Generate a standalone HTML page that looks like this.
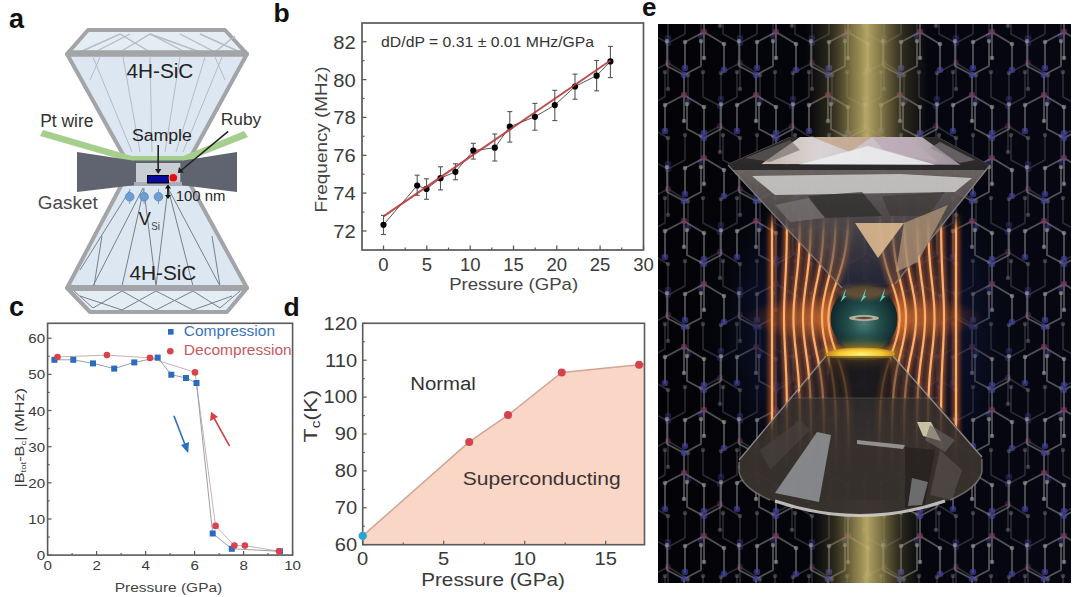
<!DOCTYPE html>
<html><head><meta charset="utf-8"><style>
html,body{margin:0;padding:0;background:#fff;overflow:hidden;}
svg{display:block;font-family:"Liberation Sans", sans-serif;}
</style></head><body>
<svg width="1080" height="597" viewBox="0 0 1080 597">
<rect width="1080" height="597" fill="#fff"/>
<g id="pa">
<polygon points="88,30 225,30 247,54 67,54" fill="#e4ecf4" stroke="#a2a4a8" stroke-width="4" stroke-linejoin="round"/>
<polygon points="67,54 247,54 190,158 125,158" fill="#dde7f1" stroke="#a2a4a8" stroke-width="4" stroke-linejoin="round"/>
<polygon points="122,184 190,184 247,288 67,288" fill="#dde7f1" stroke="#a2a4a8" stroke-width="4" stroke-linejoin="round"/>
<polygon points="67,288 247,288 227,312 90,312" fill="#e4ecf4" stroke="#a2a4a8" stroke-width="4" stroke-linejoin="round"/>
<polyline points="80,52 120,34 150,52" fill="none" stroke="#b4bcc6" stroke-width="1.4"/>
<polyline points="120,52 150,34 185,52" fill="none" stroke="#b4bcc6" stroke-width="1.4"/>
<polyline points="150,34 200,52" fill="none" stroke="#b4bcc6" stroke-width="1.4"/>
<polyline points="95,52 130,34" fill="none" stroke="#b4bcc6" stroke-width="1.4"/>
<polyline points="180,34 215,52 235,36" fill="none" stroke="#b4bcc6" stroke-width="1.4"/>
<polyline points="200,34 240,52" fill="none" stroke="#b4bcc6" stroke-width="1.4"/>
<line x1="93" y1="57" x2="132" y2="152" stroke="#b4bcc6" stroke-width="1"/>
<line x1="123" y1="57" x2="140" y2="152" stroke="#b4bcc6" stroke-width="1"/>
<line x1="150" y1="57" x2="152" y2="152" stroke="#b4bcc6" stroke-width="1"/>
<line x1="180" y1="57" x2="165" y2="152" stroke="#b4bcc6" stroke-width="1"/>
<line x1="205" y1="57" x2="176" y2="152" stroke="#b4bcc6" stroke-width="1"/>
<line x1="222" y1="57" x2="183" y2="152" stroke="#b4bcc6" stroke-width="1"/>
<line x1="100" y1="57" x2="90" y2="80" stroke="#b4bcc6" stroke-width="1"/>
<line x1="215" y1="57" x2="225" y2="80" stroke="#b4bcc6" stroke-width="1"/>
<line x1="143" y1="188" x2="93" y2="286" stroke="#76808a" stroke-width="1"/>
<line x1="144" y1="188" x2="122" y2="286" stroke="#76808a" stroke-width="1"/>
<line x1="145" y1="199" x2="156" y2="286" stroke="#76808a" stroke-width="1"/>
<line x1="168" y1="188" x2="156" y2="286" stroke="#76808a" stroke-width="1"/>
<line x1="168" y1="188" x2="193" y2="286" stroke="#76808a" stroke-width="1"/>
<line x1="168" y1="188" x2="220" y2="286" stroke="#76808a" stroke-width="1"/>
<line x1="102" y1="236" x2="94" y2="286" stroke="#76808a" stroke-width="1"/>
<line x1="212" y1="236" x2="220" y2="286" stroke="#76808a" stroke-width="1"/>
<line x1="130" y1="190" x2="80" y2="270" stroke="#76808a" stroke-width="1"/>
<polyline points="74,291 93,308 122,291 156,310 193,291 220,308 240,291" fill="none" stroke="#76808a" stroke-width="1"/>
<polyline points="80,296 122,310 156,291 193,310 232,296" fill="none" stroke="#76808a" stroke-width="1"/>
<line x1="67" y1="53.5" x2="247" y2="53.5" stroke="#a2a4a8" stroke-width="6.5"/>
<line x1="67" y1="288" x2="247" y2="288" stroke="#a2a4a8" stroke-width="6"/>
<polygon points="40,136 43,130 132,156 183,156 244,131 248,137 185,162 130,162" fill="#a6cf8e"/>
<polygon points="77,152 136,161 136,185 77,192" fill="#5f6470"/>
<polygon points="237,152 180,161 180,185 237,192" fill="#5f6470"/>
<rect x="134" y="160.5" width="48" height="3" fill="#5f6470"/>
<rect x="136" y="163" width="44.3" height="19" fill="#c9cdd4"/>
<rect x="134" y="182" width="48" height="4" fill="#a9aeb6"/>
<rect x="147.5" y="175.5" width="21" height="7.5" fill="#0a0a9a" stroke="#000" stroke-width="1"/>
<circle cx="173.3" cy="177.7" r="5" fill="#f0b0b0" opacity="0.6"/>
<circle cx="173.3" cy="177.7" r="3.8" fill="#e01010"/>
<line x1="158.2" y1="145" x2="158.2" y2="170" stroke="#222" stroke-width="1.6"/>
<polygon points="155,169 161.4,169 158.2,174" fill="#222"/>
<line x1="228.2" y1="131.3" x2="181" y2="170.5" stroke="#222" stroke-width="1.6"/>
<polygon points="177.8,173.1 179,167 184,172.5" fill="#222"/>
<line x1="129.7" y1="189" x2="129.7" y2="204" stroke="#7aa8d8" stroke-width="1"/>
<circle cx="129.7" cy="196.8" r="4.3" fill="#6d9dd2" stroke="#5585bd" stroke-width="0.8"/>
<line x1="144.1" y1="189" x2="144.1" y2="204" stroke="#7aa8d8" stroke-width="1"/>
<circle cx="144.1" cy="196.8" r="4.3" fill="#6d9dd2" stroke="#5585bd" stroke-width="0.8"/>
<line x1="158.5" y1="189" x2="158.5" y2="204" stroke="#7aa8d8" stroke-width="1"/>
<circle cx="158.5" cy="196.8" r="4.3" fill="#6d9dd2" stroke="#5585bd" stroke-width="0.8"/>
<line x1="168" y1="187" x2="168" y2="196" stroke="#111" stroke-width="1.6"/>
<polygon points="165,188.5 171,188.5 168,184.5" fill="#111"/>
<polygon points="165,195 171,195 168,199" fill="#111"/>
<text x="9" y="28.3" font-size="27" fill="#111" text-anchor="start" font-weight="bold" >a</text>
<text x="126.4" y="77.7" font-size="19.7" fill="#222" text-anchor="start" font-weight="normal" textLength="67" lengthAdjust="spacingAndGlyphs" >4H-SiC</text>
<text x="40.2" y="126.9" font-size="17.6" fill="#333" text-anchor="start" font-weight="normal" textLength="53.3" lengthAdjust="spacingAndGlyphs" >Pt wire</text>
<text x="220.8" y="124.9" font-size="17.3" fill="#333" text-anchor="start" font-weight="normal" textLength="40.5" lengthAdjust="spacingAndGlyphs" >Ruby</text>
<text x="131.9" y="140.9" font-size="17.3" fill="#222" text-anchor="start" font-weight="normal" textLength="60" lengthAdjust="spacingAndGlyphs" >Sample</text>
<text x="37.8" y="209.3" font-size="17.6" fill="#4a4a4a" text-anchor="start" font-weight="normal" textLength="60" lengthAdjust="spacingAndGlyphs" >Gasket</text>
<text x="138.5" y="225.2" font-size="19" fill="#222" text-anchor="start" font-weight="normal" textLength="12.4" lengthAdjust="spacingAndGlyphs" >V</text>
<text x="151.3" y="229.5" font-size="11" fill="#444" text-anchor="start" font-weight="normal" textLength="8.7" lengthAdjust="spacingAndGlyphs" >Si</text>
<text x="175.7" y="201" font-size="14.3" fill="#222" text-anchor="start" font-weight="normal" textLength="49.7" lengthAdjust="spacingAndGlyphs" >100 nm</text>
<text x="129.4" y="279.7" font-size="19.7" fill="#222" text-anchor="start" font-weight="normal" textLength="67" lengthAdjust="spacingAndGlyphs" >4H-SiC</text>
</g>
<g id="pb">
<line x1="383.5" y1="250" x2="383.5" y2="245.5" stroke="#5a5a5a" stroke-width="1.3"/>
<text transform="translate(383.5 271.3) scale(1.03 1)" x="0" y="0" font-size="18" fill="#3a3a3a" text-anchor="middle" font-weight="normal" >0</text>
<line x1="426.8" y1="250" x2="426.8" y2="245.5" stroke="#5a5a5a" stroke-width="1.3"/>
<text transform="translate(426.8 271.3) scale(1.03 1)" x="0" y="0" font-size="18" fill="#3a3a3a" text-anchor="middle" font-weight="normal" >5</text>
<line x1="470.2" y1="250" x2="470.2" y2="245.5" stroke="#5a5a5a" stroke-width="1.3"/>
<text transform="translate(470.2 271.3) scale(1.03 1)" x="0" y="0" font-size="18" fill="#3a3a3a" text-anchor="middle" font-weight="normal" >10</text>
<line x1="513.5" y1="250" x2="513.5" y2="245.5" stroke="#5a5a5a" stroke-width="1.3"/>
<text transform="translate(513.5 271.3) scale(1.03 1)" x="0" y="0" font-size="18" fill="#3a3a3a" text-anchor="middle" font-weight="normal" >15</text>
<line x1="556.8" y1="250" x2="556.8" y2="245.5" stroke="#5a5a5a" stroke-width="1.3"/>
<text transform="translate(556.8 271.3) scale(1.03 1)" x="0" y="0" font-size="18" fill="#3a3a3a" text-anchor="middle" font-weight="normal" >20</text>
<line x1="600.1" y1="250" x2="600.1" y2="245.5" stroke="#5a5a5a" stroke-width="1.3"/>
<text transform="translate(600.1 271.3) scale(1.03 1)" x="0" y="0" font-size="18" fill="#3a3a3a" text-anchor="middle" font-weight="normal" >25</text>
<line x1="643.5" y1="250" x2="643.5" y2="245.5" stroke="#5a5a5a" stroke-width="1.3"/>
<text transform="translate(643.5 271.3) scale(1.03 1)" x="0" y="0" font-size="18" fill="#3a3a3a" text-anchor="middle" font-weight="normal" >30</text>
<line x1="405.2" y1="250" x2="405.2" y2="247.5" stroke="#5a5a5a" stroke-width="1.2"/>
<line x1="448.5" y1="250" x2="448.5" y2="247.5" stroke="#5a5a5a" stroke-width="1.2"/>
<line x1="491.8" y1="250" x2="491.8" y2="247.5" stroke="#5a5a5a" stroke-width="1.2"/>
<line x1="535.2" y1="250" x2="535.2" y2="247.5" stroke="#5a5a5a" stroke-width="1.2"/>
<line x1="578.5" y1="250" x2="578.5" y2="247.5" stroke="#5a5a5a" stroke-width="1.2"/>
<line x1="621.8" y1="250" x2="621.8" y2="247.5" stroke="#5a5a5a" stroke-width="1.2"/>
<line x1="362" y1="231.0" x2="366.5" y2="231.0" stroke="#5a5a5a" stroke-width="1.3"/>
<text transform="translate(355.6 238.0) scale(1.12 1)" x="0" y="0" font-size="18" fill="#3a3a3a" text-anchor="end" font-weight="normal" >72</text>
<line x1="362" y1="193.1" x2="366.5" y2="193.1" stroke="#5a5a5a" stroke-width="1.3"/>
<text transform="translate(355.6 200.1) scale(1.12 1)" x="0" y="0" font-size="18" fill="#3a3a3a" text-anchor="end" font-weight="normal" >74</text>
<line x1="362" y1="155.3" x2="366.5" y2="155.3" stroke="#5a5a5a" stroke-width="1.3"/>
<text transform="translate(355.6 162.3) scale(1.12 1)" x="0" y="0" font-size="18" fill="#3a3a3a" text-anchor="end" font-weight="normal" >76</text>
<line x1="362" y1="117.4" x2="366.5" y2="117.4" stroke="#5a5a5a" stroke-width="1.3"/>
<text transform="translate(355.6 124.4) scale(1.12 1)" x="0" y="0" font-size="18" fill="#3a3a3a" text-anchor="end" font-weight="normal" >78</text>
<line x1="362" y1="79.6" x2="366.5" y2="79.6" stroke="#5a5a5a" stroke-width="1.3"/>
<text transform="translate(355.6 86.6) scale(1.12 1)" x="0" y="0" font-size="18" fill="#3a3a3a" text-anchor="end" font-weight="normal" >80</text>
<line x1="362" y1="41.7" x2="366.5" y2="41.7" stroke="#5a5a5a" stroke-width="1.3"/>
<text transform="translate(355.6 48.7) scale(1.12 1)" x="0" y="0" font-size="18" fill="#3a3a3a" text-anchor="end" font-weight="normal" >82</text>
<line x1="362" y1="212.1" x2="364.5" y2="212.1" stroke="#5a5a5a" stroke-width="1.2"/>
<line x1="362" y1="174.2" x2="364.5" y2="174.2" stroke="#5a5a5a" stroke-width="1.2"/>
<line x1="362" y1="136.3" x2="364.5" y2="136.3" stroke="#5a5a5a" stroke-width="1.2"/>
<line x1="362" y1="98.5" x2="364.5" y2="98.5" stroke="#5a5a5a" stroke-width="1.2"/>
<line x1="362" y1="60.6" x2="364.5" y2="60.6" stroke="#5a5a5a" stroke-width="1.2"/>
<rect x="362" y="23" width="281.5" height="227" fill="none" stroke="#5a5a5a" stroke-width="1.7"/>
<line x1="383.5" y1="215.4" x2="383.5" y2="234.5" stroke="#555" stroke-width="1.1"/>
<line x1="381.0" y1="215.4" x2="386.0" y2="215.4" stroke="#555" stroke-width="1.1"/>
<line x1="381.0" y1="234.5" x2="386.0" y2="234.5" stroke="#555" stroke-width="1.1"/>
<line x1="417.2" y1="175.2" x2="417.2" y2="195.3" stroke="#555" stroke-width="1.1"/>
<line x1="414.7" y1="175.2" x2="419.7" y2="175.2" stroke="#555" stroke-width="1.1"/>
<line x1="414.7" y1="195.3" x2="419.7" y2="195.3" stroke="#555" stroke-width="1.1"/>
<line x1="426.5" y1="178.8" x2="426.5" y2="199.3" stroke="#555" stroke-width="1.1"/>
<line x1="424.0" y1="178.8" x2="429.0" y2="178.8" stroke="#555" stroke-width="1.1"/>
<line x1="424.0" y1="199.3" x2="429.0" y2="199.3" stroke="#555" stroke-width="1.1"/>
<line x1="440.5" y1="166.8" x2="440.5" y2="189.9" stroke="#555" stroke-width="1.1"/>
<line x1="438.0" y1="166.8" x2="443.0" y2="166.8" stroke="#555" stroke-width="1.1"/>
<line x1="438.0" y1="189.9" x2="443.0" y2="189.9" stroke="#555" stroke-width="1.1"/>
<line x1="455.4" y1="163.8" x2="455.4" y2="179.8" stroke="#555" stroke-width="1.1"/>
<line x1="452.9" y1="163.8" x2="457.9" y2="163.8" stroke="#555" stroke-width="1.1"/>
<line x1="452.9" y1="179.8" x2="457.9" y2="179.8" stroke="#555" stroke-width="1.1"/>
<line x1="473.3" y1="143.3" x2="473.3" y2="159.1" stroke="#555" stroke-width="1.1"/>
<line x1="470.8" y1="143.3" x2="475.8" y2="143.3" stroke="#555" stroke-width="1.1"/>
<line x1="470.8" y1="159.1" x2="475.8" y2="159.1" stroke="#555" stroke-width="1.1"/>
<line x1="494.8" y1="134" x2="494.8" y2="161" stroke="#555" stroke-width="1.1"/>
<line x1="492.3" y1="134" x2="497.3" y2="134" stroke="#555" stroke-width="1.1"/>
<line x1="492.3" y1="161" x2="497.3" y2="161" stroke="#555" stroke-width="1.1"/>
<line x1="509.8" y1="111.6" x2="509.8" y2="142.1" stroke="#555" stroke-width="1.1"/>
<line x1="507.3" y1="111.6" x2="512.3" y2="111.6" stroke="#555" stroke-width="1.1"/>
<line x1="507.3" y1="142.1" x2="512.3" y2="142.1" stroke="#555" stroke-width="1.1"/>
<line x1="534.9" y1="103.4" x2="534.9" y2="130.2" stroke="#555" stroke-width="1.1"/>
<line x1="532.4" y1="103.4" x2="537.4" y2="103.4" stroke="#555" stroke-width="1.1"/>
<line x1="532.4" y1="130.2" x2="537.4" y2="130.2" stroke="#555" stroke-width="1.1"/>
<line x1="554.8" y1="90.3" x2="554.8" y2="120.6" stroke="#555" stroke-width="1.1"/>
<line x1="552.3" y1="90.3" x2="557.3" y2="90.3" stroke="#555" stroke-width="1.1"/>
<line x1="552.3" y1="120.6" x2="557.3" y2="120.6" stroke="#555" stroke-width="1.1"/>
<line x1="575" y1="74.1" x2="575" y2="99.2" stroke="#555" stroke-width="1.1"/>
<line x1="572.5" y1="74.1" x2="577.5" y2="74.1" stroke="#555" stroke-width="1.1"/>
<line x1="572.5" y1="99.2" x2="577.5" y2="99.2" stroke="#555" stroke-width="1.1"/>
<line x1="596.6" y1="60.5" x2="596.6" y2="90.8" stroke="#555" stroke-width="1.1"/>
<line x1="594.1" y1="60.5" x2="599.1" y2="60.5" stroke="#555" stroke-width="1.1"/>
<line x1="594.1" y1="90.8" x2="599.1" y2="90.8" stroke="#555" stroke-width="1.1"/>
<line x1="610.4" y1="46.4" x2="610.4" y2="77.6" stroke="#555" stroke-width="1.1"/>
<line x1="607.9" y1="46.4" x2="612.9" y2="46.4" stroke="#555" stroke-width="1.1"/>
<line x1="607.9" y1="77.6" x2="612.9" y2="77.6" stroke="#555" stroke-width="1.1"/>
<polyline points="383.5,224.8 417.2,185.5 426.5,188.9 440.5,178.2 455.4,171.8 473.3,150.7 494.8,147.7 509.8,126.7 534.9,116.8 554.8,105.1 575,86.5 596.6,75.7 610.4,61.4" fill="none" stroke="#444" stroke-width="0.9"/>
<circle cx="383.5" cy="224.8" r="3.1" fill="#000"/>
<circle cx="417.2" cy="185.5" r="3.1" fill="#000"/>
<circle cx="426.5" cy="188.9" r="3.1" fill="#000"/>
<circle cx="440.5" cy="178.2" r="3.1" fill="#000"/>
<circle cx="455.4" cy="171.8" r="3.1" fill="#000"/>
<circle cx="473.3" cy="150.7" r="3.1" fill="#000"/>
<circle cx="494.8" cy="147.7" r="3.1" fill="#000"/>
<circle cx="509.8" cy="126.7" r="3.1" fill="#000"/>
<circle cx="534.9" cy="116.8" r="3.1" fill="#000"/>
<circle cx="554.8" cy="105.1" r="3.1" fill="#000"/>
<circle cx="575" cy="86.5" r="3.1" fill="#000"/>
<circle cx="596.6" cy="75.7" r="3.1" fill="#000"/>
<circle cx="610.4" cy="61.4" r="3.1" fill="#000"/>
<line x1="383.5" y1="216.4" x2="610.4" y2="60.5" stroke="#b83a3a" stroke-width="2" opacity="0.9"/>
<text x="273.4" y="22.2" font-size="26.5" fill="#111" text-anchor="start" font-weight="bold" >b</text>
<text x="381.1" y="47.2" font-size="14" fill="#333" text-anchor="start" font-weight="normal" textLength="213" lengthAdjust="spacingAndGlyphs" >dD/dP = 0.31 ± 0.01 MHz/GPa</text>
<text x="449.2" y="290.3" font-size="16.2" fill="#444" text-anchor="start" font-weight="normal" textLength="128.9" lengthAdjust="spacingAndGlyphs" >Pressure (GPa)</text>
<text transform="translate(326.7,212.5) rotate(-90)" x="0" y="0" font-size="17.2" fill="#444" textLength="146" lengthAdjust="spacingAndGlyphs">Frequency (MHz)</text>
</g>
<g id="pc">
<line x1="47.6" y1="555.1" x2="47.6" y2="551.1" stroke="#5a5a5a" stroke-width="1.2"/>
<text transform="translate(47.6 569.5) scale(1.12 1)" x="0" y="0" font-size="13.5" fill="#3a3a3a" text-anchor="middle" font-weight="normal" >0</text>
<line x1="96.6" y1="555.1" x2="96.6" y2="551.1" stroke="#5a5a5a" stroke-width="1.2"/>
<text transform="translate(96.6 569.5) scale(1.12 1)" x="0" y="0" font-size="13.5" fill="#3a3a3a" text-anchor="middle" font-weight="normal" >2</text>
<line x1="145.6" y1="555.1" x2="145.6" y2="551.1" stroke="#5a5a5a" stroke-width="1.2"/>
<text transform="translate(145.6 569.5) scale(1.12 1)" x="0" y="0" font-size="13.5" fill="#3a3a3a" text-anchor="middle" font-weight="normal" >4</text>
<line x1="194.6" y1="555.1" x2="194.6" y2="551.1" stroke="#5a5a5a" stroke-width="1.2"/>
<text transform="translate(194.6 569.5) scale(1.12 1)" x="0" y="0" font-size="13.5" fill="#3a3a3a" text-anchor="middle" font-weight="normal" >6</text>
<line x1="243.6" y1="555.1" x2="243.6" y2="551.1" stroke="#5a5a5a" stroke-width="1.2"/>
<text transform="translate(243.6 569.5) scale(1.12 1)" x="0" y="0" font-size="13.5" fill="#3a3a3a" text-anchor="middle" font-weight="normal" >8</text>
<line x1="292.6" y1="555.1" x2="292.6" y2="551.1" stroke="#5a5a5a" stroke-width="1.2"/>
<text transform="translate(292.6 569.5) scale(1.12 1)" x="0" y="0" font-size="13.5" fill="#3a3a3a" text-anchor="middle" font-weight="normal" >10</text>
<line x1="72.1" y1="555.1" x2="72.1" y2="552.9" stroke="#5a5a5a" stroke-width="1.1"/>
<line x1="121.1" y1="555.1" x2="121.1" y2="552.9" stroke="#5a5a5a" stroke-width="1.1"/>
<line x1="170.1" y1="555.1" x2="170.1" y2="552.9" stroke="#5a5a5a" stroke-width="1.1"/>
<line x1="219.1" y1="555.1" x2="219.1" y2="552.9" stroke="#5a5a5a" stroke-width="1.1"/>
<line x1="268.1" y1="555.1" x2="268.1" y2="552.9" stroke="#5a5a5a" stroke-width="1.1"/>
<line x1="47.6" y1="555.1" x2="51.6" y2="555.1" stroke="#5a5a5a" stroke-width="1.2"/>
<text transform="translate(45.1 560.1) scale(1.12 1)" x="0" y="0" font-size="13.5" fill="#3a3a3a" text-anchor="end" font-weight="normal" >0</text>
<line x1="47.6" y1="519.0" x2="51.6" y2="519.0" stroke="#5a5a5a" stroke-width="1.2"/>
<text transform="translate(45.1 524.0) scale(1.12 1)" x="0" y="0" font-size="13.5" fill="#3a3a3a" text-anchor="end" font-weight="normal" >10</text>
<line x1="47.6" y1="482.8" x2="51.6" y2="482.8" stroke="#5a5a5a" stroke-width="1.2"/>
<text transform="translate(45.1 487.8) scale(1.12 1)" x="0" y="0" font-size="13.5" fill="#3a3a3a" text-anchor="end" font-weight="normal" >20</text>
<line x1="47.6" y1="446.7" x2="51.6" y2="446.7" stroke="#5a5a5a" stroke-width="1.2"/>
<text transform="translate(45.1 451.7) scale(1.12 1)" x="0" y="0" font-size="13.5" fill="#3a3a3a" text-anchor="end" font-weight="normal" >30</text>
<line x1="47.6" y1="410.5" x2="51.6" y2="410.5" stroke="#5a5a5a" stroke-width="1.2"/>
<text transform="translate(45.1 415.5) scale(1.12 1)" x="0" y="0" font-size="13.5" fill="#3a3a3a" text-anchor="end" font-weight="normal" >40</text>
<line x1="47.6" y1="374.4" x2="51.6" y2="374.4" stroke="#5a5a5a" stroke-width="1.2"/>
<text transform="translate(45.1 379.4) scale(1.12 1)" x="0" y="0" font-size="13.5" fill="#3a3a3a" text-anchor="end" font-weight="normal" >50</text>
<line x1="47.6" y1="338.2" x2="51.6" y2="338.2" stroke="#5a5a5a" stroke-width="1.2"/>
<text transform="translate(45.1 343.2) scale(1.12 1)" x="0" y="0" font-size="13.5" fill="#3a3a3a" text-anchor="end" font-weight="normal" >60</text>
<line x1="47.6" y1="537.0" x2="49.800000000000004" y2="537.0" stroke="#5a5a5a" stroke-width="1.1"/>
<line x1="47.6" y1="500.9" x2="49.800000000000004" y2="500.9" stroke="#5a5a5a" stroke-width="1.1"/>
<line x1="47.6" y1="464.7" x2="49.800000000000004" y2="464.7" stroke="#5a5a5a" stroke-width="1.1"/>
<line x1="47.6" y1="428.6" x2="49.800000000000004" y2="428.6" stroke="#5a5a5a" stroke-width="1.1"/>
<line x1="47.6" y1="392.4" x2="49.800000000000004" y2="392.4" stroke="#5a5a5a" stroke-width="1.1"/>
<line x1="47.6" y1="356.3" x2="49.800000000000004" y2="356.3" stroke="#5a5a5a" stroke-width="1.1"/>
<rect x="47.6" y="323.3" width="245.00000000000003" height="231.8" fill="none" stroke="#5a5a5a" stroke-width="1.6"/>
<polyline points="57.5,357 106.9,355.1 150,357.9 195,372.4 215.6,525.9 234.4,545.6 244.9,545.6 279,551.3" fill="none" stroke="#c8b0b0" stroke-width="1"/>
<polyline points="54.4,359.8 73.3,359.8 93,363.4 114.2,368.6 134.3,362.4 157.7,357.6 171.3,374.7 186,378 196.5,383 212.7,533.5 231.8,548.8 280,551.3" fill="none" stroke="#9aa0a8" stroke-width="1"/>
<rect x="51.4" y="356.8" width="6" height="6" fill="#2c6cbf"/>
<rect x="70.3" y="356.8" width="6" height="6" fill="#2c6cbf"/>
<rect x="90" y="360.4" width="6" height="6" fill="#2c6cbf"/>
<rect x="111.2" y="365.6" width="6" height="6" fill="#2c6cbf"/>
<rect x="131.3" y="359.4" width="6" height="6" fill="#2c6cbf"/>
<rect x="154.7" y="354.6" width="6" height="6" fill="#2c6cbf"/>
<rect x="168.3" y="371.7" width="6" height="6" fill="#2c6cbf"/>
<rect x="183" y="375" width="6" height="6" fill="#2c6cbf"/>
<rect x="193.5" y="380" width="6" height="6" fill="#2c6cbf"/>
<rect x="209.7" y="530.5" width="6" height="6" fill="#2c6cbf"/>
<rect x="228.8" y="545.8" width="6" height="6" fill="#2c6cbf"/>
<rect x="277" y="548.3" width="6" height="6" fill="#2c6cbf"/>
<circle cx="57.5" cy="357" r="3.3" fill="#d9424b"/>
<circle cx="106.9" cy="355.1" r="3.3" fill="#d9424b"/>
<circle cx="150" cy="357.9" r="3.3" fill="#d9424b"/>
<circle cx="195" cy="372.4" r="3.3" fill="#d9424b"/>
<circle cx="215.6" cy="525.9" r="3.3" fill="#d9424b"/>
<circle cx="234.4" cy="545.6" r="3.3" fill="#d9424b"/>
<circle cx="244.9" cy="545.6" r="3.3" fill="#d9424b"/>
<circle cx="279" cy="551.3" r="3.3" fill="#d9424b"/>
<rect x="168" y="329" width="5.6" height="5.7" fill="#2c6cbf"/>
<circle cx="170.3" cy="351.3" r="3.3" fill="#d9424b"/>
<text x="183.8" y="336.4" font-size="14.3" fill="#3a74b8" text-anchor="start" font-weight="normal" textLength="91.2" lengthAdjust="spacingAndGlyphs" >Compression</text>
<text x="183.8" y="355.2" font-size="14.3" fill="#c65a5e" text-anchor="start" font-weight="normal" textLength="107.9" lengthAdjust="spacingAndGlyphs" >Decompression</text>
<line x1="173.9" y1="415.7" x2="185.5" y2="446" stroke="#2a70c0" stroke-width="1.6"/>
<polygon points="188.2,453.2 181,445 189,442" fill="#2a70c0"/>
<line x1="229.6" y1="446.2" x2="214" y2="418" stroke="#d84040" stroke-width="1.6"/>
<polygon points="211.1,411.8 210,421 218,417" fill="#d84040"/>
<text x="9" y="316.2" font-size="27" fill="#111" text-anchor="start" font-weight="bold" >c</text>
<text x="114.8" y="591.7" font-size="13.5" fill="#444" text-anchor="start" font-weight="normal" textLength="107.4" lengthAdjust="spacingAndGlyphs" >Pressure (GPa)</text>
<text transform="translate(23.5,487.5) rotate(-90) scale(1.2 1)" font-size="13.5" fill="#3a3a3a">|B<tspan font-size="8" dy="2.5">tot</tspan><tspan dy="-2.5">-B</tspan><tspan font-size="8" dy="2.5">c</tspan><tspan dy="-2.5">| (MHz)</tspan></text>
</g>
<g id="pd">
<polygon points="362.7,544.7 362.7,535.9 469.2,441.9 508,415.1 561.7,372.4 639.1,364.7 644.5,364.2 644.5,544.7" fill="#f9d6c6"/>
<polyline points="362.7,535.9 469.2,441.9 508,415.1 561.7,372.4 639.1,364.7 644.5,364.2" fill="none" stroke="#d0a595" stroke-width="1.5"/>
<line x1="362.7" y1="544.7" x2="362.7" y2="540.7" stroke="#5a5a5a" stroke-width="1.2"/>
<text transform="translate(362.7 565) scale(1.12 1)" x="0" y="0" font-size="18" fill="#3a3a3a" text-anchor="middle" font-weight="normal" >0</text>
<line x1="443.7" y1="544.7" x2="443.7" y2="540.7" stroke="#5a5a5a" stroke-width="1.2"/>
<text transform="translate(443.7 565) scale(1.12 1)" x="0" y="0" font-size="18" fill="#3a3a3a" text-anchor="middle" font-weight="normal" >5</text>
<line x1="524.7" y1="544.7" x2="524.7" y2="540.7" stroke="#5a5a5a" stroke-width="1.2"/>
<text transform="translate(524.7 565) scale(1.12 1)" x="0" y="0" font-size="18" fill="#3a3a3a" text-anchor="middle" font-weight="normal" >10</text>
<line x1="605.7" y1="544.7" x2="605.7" y2="540.7" stroke="#5a5a5a" stroke-width="1.2"/>
<text transform="translate(605.7 565) scale(1.12 1)" x="0" y="0" font-size="18" fill="#3a3a3a" text-anchor="middle" font-weight="normal" >15</text>
<line x1="403.2" y1="544.7" x2="403.2" y2="542.5" stroke="#5a5a5a" stroke-width="1.1"/>
<line x1="484.2" y1="544.7" x2="484.2" y2="542.5" stroke="#5a5a5a" stroke-width="1.1"/>
<line x1="565.2" y1="544.7" x2="565.2" y2="542.5" stroke="#5a5a5a" stroke-width="1.1"/>
<line x1="362.7" y1="544.7" x2="366.7" y2="544.7" stroke="#5a5a5a" stroke-width="1.2"/>
<text transform="translate(357.1 551.0) scale(1.15 1)" x="0" y="0" font-size="17.5" fill="#3a3a3a" text-anchor="end" font-weight="normal" >60</text>
<line x1="362.7" y1="507.8" x2="366.7" y2="507.8" stroke="#5a5a5a" stroke-width="1.2"/>
<text transform="translate(357.1 514.1) scale(1.15 1)" x="0" y="0" font-size="17.5" fill="#3a3a3a" text-anchor="end" font-weight="normal" >70</text>
<line x1="362.7" y1="470.9" x2="366.7" y2="470.9" stroke="#5a5a5a" stroke-width="1.2"/>
<text transform="translate(357.1 477.2) scale(1.15 1)" x="0" y="0" font-size="17.5" fill="#3a3a3a" text-anchor="end" font-weight="normal" >80</text>
<line x1="362.7" y1="434.0" x2="366.7" y2="434.0" stroke="#5a5a5a" stroke-width="1.2"/>
<text transform="translate(357.1 440.3) scale(1.15 1)" x="0" y="0" font-size="17.5" fill="#3a3a3a" text-anchor="end" font-weight="normal" >90</text>
<line x1="362.7" y1="397.1" x2="366.7" y2="397.1" stroke="#5a5a5a" stroke-width="1.2"/>
<text transform="translate(357.1 403.4) scale(1.15 1)" x="0" y="0" font-size="17.5" fill="#3a3a3a" text-anchor="end" font-weight="normal" >100</text>
<line x1="362.7" y1="360.2" x2="366.7" y2="360.2" stroke="#5a5a5a" stroke-width="1.2"/>
<text transform="translate(357.1 366.5) scale(1.15 1)" x="0" y="0" font-size="17.5" fill="#3a3a3a" text-anchor="end" font-weight="normal" >110</text>
<line x1="362.7" y1="323.3" x2="366.7" y2="323.3" stroke="#5a5a5a" stroke-width="1.2"/>
<text transform="translate(357.1 329.6) scale(1.15 1)" x="0" y="0" font-size="17.5" fill="#3a3a3a" text-anchor="end" font-weight="normal" >120</text>
<line x1="362.7" y1="526.2" x2="364.9" y2="526.2" stroke="#5a5a5a" stroke-width="1.1"/>
<line x1="362.7" y1="489.4" x2="364.9" y2="489.4" stroke="#5a5a5a" stroke-width="1.1"/>
<line x1="362.7" y1="452.5" x2="364.9" y2="452.5" stroke="#5a5a5a" stroke-width="1.1"/>
<line x1="362.7" y1="415.6" x2="364.9" y2="415.6" stroke="#5a5a5a" stroke-width="1.1"/>
<line x1="362.7" y1="378.7" x2="364.9" y2="378.7" stroke="#5a5a5a" stroke-width="1.1"/>
<line x1="362.7" y1="341.8" x2="364.9" y2="341.8" stroke="#5a5a5a" stroke-width="1.1"/>
<rect x="362.7" y="323.3" width="281.8" height="221.40000000000003" fill="none" stroke="#5a5a5a" stroke-width="1.6"/>
<circle cx="469.2" cy="441.9" r="4" fill="#d4424c"/>
<circle cx="508" cy="415.1" r="4" fill="#d4424c"/>
<circle cx="561.7" cy="372.4" r="4" fill="#d4424c"/>
<circle cx="639.1" cy="364.7" r="4" fill="#d4424c"/>
<circle cx="362.7" cy="535.9" r="4.2" fill="#2aa2d6"/>
<text x="283.5" y="316.2" font-size="26.5" fill="#111" text-anchor="start" font-weight="bold" >d</text>
<text x="410.2" y="390.1" font-size="19.2" fill="#333" text-anchor="start" font-weight="normal" textLength="65.7" lengthAdjust="spacingAndGlyphs" >Normal</text>
<text x="462.8" y="484.5" font-size="19" fill="#3d3232" text-anchor="start" font-weight="normal" textLength="157.9" lengthAdjust="spacingAndGlyphs" >Superconducting</text>
<text x="421.2" y="585.5" font-size="18.5" fill="#3a3a3a" text-anchor="start" font-weight="normal" textLength="143.7" lengthAdjust="spacingAndGlyphs" >Pressure (GPa)</text>
<text transform="translate(316.5,442.5) rotate(-90) scale(1.22 1)" font-size="19" fill="#3a3a3a">T<tspan font-size="12.5" dy="3.5">c</tspan><tspan dy="-3.5" font-size="19">(K)</tspan></text>
</g>
<g id="pe">
<defs><clipPath id="clipE"><rect x="658" y="24" width="413" height="559"/></clipPath><filter id="blur1" x="-10%" y="-10%" width="120%" height="120%"><feGaussianBlur stdDeviation="0.7"/></filter><filter id="blur2" x="-50%" y="-50%" width="200%" height="200%"><feGaussianBlur stdDeviation="2"/></filter><filter id="blur4" x="-50%" y="-50%" width="200%" height="200%"><feGaussianBlur stdDeviation="4"/></filter><filter id="blur8" x="-50%" y="-50%" width="200%" height="200%"><feGaussianBlur stdDeviation="8"/></filter><linearGradient id="beam" x1="0" x2="1" y1="0" y2="0"><stop offset="0" stop-color="#8a7c44" stop-opacity="0"/><stop offset="0.2" stop-color="#8a7c44" stop-opacity="0.3"/><stop offset="0.38" stop-color="#a89a58" stop-opacity="0.75"/><stop offset="0.5" stop-color="#c2b26c" stop-opacity="0.92"/><stop offset="0.62" stop-color="#a89a58" stop-opacity="0.75"/><stop offset="0.8" stop-color="#8a7c44" stop-opacity="0.3"/><stop offset="1" stop-color="#8a7c44" stop-opacity="0"/></linearGradient><radialGradient id="haze" cx="0.5" cy="0.5" r="0.5"><stop offset="0" stop-color="#18244a" stop-opacity="0.75"/><stop offset="1" stop-color="#0a1020" stop-opacity="0"/></radialGradient><radialGradient id="sph" cx="0.5" cy="0.55" r="0.5"><stop offset="0" stop-color="#4e7e78"/><stop offset="0.45" stop-color="#24504e"/><stop offset="1" stop-color="#10282c"/></radialGradient><radialGradient id="disk" cx="0.5" cy="0.5" r="0.5"><stop offset="0" stop-color="#fff27a"/><stop offset="0.65" stop-color="#f2c830"/><stop offset="1" stop-color="#c88a20"/></radialGradient><radialGradient id="oglow" cx="0.5" cy="0.5" r="0.5"><stop offset="0" stop-color="#ffa048" stop-opacity="0.8"/><stop offset="1" stop-color="#ff7020" stop-opacity="0"/></radialGradient><linearGradient id="crownG" x1="0" x2="1" y1="0" y2="0"><stop offset="0" stop-color="#c0a898"/><stop offset="0.35" stop-color="#d8d4d4"/><stop offset="0.6" stop-color="#c8bcc0"/><stop offset="1" stop-color="#8a8088"/></linearGradient><linearGradient id="lineFade" x1="0" x2="0" y1="0" y2="1" gradientUnits="userSpaceOnUse" ></linearGradient><linearGradient id="fadeV" x1="0" y1="210" x2="0" y2="475" gradientUnits="userSpaceOnUse"><stop offset="0" stop-color="#fff" stop-opacity="0"/><stop offset="0.08" stop-color="#fff" stop-opacity="1"/><stop offset="0.88" stop-color="#fff" stop-opacity="1"/><stop offset="1" stop-color="#fff" stop-opacity="0"/></linearGradient><mask id="lmask"><rect x="650" y="200" width="430" height="290" fill="url(#fadeV)"/></mask></defs>
<g clip-path="url(#clipE)">
<defs><linearGradient id="bgE" x1="658" y1="0" x2="1071" y2="0" gradientUnits="userSpaceOnUse"><stop offset="0" stop-color="#030307"/><stop offset="0.5" stop-color="#04050c"/><stop offset="1" stop-color="#060712"/></linearGradient></defs>
<rect x="658" y="24" width="413" height="559" fill="url(#bgE)"/>
<ellipse cx="864" cy="330" rx="170" ry="210" fill="url(#haze)"/>
<g filter="url(#blur1)">
<path d="M648.0 -20.0L648.0 26.0M648.0 0.0L629.0 10.0M629.0 10.0L629.0 36.0M648.0 0.0L668.0 12.0M668.0 12.0L668.0 38.0M648.0 -20.0L631.0 -29.0M648.0 -20.0L665.0 -29.0M631.0 -29.0L631.0 -54.0M665.0 -29.0L665.0 -54.0M720.0 -20.0L720.0 26.0M720.0 0.0L701.0 10.0M701.0 10.0L701.0 36.0M720.0 0.0L740.0 12.0M740.0 12.0L740.0 38.0M720.0 -20.0L703.0 -29.0M720.0 -20.0L737.0 -29.0M703.0 -29.0L703.0 -54.0M737.0 -29.0L737.0 -54.0M792.0 -20.0L792.0 26.0M792.0 0.0L773.0 10.0M773.0 10.0L773.0 36.0M792.0 0.0L812.0 12.0M812.0 12.0L812.0 38.0M792.0 -20.0L775.0 -29.0M792.0 -20.0L809.0 -29.0M775.0 -29.0L775.0 -54.0M809.0 -29.0L809.0 -54.0M864.0 -20.0L864.0 26.0M864.0 0.0L845.0 10.0M845.0 10.0L845.0 36.0M864.0 0.0L884.0 12.0M884.0 12.0L884.0 38.0M864.0 -20.0L847.0 -29.0M864.0 -20.0L881.0 -29.0M847.0 -29.0L847.0 -54.0M881.0 -29.0L881.0 -54.0M936.0 -20.0L936.0 26.0M936.0 0.0L917.0 10.0M917.0 10.0L917.0 36.0M936.0 0.0L956.0 12.0M956.0 12.0L956.0 38.0M936.0 -20.0L919.0 -29.0M936.0 -20.0L953.0 -29.0M919.0 -29.0L919.0 -54.0M953.0 -29.0L953.0 -54.0M1008.0 -20.0L1008.0 26.0M1008.0 0.0L989.0 10.0M989.0 10.0L989.0 36.0M1008.0 0.0L1028.0 12.0M1028.0 12.0L1028.0 38.0M1008.0 -20.0L991.0 -29.0M1008.0 -20.0L1025.0 -29.0M991.0 -29.0L991.0 -54.0M1025.0 -29.0L1025.0 -54.0M1080.0 -20.0L1080.0 26.0M1080.0 0.0L1061.0 10.0M1061.0 10.0L1061.0 36.0M1080.0 0.0L1100.0 12.0M1100.0 12.0L1100.0 38.0M1080.0 -20.0L1063.0 -29.0M1080.0 -20.0L1097.0 -29.0M1063.0 -29.0L1063.0 -54.0M1097.0 -29.0L1097.0 -54.0M668.0 43.0L668.0 89.0M668.0 63.0L649.0 73.0M649.0 73.0L649.0 99.0M668.0 63.0L688.0 75.0M688.0 75.0L688.0 101.0M668.0 43.0L651.0 34.0M668.0 43.0L685.0 34.0M651.0 34.0L651.0 9.0M685.0 34.0L685.0 9.0M740.0 43.0L740.0 89.0M740.0 63.0L721.0 73.0M721.0 73.0L721.0 99.0M740.0 63.0L760.0 75.0M760.0 75.0L760.0 101.0M740.0 43.0L723.0 34.0M740.0 43.0L757.0 34.0M723.0 34.0L723.0 9.0M757.0 34.0L757.0 9.0M812.0 43.0L812.0 89.0M812.0 63.0L793.0 73.0M793.0 73.0L793.0 99.0M812.0 63.0L832.0 75.0M832.0 75.0L832.0 101.0M812.0 43.0L795.0 34.0M812.0 43.0L829.0 34.0M795.0 34.0L795.0 9.0M829.0 34.0L829.0 9.0M884.0 43.0L884.0 89.0M884.0 63.0L865.0 73.0M865.0 73.0L865.0 99.0M884.0 63.0L904.0 75.0M904.0 75.0L904.0 101.0M884.0 43.0L867.0 34.0M884.0 43.0L901.0 34.0M867.0 34.0L867.0 9.0M901.0 34.0L901.0 9.0M956.0 43.0L956.0 89.0M956.0 63.0L937.0 73.0M937.0 73.0L937.0 99.0M956.0 63.0L976.0 75.0M976.0 75.0L976.0 101.0M956.0 43.0L939.0 34.0M956.0 43.0L973.0 34.0M939.0 34.0L939.0 9.0M973.0 34.0L973.0 9.0M1028.0 43.0L1028.0 89.0M1028.0 63.0L1009.0 73.0M1009.0 73.0L1009.0 99.0M1028.0 63.0L1048.0 75.0M1048.0 75.0L1048.0 101.0M1028.0 43.0L1011.0 34.0M1028.0 43.0L1045.0 34.0M1011.0 34.0L1011.0 9.0M1045.0 34.0L1045.0 9.0M1100.0 43.0L1100.0 89.0M1100.0 63.0L1081.0 73.0M1081.0 73.0L1081.0 99.0M1100.0 63.0L1120.0 75.0M1120.0 75.0L1120.0 101.0M1100.0 43.0L1083.0 34.0M1100.0 43.0L1117.0 34.0M1083.0 34.0L1083.0 9.0M1117.0 34.0L1117.0 9.0M648.0 106.0L648.0 152.0M648.0 126.0L629.0 136.0M629.0 136.0L629.0 162.0M648.0 126.0L668.0 138.0M668.0 138.0L668.0 164.0M648.0 106.0L631.0 97.0M648.0 106.0L665.0 97.0M631.0 97.0L631.0 72.0M665.0 97.0L665.0 72.0M720.0 106.0L720.0 152.0M720.0 126.0L701.0 136.0M701.0 136.0L701.0 162.0M720.0 126.0L740.0 138.0M740.0 138.0L740.0 164.0M720.0 106.0L703.0 97.0M720.0 106.0L737.0 97.0M703.0 97.0L703.0 72.0M737.0 97.0L737.0 72.0M792.0 106.0L792.0 152.0M792.0 126.0L773.0 136.0M773.0 136.0L773.0 162.0M792.0 126.0L812.0 138.0M812.0 138.0L812.0 164.0M792.0 106.0L775.0 97.0M792.0 106.0L809.0 97.0M775.0 97.0L775.0 72.0M809.0 97.0L809.0 72.0M864.0 106.0L864.0 152.0M864.0 126.0L845.0 136.0M845.0 136.0L845.0 162.0M864.0 126.0L884.0 138.0M884.0 138.0L884.0 164.0M864.0 106.0L847.0 97.0M864.0 106.0L881.0 97.0M847.0 97.0L847.0 72.0M881.0 97.0L881.0 72.0M936.0 106.0L936.0 152.0M936.0 126.0L917.0 136.0M917.0 136.0L917.0 162.0M936.0 126.0L956.0 138.0M956.0 138.0L956.0 164.0M936.0 106.0L919.0 97.0M936.0 106.0L953.0 97.0M919.0 97.0L919.0 72.0M953.0 97.0L953.0 72.0M1008.0 106.0L1008.0 152.0M1008.0 126.0L989.0 136.0M989.0 136.0L989.0 162.0M1008.0 126.0L1028.0 138.0M1028.0 138.0L1028.0 164.0M1008.0 106.0L991.0 97.0M1008.0 106.0L1025.0 97.0M991.0 97.0L991.0 72.0M1025.0 97.0L1025.0 72.0M1080.0 106.0L1080.0 152.0M1080.0 126.0L1061.0 136.0M1061.0 136.0L1061.0 162.0M1080.0 126.0L1100.0 138.0M1100.0 138.0L1100.0 164.0M1080.0 106.0L1063.0 97.0M1080.0 106.0L1097.0 97.0M1063.0 97.0L1063.0 72.0M1097.0 97.0L1097.0 72.0M668.0 169.0L668.0 215.0M668.0 189.0L649.0 199.0M649.0 199.0L649.0 225.0M668.0 189.0L688.0 201.0M688.0 201.0L688.0 227.0M668.0 169.0L651.0 160.0M668.0 169.0L685.0 160.0M651.0 160.0L651.0 135.0M685.0 160.0L685.0 135.0M740.0 169.0L740.0 215.0M740.0 189.0L721.0 199.0M721.0 199.0L721.0 225.0M740.0 189.0L760.0 201.0M760.0 201.0L760.0 227.0M740.0 169.0L723.0 160.0M740.0 169.0L757.0 160.0M723.0 160.0L723.0 135.0M757.0 160.0L757.0 135.0M812.0 169.0L812.0 215.0M812.0 189.0L793.0 199.0M793.0 199.0L793.0 225.0M812.0 189.0L832.0 201.0M832.0 201.0L832.0 227.0M812.0 169.0L795.0 160.0M812.0 169.0L829.0 160.0M795.0 160.0L795.0 135.0M829.0 160.0L829.0 135.0M884.0 169.0L884.0 215.0M884.0 189.0L865.0 199.0M865.0 199.0L865.0 225.0M884.0 189.0L904.0 201.0M904.0 201.0L904.0 227.0M884.0 169.0L867.0 160.0M884.0 169.0L901.0 160.0M867.0 160.0L867.0 135.0M901.0 160.0L901.0 135.0M956.0 169.0L956.0 215.0M956.0 189.0L937.0 199.0M937.0 199.0L937.0 225.0M956.0 189.0L976.0 201.0M976.0 201.0L976.0 227.0M956.0 169.0L939.0 160.0M956.0 169.0L973.0 160.0M939.0 160.0L939.0 135.0M973.0 160.0L973.0 135.0M1028.0 169.0L1028.0 215.0M1028.0 189.0L1009.0 199.0M1009.0 199.0L1009.0 225.0M1028.0 189.0L1048.0 201.0M1048.0 201.0L1048.0 227.0M1028.0 169.0L1011.0 160.0M1028.0 169.0L1045.0 160.0M1011.0 160.0L1011.0 135.0M1045.0 160.0L1045.0 135.0M1100.0 169.0L1100.0 215.0M1100.0 189.0L1081.0 199.0M1081.0 199.0L1081.0 225.0M1100.0 189.0L1120.0 201.0M1120.0 201.0L1120.0 227.0M1100.0 169.0L1083.0 160.0M1100.0 169.0L1117.0 160.0M1083.0 160.0L1083.0 135.0M1117.0 160.0L1117.0 135.0M648.0 232.0L648.0 278.0M648.0 252.0L629.0 262.0M629.0 262.0L629.0 288.0M648.0 252.0L668.0 264.0M668.0 264.0L668.0 290.0M648.0 232.0L631.0 223.0M648.0 232.0L665.0 223.0M631.0 223.0L631.0 198.0M665.0 223.0L665.0 198.0M720.0 232.0L720.0 278.0M720.0 252.0L701.0 262.0M701.0 262.0L701.0 288.0M720.0 252.0L740.0 264.0M740.0 264.0L740.0 290.0M720.0 232.0L703.0 223.0M720.0 232.0L737.0 223.0M703.0 223.0L703.0 198.0M737.0 223.0L737.0 198.0M792.0 232.0L792.0 278.0M792.0 252.0L773.0 262.0M773.0 262.0L773.0 288.0M792.0 252.0L812.0 264.0M812.0 264.0L812.0 290.0M792.0 232.0L775.0 223.0M792.0 232.0L809.0 223.0M775.0 223.0L775.0 198.0M809.0 223.0L809.0 198.0M864.0 232.0L864.0 278.0M864.0 252.0L845.0 262.0M845.0 262.0L845.0 288.0M864.0 252.0L884.0 264.0M884.0 264.0L884.0 290.0M864.0 232.0L847.0 223.0M864.0 232.0L881.0 223.0M847.0 223.0L847.0 198.0M881.0 223.0L881.0 198.0M936.0 232.0L936.0 278.0M936.0 252.0L917.0 262.0M917.0 262.0L917.0 288.0M936.0 252.0L956.0 264.0M956.0 264.0L956.0 290.0M936.0 232.0L919.0 223.0M936.0 232.0L953.0 223.0M919.0 223.0L919.0 198.0M953.0 223.0L953.0 198.0M1008.0 232.0L1008.0 278.0M1008.0 252.0L989.0 262.0M989.0 262.0L989.0 288.0M1008.0 252.0L1028.0 264.0M1028.0 264.0L1028.0 290.0M1008.0 232.0L991.0 223.0M1008.0 232.0L1025.0 223.0M991.0 223.0L991.0 198.0M1025.0 223.0L1025.0 198.0M1080.0 232.0L1080.0 278.0M1080.0 252.0L1061.0 262.0M1061.0 262.0L1061.0 288.0M1080.0 252.0L1100.0 264.0M1100.0 264.0L1100.0 290.0M1080.0 232.0L1063.0 223.0M1080.0 232.0L1097.0 223.0M1063.0 223.0L1063.0 198.0M1097.0 223.0L1097.0 198.0M668.0 295.0L668.0 341.0M668.0 315.0L649.0 325.0M649.0 325.0L649.0 351.0M668.0 315.0L688.0 327.0M688.0 327.0L688.0 353.0M668.0 295.0L651.0 286.0M668.0 295.0L685.0 286.0M651.0 286.0L651.0 261.0M685.0 286.0L685.0 261.0M740.0 295.0L740.0 341.0M740.0 315.0L721.0 325.0M721.0 325.0L721.0 351.0M740.0 315.0L760.0 327.0M760.0 327.0L760.0 353.0M740.0 295.0L723.0 286.0M740.0 295.0L757.0 286.0M723.0 286.0L723.0 261.0M757.0 286.0L757.0 261.0M812.0 295.0L812.0 341.0M812.0 315.0L793.0 325.0M793.0 325.0L793.0 351.0M812.0 315.0L832.0 327.0M832.0 327.0L832.0 353.0M812.0 295.0L795.0 286.0M812.0 295.0L829.0 286.0M795.0 286.0L795.0 261.0M829.0 286.0L829.0 261.0M884.0 295.0L884.0 341.0M884.0 315.0L865.0 325.0M865.0 325.0L865.0 351.0M884.0 315.0L904.0 327.0M904.0 327.0L904.0 353.0M884.0 295.0L867.0 286.0M884.0 295.0L901.0 286.0M867.0 286.0L867.0 261.0M901.0 286.0L901.0 261.0M956.0 295.0L956.0 341.0M956.0 315.0L937.0 325.0M937.0 325.0L937.0 351.0M956.0 315.0L976.0 327.0M976.0 327.0L976.0 353.0M956.0 295.0L939.0 286.0M956.0 295.0L973.0 286.0M939.0 286.0L939.0 261.0M973.0 286.0L973.0 261.0M1028.0 295.0L1028.0 341.0M1028.0 315.0L1009.0 325.0M1009.0 325.0L1009.0 351.0M1028.0 315.0L1048.0 327.0M1048.0 327.0L1048.0 353.0M1028.0 295.0L1011.0 286.0M1028.0 295.0L1045.0 286.0M1011.0 286.0L1011.0 261.0M1045.0 286.0L1045.0 261.0M1100.0 295.0L1100.0 341.0M1100.0 315.0L1081.0 325.0M1081.0 325.0L1081.0 351.0M1100.0 315.0L1120.0 327.0M1120.0 327.0L1120.0 353.0M1100.0 295.0L1083.0 286.0M1100.0 295.0L1117.0 286.0M1083.0 286.0L1083.0 261.0M1117.0 286.0L1117.0 261.0M648.0 358.0L648.0 404.0M648.0 378.0L629.0 388.0M629.0 388.0L629.0 414.0M648.0 378.0L668.0 390.0M668.0 390.0L668.0 416.0M648.0 358.0L631.0 349.0M648.0 358.0L665.0 349.0M631.0 349.0L631.0 324.0M665.0 349.0L665.0 324.0M720.0 358.0L720.0 404.0M720.0 378.0L701.0 388.0M701.0 388.0L701.0 414.0M720.0 378.0L740.0 390.0M740.0 390.0L740.0 416.0M720.0 358.0L703.0 349.0M720.0 358.0L737.0 349.0M703.0 349.0L703.0 324.0M737.0 349.0L737.0 324.0M792.0 358.0L792.0 404.0M792.0 378.0L773.0 388.0M773.0 388.0L773.0 414.0M792.0 378.0L812.0 390.0M812.0 390.0L812.0 416.0M792.0 358.0L775.0 349.0M792.0 358.0L809.0 349.0M775.0 349.0L775.0 324.0M809.0 349.0L809.0 324.0M864.0 358.0L864.0 404.0M864.0 378.0L845.0 388.0M845.0 388.0L845.0 414.0M864.0 378.0L884.0 390.0M884.0 390.0L884.0 416.0M864.0 358.0L847.0 349.0M864.0 358.0L881.0 349.0M847.0 349.0L847.0 324.0M881.0 349.0L881.0 324.0M936.0 358.0L936.0 404.0M936.0 378.0L917.0 388.0M917.0 388.0L917.0 414.0M936.0 378.0L956.0 390.0M956.0 390.0L956.0 416.0M936.0 358.0L919.0 349.0M936.0 358.0L953.0 349.0M919.0 349.0L919.0 324.0M953.0 349.0L953.0 324.0M1008.0 358.0L1008.0 404.0M1008.0 378.0L989.0 388.0M989.0 388.0L989.0 414.0M1008.0 378.0L1028.0 390.0M1028.0 390.0L1028.0 416.0M1008.0 358.0L991.0 349.0M1008.0 358.0L1025.0 349.0M991.0 349.0L991.0 324.0M1025.0 349.0L1025.0 324.0M1080.0 358.0L1080.0 404.0M1080.0 378.0L1061.0 388.0M1061.0 388.0L1061.0 414.0M1080.0 378.0L1100.0 390.0M1100.0 390.0L1100.0 416.0M1080.0 358.0L1063.0 349.0M1080.0 358.0L1097.0 349.0M1063.0 349.0L1063.0 324.0M1097.0 349.0L1097.0 324.0M668.0 421.0L668.0 467.0M668.0 441.0L649.0 451.0M649.0 451.0L649.0 477.0M668.0 441.0L688.0 453.0M688.0 453.0L688.0 479.0M668.0 421.0L651.0 412.0M668.0 421.0L685.0 412.0M651.0 412.0L651.0 387.0M685.0 412.0L685.0 387.0M740.0 421.0L740.0 467.0M740.0 441.0L721.0 451.0M721.0 451.0L721.0 477.0M740.0 441.0L760.0 453.0M760.0 453.0L760.0 479.0M740.0 421.0L723.0 412.0M740.0 421.0L757.0 412.0M723.0 412.0L723.0 387.0M757.0 412.0L757.0 387.0M812.0 421.0L812.0 467.0M812.0 441.0L793.0 451.0M793.0 451.0L793.0 477.0M812.0 441.0L832.0 453.0M832.0 453.0L832.0 479.0M812.0 421.0L795.0 412.0M812.0 421.0L829.0 412.0M795.0 412.0L795.0 387.0M829.0 412.0L829.0 387.0M884.0 421.0L884.0 467.0M884.0 441.0L865.0 451.0M865.0 451.0L865.0 477.0M884.0 441.0L904.0 453.0M904.0 453.0L904.0 479.0M884.0 421.0L867.0 412.0M884.0 421.0L901.0 412.0M867.0 412.0L867.0 387.0M901.0 412.0L901.0 387.0M956.0 421.0L956.0 467.0M956.0 441.0L937.0 451.0M937.0 451.0L937.0 477.0M956.0 441.0L976.0 453.0M976.0 453.0L976.0 479.0M956.0 421.0L939.0 412.0M956.0 421.0L973.0 412.0M939.0 412.0L939.0 387.0M973.0 412.0L973.0 387.0M1028.0 421.0L1028.0 467.0M1028.0 441.0L1009.0 451.0M1009.0 451.0L1009.0 477.0M1028.0 441.0L1048.0 453.0M1048.0 453.0L1048.0 479.0M1028.0 421.0L1011.0 412.0M1028.0 421.0L1045.0 412.0M1011.0 412.0L1011.0 387.0M1045.0 412.0L1045.0 387.0M1100.0 421.0L1100.0 467.0M1100.0 441.0L1081.0 451.0M1081.0 451.0L1081.0 477.0M1100.0 441.0L1120.0 453.0M1120.0 453.0L1120.0 479.0M1100.0 421.0L1083.0 412.0M1100.0 421.0L1117.0 412.0M1083.0 412.0L1083.0 387.0M1117.0 412.0L1117.0 387.0M648.0 484.0L648.0 530.0M648.0 504.0L629.0 514.0M629.0 514.0L629.0 540.0M648.0 504.0L668.0 516.0M668.0 516.0L668.0 542.0M648.0 484.0L631.0 475.0M648.0 484.0L665.0 475.0M631.0 475.0L631.0 450.0M665.0 475.0L665.0 450.0M720.0 484.0L720.0 530.0M720.0 504.0L701.0 514.0M701.0 514.0L701.0 540.0M720.0 504.0L740.0 516.0M740.0 516.0L740.0 542.0M720.0 484.0L703.0 475.0M720.0 484.0L737.0 475.0M703.0 475.0L703.0 450.0M737.0 475.0L737.0 450.0M792.0 484.0L792.0 530.0M792.0 504.0L773.0 514.0M773.0 514.0L773.0 540.0M792.0 504.0L812.0 516.0M812.0 516.0L812.0 542.0M792.0 484.0L775.0 475.0M792.0 484.0L809.0 475.0M775.0 475.0L775.0 450.0M809.0 475.0L809.0 450.0M864.0 484.0L864.0 530.0M864.0 504.0L845.0 514.0M845.0 514.0L845.0 540.0M864.0 504.0L884.0 516.0M884.0 516.0L884.0 542.0M864.0 484.0L847.0 475.0M864.0 484.0L881.0 475.0M847.0 475.0L847.0 450.0M881.0 475.0L881.0 450.0M936.0 484.0L936.0 530.0M936.0 504.0L917.0 514.0M917.0 514.0L917.0 540.0M936.0 504.0L956.0 516.0M956.0 516.0L956.0 542.0M936.0 484.0L919.0 475.0M936.0 484.0L953.0 475.0M919.0 475.0L919.0 450.0M953.0 475.0L953.0 450.0M1008.0 484.0L1008.0 530.0M1008.0 504.0L989.0 514.0M989.0 514.0L989.0 540.0M1008.0 504.0L1028.0 516.0M1028.0 516.0L1028.0 542.0M1008.0 484.0L991.0 475.0M1008.0 484.0L1025.0 475.0M991.0 475.0L991.0 450.0M1025.0 475.0L1025.0 450.0M1080.0 484.0L1080.0 530.0M1080.0 504.0L1061.0 514.0M1061.0 514.0L1061.0 540.0M1080.0 504.0L1100.0 516.0M1100.0 516.0L1100.0 542.0M1080.0 484.0L1063.0 475.0M1080.0 484.0L1097.0 475.0M1063.0 475.0L1063.0 450.0M1097.0 475.0L1097.0 450.0M668.0 547.0L668.0 593.0M668.0 567.0L649.0 577.0M649.0 577.0L649.0 603.0M668.0 567.0L688.0 579.0M688.0 579.0L688.0 605.0M668.0 547.0L651.0 538.0M668.0 547.0L685.0 538.0M651.0 538.0L651.0 513.0M685.0 538.0L685.0 513.0M740.0 547.0L740.0 593.0M740.0 567.0L721.0 577.0M721.0 577.0L721.0 603.0M740.0 567.0L760.0 579.0M760.0 579.0L760.0 605.0M740.0 547.0L723.0 538.0M740.0 547.0L757.0 538.0M723.0 538.0L723.0 513.0M757.0 538.0L757.0 513.0M812.0 547.0L812.0 593.0M812.0 567.0L793.0 577.0M793.0 577.0L793.0 603.0M812.0 567.0L832.0 579.0M832.0 579.0L832.0 605.0M812.0 547.0L795.0 538.0M812.0 547.0L829.0 538.0M795.0 538.0L795.0 513.0M829.0 538.0L829.0 513.0M884.0 547.0L884.0 593.0M884.0 567.0L865.0 577.0M865.0 577.0L865.0 603.0M884.0 567.0L904.0 579.0M904.0 579.0L904.0 605.0M884.0 547.0L867.0 538.0M884.0 547.0L901.0 538.0M867.0 538.0L867.0 513.0M901.0 538.0L901.0 513.0M956.0 547.0L956.0 593.0M956.0 567.0L937.0 577.0M937.0 577.0L937.0 603.0M956.0 567.0L976.0 579.0M976.0 579.0L976.0 605.0M956.0 547.0L939.0 538.0M956.0 547.0L973.0 538.0M939.0 538.0L939.0 513.0M973.0 538.0L973.0 513.0M1028.0 547.0L1028.0 593.0M1028.0 567.0L1009.0 577.0M1009.0 577.0L1009.0 603.0M1028.0 567.0L1048.0 579.0M1048.0 579.0L1048.0 605.0M1028.0 547.0L1011.0 538.0M1028.0 547.0L1045.0 538.0M1011.0 538.0L1011.0 513.0M1045.0 538.0L1045.0 513.0M1100.0 547.0L1100.0 593.0M1100.0 567.0L1081.0 577.0M1081.0 577.0L1081.0 603.0M1100.0 567.0L1120.0 579.0M1120.0 579.0L1120.0 605.0M1100.0 547.0L1083.0 538.0M1100.0 547.0L1117.0 538.0M1083.0 538.0L1083.0 513.0M1117.0 538.0L1117.0 513.0M648.0 610.0L648.0 656.0M648.0 630.0L629.0 640.0M629.0 640.0L629.0 666.0M648.0 630.0L668.0 642.0M668.0 642.0L668.0 668.0M648.0 610.0L631.0 601.0M648.0 610.0L665.0 601.0M631.0 601.0L631.0 576.0M665.0 601.0L665.0 576.0M720.0 610.0L720.0 656.0M720.0 630.0L701.0 640.0M701.0 640.0L701.0 666.0M720.0 630.0L740.0 642.0M740.0 642.0L740.0 668.0M720.0 610.0L703.0 601.0M720.0 610.0L737.0 601.0M703.0 601.0L703.0 576.0M737.0 601.0L737.0 576.0M792.0 610.0L792.0 656.0M792.0 630.0L773.0 640.0M773.0 640.0L773.0 666.0M792.0 630.0L812.0 642.0M812.0 642.0L812.0 668.0M792.0 610.0L775.0 601.0M792.0 610.0L809.0 601.0M775.0 601.0L775.0 576.0M809.0 601.0L809.0 576.0M864.0 610.0L864.0 656.0M864.0 630.0L845.0 640.0M845.0 640.0L845.0 666.0M864.0 630.0L884.0 642.0M884.0 642.0L884.0 668.0M864.0 610.0L847.0 601.0M864.0 610.0L881.0 601.0M847.0 601.0L847.0 576.0M881.0 601.0L881.0 576.0M936.0 610.0L936.0 656.0M936.0 630.0L917.0 640.0M917.0 640.0L917.0 666.0M936.0 630.0L956.0 642.0M956.0 642.0L956.0 668.0M936.0 610.0L919.0 601.0M936.0 610.0L953.0 601.0M919.0 601.0L919.0 576.0M953.0 601.0L953.0 576.0M1008.0 610.0L1008.0 656.0M1008.0 630.0L989.0 640.0M989.0 640.0L989.0 666.0M1008.0 630.0L1028.0 642.0M1028.0 642.0L1028.0 668.0M1008.0 610.0L991.0 601.0M1008.0 610.0L1025.0 601.0M991.0 601.0L991.0 576.0M1025.0 601.0L1025.0 576.0M1080.0 610.0L1080.0 656.0M1080.0 630.0L1061.0 640.0M1061.0 640.0L1061.0 666.0M1080.0 630.0L1100.0 642.0M1100.0 642.0L1100.0 668.0M1080.0 610.0L1063.0 601.0M1080.0 610.0L1097.0 601.0M1063.0 601.0L1063.0 576.0M1097.0 601.0L1097.0 576.0" stroke="#6a6a70" stroke-width="1.6" fill="none" opacity="0.38" stroke-linecap="round"/>
<g fill="#4444a4" opacity="0.34"><circle cx="629.0" cy="36.0" r="3.3"/><circle cx="668.0" cy="38.0" r="3.3"/><circle cx="648.0" cy="-20.0" r="3.3"/><circle cx="701.0" cy="36.0" r="3.3"/><circle cx="740.0" cy="38.0" r="3.3"/><circle cx="720.0" cy="-20.0" r="3.3"/><circle cx="773.0" cy="36.0" r="3.3"/><circle cx="812.0" cy="38.0" r="3.3"/><circle cx="792.0" cy="-20.0" r="3.3"/><circle cx="845.0" cy="36.0" r="3.3"/><circle cx="884.0" cy="38.0" r="3.3"/><circle cx="864.0" cy="-20.0" r="3.3"/><circle cx="917.0" cy="36.0" r="3.3"/><circle cx="956.0" cy="38.0" r="3.3"/><circle cx="936.0" cy="-20.0" r="3.3"/><circle cx="989.0" cy="36.0" r="3.3"/><circle cx="1028.0" cy="38.0" r="3.3"/><circle cx="1008.0" cy="-20.0" r="3.3"/><circle cx="1061.0" cy="36.0" r="3.3"/><circle cx="1100.0" cy="38.0" r="3.3"/><circle cx="1080.0" cy="-20.0" r="3.3"/><circle cx="649.0" cy="99.0" r="3.3"/><circle cx="688.0" cy="101.0" r="3.3"/><circle cx="668.0" cy="43.0" r="3.3"/><circle cx="721.0" cy="99.0" r="3.3"/><circle cx="760.0" cy="101.0" r="3.3"/><circle cx="740.0" cy="43.0" r="3.3"/><circle cx="793.0" cy="99.0" r="3.3"/><circle cx="832.0" cy="101.0" r="3.3"/><circle cx="812.0" cy="43.0" r="3.3"/><circle cx="865.0" cy="99.0" r="3.3"/><circle cx="904.0" cy="101.0" r="3.3"/><circle cx="884.0" cy="43.0" r="3.3"/><circle cx="937.0" cy="99.0" r="3.3"/><circle cx="976.0" cy="101.0" r="3.3"/><circle cx="956.0" cy="43.0" r="3.3"/><circle cx="1009.0" cy="99.0" r="3.3"/><circle cx="1048.0" cy="101.0" r="3.3"/><circle cx="1028.0" cy="43.0" r="3.3"/><circle cx="1081.0" cy="99.0" r="3.3"/><circle cx="1120.0" cy="101.0" r="3.3"/><circle cx="1100.0" cy="43.0" r="3.3"/><circle cx="629.0" cy="162.0" r="3.3"/><circle cx="668.0" cy="164.0" r="3.3"/><circle cx="648.0" cy="106.0" r="3.3"/><circle cx="701.0" cy="162.0" r="3.3"/><circle cx="740.0" cy="164.0" r="3.3"/><circle cx="720.0" cy="106.0" r="3.3"/><circle cx="773.0" cy="162.0" r="3.3"/><circle cx="812.0" cy="164.0" r="3.3"/><circle cx="792.0" cy="106.0" r="3.3"/><circle cx="845.0" cy="162.0" r="3.3"/><circle cx="884.0" cy="164.0" r="3.3"/><circle cx="864.0" cy="106.0" r="3.3"/><circle cx="917.0" cy="162.0" r="3.3"/><circle cx="956.0" cy="164.0" r="3.3"/><circle cx="936.0" cy="106.0" r="3.3"/><circle cx="989.0" cy="162.0" r="3.3"/><circle cx="1028.0" cy="164.0" r="3.3"/><circle cx="1008.0" cy="106.0" r="3.3"/><circle cx="1061.0" cy="162.0" r="3.3"/><circle cx="1100.0" cy="164.0" r="3.3"/><circle cx="1080.0" cy="106.0" r="3.3"/><circle cx="649.0" cy="225.0" r="3.3"/><circle cx="688.0" cy="227.0" r="3.3"/><circle cx="668.0" cy="169.0" r="3.3"/><circle cx="721.0" cy="225.0" r="3.3"/><circle cx="760.0" cy="227.0" r="3.3"/><circle cx="740.0" cy="169.0" r="3.3"/><circle cx="793.0" cy="225.0" r="3.3"/><circle cx="832.0" cy="227.0" r="3.3"/><circle cx="812.0" cy="169.0" r="3.3"/><circle cx="865.0" cy="225.0" r="3.3"/><circle cx="904.0" cy="227.0" r="3.3"/><circle cx="884.0" cy="169.0" r="3.3"/><circle cx="937.0" cy="225.0" r="3.3"/><circle cx="976.0" cy="227.0" r="3.3"/><circle cx="956.0" cy="169.0" r="3.3"/><circle cx="1009.0" cy="225.0" r="3.3"/><circle cx="1048.0" cy="227.0" r="3.3"/><circle cx="1028.0" cy="169.0" r="3.3"/><circle cx="1081.0" cy="225.0" r="3.3"/><circle cx="1120.0" cy="227.0" r="3.3"/><circle cx="1100.0" cy="169.0" r="3.3"/><circle cx="629.0" cy="288.0" r="3.3"/><circle cx="668.0" cy="290.0" r="3.3"/><circle cx="648.0" cy="232.0" r="3.3"/><circle cx="701.0" cy="288.0" r="3.3"/><circle cx="740.0" cy="290.0" r="3.3"/><circle cx="720.0" cy="232.0" r="3.3"/><circle cx="773.0" cy="288.0" r="3.3"/><circle cx="812.0" cy="290.0" r="3.3"/><circle cx="792.0" cy="232.0" r="3.3"/><circle cx="845.0" cy="288.0" r="3.3"/><circle cx="884.0" cy="290.0" r="3.3"/><circle cx="864.0" cy="232.0" r="3.3"/><circle cx="917.0" cy="288.0" r="3.3"/><circle cx="956.0" cy="290.0" r="3.3"/><circle cx="936.0" cy="232.0" r="3.3"/><circle cx="989.0" cy="288.0" r="3.3"/><circle cx="1028.0" cy="290.0" r="3.3"/><circle cx="1008.0" cy="232.0" r="3.3"/><circle cx="1061.0" cy="288.0" r="3.3"/><circle cx="1100.0" cy="290.0" r="3.3"/><circle cx="1080.0" cy="232.0" r="3.3"/><circle cx="649.0" cy="351.0" r="3.3"/><circle cx="688.0" cy="353.0" r="3.3"/><circle cx="668.0" cy="295.0" r="3.3"/><circle cx="721.0" cy="351.0" r="3.3"/><circle cx="760.0" cy="353.0" r="3.3"/><circle cx="740.0" cy="295.0" r="3.3"/><circle cx="793.0" cy="351.0" r="3.3"/><circle cx="832.0" cy="353.0" r="3.3"/><circle cx="812.0" cy="295.0" r="3.3"/><circle cx="865.0" cy="351.0" r="3.3"/><circle cx="904.0" cy="353.0" r="3.3"/><circle cx="884.0" cy="295.0" r="3.3"/><circle cx="937.0" cy="351.0" r="3.3"/><circle cx="976.0" cy="353.0" r="3.3"/><circle cx="956.0" cy="295.0" r="3.3"/><circle cx="1009.0" cy="351.0" r="3.3"/><circle cx="1048.0" cy="353.0" r="3.3"/><circle cx="1028.0" cy="295.0" r="3.3"/><circle cx="1081.0" cy="351.0" r="3.3"/><circle cx="1120.0" cy="353.0" r="3.3"/><circle cx="1100.0" cy="295.0" r="3.3"/><circle cx="629.0" cy="414.0" r="3.3"/><circle cx="668.0" cy="416.0" r="3.3"/><circle cx="648.0" cy="358.0" r="3.3"/><circle cx="701.0" cy="414.0" r="3.3"/><circle cx="740.0" cy="416.0" r="3.3"/><circle cx="720.0" cy="358.0" r="3.3"/><circle cx="773.0" cy="414.0" r="3.3"/><circle cx="812.0" cy="416.0" r="3.3"/><circle cx="792.0" cy="358.0" r="3.3"/><circle cx="845.0" cy="414.0" r="3.3"/><circle cx="884.0" cy="416.0" r="3.3"/><circle cx="864.0" cy="358.0" r="3.3"/><circle cx="917.0" cy="414.0" r="3.3"/><circle cx="956.0" cy="416.0" r="3.3"/><circle cx="936.0" cy="358.0" r="3.3"/><circle cx="989.0" cy="414.0" r="3.3"/><circle cx="1028.0" cy="416.0" r="3.3"/><circle cx="1008.0" cy="358.0" r="3.3"/><circle cx="1061.0" cy="414.0" r="3.3"/><circle cx="1100.0" cy="416.0" r="3.3"/><circle cx="1080.0" cy="358.0" r="3.3"/><circle cx="649.0" cy="477.0" r="3.3"/><circle cx="688.0" cy="479.0" r="3.3"/><circle cx="668.0" cy="421.0" r="3.3"/><circle cx="721.0" cy="477.0" r="3.3"/><circle cx="760.0" cy="479.0" r="3.3"/><circle cx="740.0" cy="421.0" r="3.3"/><circle cx="793.0" cy="477.0" r="3.3"/><circle cx="832.0" cy="479.0" r="3.3"/><circle cx="812.0" cy="421.0" r="3.3"/><circle cx="865.0" cy="477.0" r="3.3"/><circle cx="904.0" cy="479.0" r="3.3"/><circle cx="884.0" cy="421.0" r="3.3"/><circle cx="937.0" cy="477.0" r="3.3"/><circle cx="976.0" cy="479.0" r="3.3"/><circle cx="956.0" cy="421.0" r="3.3"/><circle cx="1009.0" cy="477.0" r="3.3"/><circle cx="1048.0" cy="479.0" r="3.3"/><circle cx="1028.0" cy="421.0" r="3.3"/><circle cx="1081.0" cy="477.0" r="3.3"/><circle cx="1120.0" cy="479.0" r="3.3"/><circle cx="1100.0" cy="421.0" r="3.3"/><circle cx="629.0" cy="540.0" r="3.3"/><circle cx="668.0" cy="542.0" r="3.3"/><circle cx="648.0" cy="484.0" r="3.3"/><circle cx="701.0" cy="540.0" r="3.3"/><circle cx="740.0" cy="542.0" r="3.3"/><circle cx="720.0" cy="484.0" r="3.3"/><circle cx="773.0" cy="540.0" r="3.3"/><circle cx="812.0" cy="542.0" r="3.3"/><circle cx="792.0" cy="484.0" r="3.3"/><circle cx="845.0" cy="540.0" r="3.3"/><circle cx="884.0" cy="542.0" r="3.3"/><circle cx="864.0" cy="484.0" r="3.3"/><circle cx="917.0" cy="540.0" r="3.3"/><circle cx="956.0" cy="542.0" r="3.3"/><circle cx="936.0" cy="484.0" r="3.3"/><circle cx="989.0" cy="540.0" r="3.3"/><circle cx="1028.0" cy="542.0" r="3.3"/><circle cx="1008.0" cy="484.0" r="3.3"/><circle cx="1061.0" cy="540.0" r="3.3"/><circle cx="1100.0" cy="542.0" r="3.3"/><circle cx="1080.0" cy="484.0" r="3.3"/><circle cx="649.0" cy="603.0" r="3.3"/><circle cx="688.0" cy="605.0" r="3.3"/><circle cx="668.0" cy="547.0" r="3.3"/><circle cx="721.0" cy="603.0" r="3.3"/><circle cx="760.0" cy="605.0" r="3.3"/><circle cx="740.0" cy="547.0" r="3.3"/><circle cx="793.0" cy="603.0" r="3.3"/><circle cx="832.0" cy="605.0" r="3.3"/><circle cx="812.0" cy="547.0" r="3.3"/><circle cx="865.0" cy="603.0" r="3.3"/><circle cx="904.0" cy="605.0" r="3.3"/><circle cx="884.0" cy="547.0" r="3.3"/><circle cx="937.0" cy="603.0" r="3.3"/><circle cx="976.0" cy="605.0" r="3.3"/><circle cx="956.0" cy="547.0" r="3.3"/><circle cx="1009.0" cy="603.0" r="3.3"/><circle cx="1048.0" cy="605.0" r="3.3"/><circle cx="1028.0" cy="547.0" r="3.3"/><circle cx="1081.0" cy="603.0" r="3.3"/><circle cx="1120.0" cy="605.0" r="3.3"/><circle cx="1100.0" cy="547.0" r="3.3"/><circle cx="629.0" cy="666.0" r="3.3"/><circle cx="668.0" cy="668.0" r="3.3"/><circle cx="648.0" cy="610.0" r="3.3"/><circle cx="701.0" cy="666.0" r="3.3"/><circle cx="740.0" cy="668.0" r="3.3"/><circle cx="720.0" cy="610.0" r="3.3"/><circle cx="773.0" cy="666.0" r="3.3"/><circle cx="812.0" cy="668.0" r="3.3"/><circle cx="792.0" cy="610.0" r="3.3"/><circle cx="845.0" cy="666.0" r="3.3"/><circle cx="884.0" cy="668.0" r="3.3"/><circle cx="864.0" cy="610.0" r="3.3"/><circle cx="917.0" cy="666.0" r="3.3"/><circle cx="956.0" cy="668.0" r="3.3"/><circle cx="936.0" cy="610.0" r="3.3"/><circle cx="989.0" cy="666.0" r="3.3"/><circle cx="1028.0" cy="668.0" r="3.3"/><circle cx="1008.0" cy="610.0" r="3.3"/><circle cx="1061.0" cy="666.0" r="3.3"/><circle cx="1100.0" cy="668.0" r="3.3"/><circle cx="1080.0" cy="610.0" r="3.3"/></g>
<g fill="#7c3a64" opacity="0.34"><circle cx="648.0" cy="0.0" r="3.2"/><circle cx="720.0" cy="0.0" r="3.2"/><circle cx="792.0" cy="0.0" r="3.2"/><circle cx="864.0" cy="0.0" r="3.2"/><circle cx="936.0" cy="0.0" r="3.2"/><circle cx="1008.0" cy="0.0" r="3.2"/><circle cx="1080.0" cy="0.0" r="3.2"/><circle cx="668.0" cy="63.0" r="3.2"/><circle cx="740.0" cy="63.0" r="3.2"/><circle cx="812.0" cy="63.0" r="3.2"/><circle cx="884.0" cy="63.0" r="3.2"/><circle cx="956.0" cy="63.0" r="3.2"/><circle cx="1028.0" cy="63.0" r="3.2"/><circle cx="1100.0" cy="63.0" r="3.2"/><circle cx="648.0" cy="126.0" r="3.2"/><circle cx="720.0" cy="126.0" r="3.2"/><circle cx="792.0" cy="126.0" r="3.2"/><circle cx="864.0" cy="126.0" r="3.2"/><circle cx="936.0" cy="126.0" r="3.2"/><circle cx="1008.0" cy="126.0" r="3.2"/><circle cx="1080.0" cy="126.0" r="3.2"/><circle cx="668.0" cy="189.0" r="3.2"/><circle cx="740.0" cy="189.0" r="3.2"/><circle cx="812.0" cy="189.0" r="3.2"/><circle cx="884.0" cy="189.0" r="3.2"/><circle cx="956.0" cy="189.0" r="3.2"/><circle cx="1028.0" cy="189.0" r="3.2"/><circle cx="1100.0" cy="189.0" r="3.2"/><circle cx="648.0" cy="252.0" r="3.2"/><circle cx="720.0" cy="252.0" r="3.2"/><circle cx="792.0" cy="252.0" r="3.2"/><circle cx="864.0" cy="252.0" r="3.2"/><circle cx="936.0" cy="252.0" r="3.2"/><circle cx="1008.0" cy="252.0" r="3.2"/><circle cx="1080.0" cy="252.0" r="3.2"/><circle cx="668.0" cy="315.0" r="3.2"/><circle cx="740.0" cy="315.0" r="3.2"/><circle cx="812.0" cy="315.0" r="3.2"/><circle cx="884.0" cy="315.0" r="3.2"/><circle cx="956.0" cy="315.0" r="3.2"/><circle cx="1028.0" cy="315.0" r="3.2"/><circle cx="1100.0" cy="315.0" r="3.2"/><circle cx="648.0" cy="378.0" r="3.2"/><circle cx="720.0" cy="378.0" r="3.2"/><circle cx="792.0" cy="378.0" r="3.2"/><circle cx="864.0" cy="378.0" r="3.2"/><circle cx="936.0" cy="378.0" r="3.2"/><circle cx="1008.0" cy="378.0" r="3.2"/><circle cx="1080.0" cy="378.0" r="3.2"/><circle cx="668.0" cy="441.0" r="3.2"/><circle cx="740.0" cy="441.0" r="3.2"/><circle cx="812.0" cy="441.0" r="3.2"/><circle cx="884.0" cy="441.0" r="3.2"/><circle cx="956.0" cy="441.0" r="3.2"/><circle cx="1028.0" cy="441.0" r="3.2"/><circle cx="1100.0" cy="441.0" r="3.2"/><circle cx="648.0" cy="504.0" r="3.2"/><circle cx="720.0" cy="504.0" r="3.2"/><circle cx="792.0" cy="504.0" r="3.2"/><circle cx="864.0" cy="504.0" r="3.2"/><circle cx="936.0" cy="504.0" r="3.2"/><circle cx="1008.0" cy="504.0" r="3.2"/><circle cx="1080.0" cy="504.0" r="3.2"/><circle cx="668.0" cy="567.0" r="3.2"/><circle cx="740.0" cy="567.0" r="3.2"/><circle cx="812.0" cy="567.0" r="3.2"/><circle cx="884.0" cy="567.0" r="3.2"/><circle cx="956.0" cy="567.0" r="3.2"/><circle cx="1028.0" cy="567.0" r="3.2"/><circle cx="1100.0" cy="567.0" r="3.2"/><circle cx="648.0" cy="630.0" r="3.2"/><circle cx="720.0" cy="630.0" r="3.2"/><circle cx="792.0" cy="630.0" r="3.2"/><circle cx="864.0" cy="630.0" r="3.2"/><circle cx="936.0" cy="630.0" r="3.2"/><circle cx="1008.0" cy="630.0" r="3.2"/><circle cx="1080.0" cy="630.0" r="3.2"/></g>
<g fill="#b0b0b0" opacity="0.28"><circle cx="629.0" cy="10.0" r="2.3"/><circle cx="668.0" cy="12.0" r="2.3"/><circle cx="631.0" cy="-54.0" r="2.3"/><circle cx="665.0" cy="-54.0" r="2.3"/><circle cx="648.0" cy="26.0" r="2.3"/><circle cx="701.0" cy="10.0" r="2.3"/><circle cx="740.0" cy="12.0" r="2.3"/><circle cx="703.0" cy="-54.0" r="2.3"/><circle cx="737.0" cy="-54.0" r="2.3"/><circle cx="720.0" cy="26.0" r="2.3"/><circle cx="773.0" cy="10.0" r="2.3"/><circle cx="812.0" cy="12.0" r="2.3"/><circle cx="775.0" cy="-54.0" r="2.3"/><circle cx="809.0" cy="-54.0" r="2.3"/><circle cx="792.0" cy="26.0" r="2.3"/><circle cx="845.0" cy="10.0" r="2.3"/><circle cx="884.0" cy="12.0" r="2.3"/><circle cx="847.0" cy="-54.0" r="2.3"/><circle cx="881.0" cy="-54.0" r="2.3"/><circle cx="864.0" cy="26.0" r="2.3"/><circle cx="917.0" cy="10.0" r="2.3"/><circle cx="956.0" cy="12.0" r="2.3"/><circle cx="919.0" cy="-54.0" r="2.3"/><circle cx="953.0" cy="-54.0" r="2.3"/><circle cx="936.0" cy="26.0" r="2.3"/><circle cx="989.0" cy="10.0" r="2.3"/><circle cx="1028.0" cy="12.0" r="2.3"/><circle cx="991.0" cy="-54.0" r="2.3"/><circle cx="1025.0" cy="-54.0" r="2.3"/><circle cx="1008.0" cy="26.0" r="2.3"/><circle cx="1061.0" cy="10.0" r="2.3"/><circle cx="1100.0" cy="12.0" r="2.3"/><circle cx="1063.0" cy="-54.0" r="2.3"/><circle cx="1097.0" cy="-54.0" r="2.3"/><circle cx="1080.0" cy="26.0" r="2.3"/><circle cx="649.0" cy="73.0" r="2.3"/><circle cx="688.0" cy="75.0" r="2.3"/><circle cx="651.0" cy="9.0" r="2.3"/><circle cx="685.0" cy="9.0" r="2.3"/><circle cx="668.0" cy="89.0" r="2.3"/><circle cx="721.0" cy="73.0" r="2.3"/><circle cx="760.0" cy="75.0" r="2.3"/><circle cx="723.0" cy="9.0" r="2.3"/><circle cx="757.0" cy="9.0" r="2.3"/><circle cx="740.0" cy="89.0" r="2.3"/><circle cx="793.0" cy="73.0" r="2.3"/><circle cx="832.0" cy="75.0" r="2.3"/><circle cx="795.0" cy="9.0" r="2.3"/><circle cx="829.0" cy="9.0" r="2.3"/><circle cx="812.0" cy="89.0" r="2.3"/><circle cx="865.0" cy="73.0" r="2.3"/><circle cx="904.0" cy="75.0" r="2.3"/><circle cx="867.0" cy="9.0" r="2.3"/><circle cx="901.0" cy="9.0" r="2.3"/><circle cx="884.0" cy="89.0" r="2.3"/><circle cx="937.0" cy="73.0" r="2.3"/><circle cx="976.0" cy="75.0" r="2.3"/><circle cx="939.0" cy="9.0" r="2.3"/><circle cx="973.0" cy="9.0" r="2.3"/><circle cx="956.0" cy="89.0" r="2.3"/><circle cx="1009.0" cy="73.0" r="2.3"/><circle cx="1048.0" cy="75.0" r="2.3"/><circle cx="1011.0" cy="9.0" r="2.3"/><circle cx="1045.0" cy="9.0" r="2.3"/><circle cx="1028.0" cy="89.0" r="2.3"/><circle cx="1081.0" cy="73.0" r="2.3"/><circle cx="1120.0" cy="75.0" r="2.3"/><circle cx="1083.0" cy="9.0" r="2.3"/><circle cx="1117.0" cy="9.0" r="2.3"/><circle cx="1100.0" cy="89.0" r="2.3"/><circle cx="629.0" cy="136.0" r="2.3"/><circle cx="668.0" cy="138.0" r="2.3"/><circle cx="631.0" cy="72.0" r="2.3"/><circle cx="665.0" cy="72.0" r="2.3"/><circle cx="648.0" cy="152.0" r="2.3"/><circle cx="701.0" cy="136.0" r="2.3"/><circle cx="740.0" cy="138.0" r="2.3"/><circle cx="703.0" cy="72.0" r="2.3"/><circle cx="737.0" cy="72.0" r="2.3"/><circle cx="720.0" cy="152.0" r="2.3"/><circle cx="773.0" cy="136.0" r="2.3"/><circle cx="812.0" cy="138.0" r="2.3"/><circle cx="775.0" cy="72.0" r="2.3"/><circle cx="809.0" cy="72.0" r="2.3"/><circle cx="792.0" cy="152.0" r="2.3"/><circle cx="845.0" cy="136.0" r="2.3"/><circle cx="884.0" cy="138.0" r="2.3"/><circle cx="847.0" cy="72.0" r="2.3"/><circle cx="881.0" cy="72.0" r="2.3"/><circle cx="864.0" cy="152.0" r="2.3"/><circle cx="917.0" cy="136.0" r="2.3"/><circle cx="956.0" cy="138.0" r="2.3"/><circle cx="919.0" cy="72.0" r="2.3"/><circle cx="953.0" cy="72.0" r="2.3"/><circle cx="936.0" cy="152.0" r="2.3"/><circle cx="989.0" cy="136.0" r="2.3"/><circle cx="1028.0" cy="138.0" r="2.3"/><circle cx="991.0" cy="72.0" r="2.3"/><circle cx="1025.0" cy="72.0" r="2.3"/><circle cx="1008.0" cy="152.0" r="2.3"/><circle cx="1061.0" cy="136.0" r="2.3"/><circle cx="1100.0" cy="138.0" r="2.3"/><circle cx="1063.0" cy="72.0" r="2.3"/><circle cx="1097.0" cy="72.0" r="2.3"/><circle cx="1080.0" cy="152.0" r="2.3"/><circle cx="649.0" cy="199.0" r="2.3"/><circle cx="688.0" cy="201.0" r="2.3"/><circle cx="651.0" cy="135.0" r="2.3"/><circle cx="685.0" cy="135.0" r="2.3"/><circle cx="668.0" cy="215.0" r="2.3"/><circle cx="721.0" cy="199.0" r="2.3"/><circle cx="760.0" cy="201.0" r="2.3"/><circle cx="723.0" cy="135.0" r="2.3"/><circle cx="757.0" cy="135.0" r="2.3"/><circle cx="740.0" cy="215.0" r="2.3"/><circle cx="793.0" cy="199.0" r="2.3"/><circle cx="832.0" cy="201.0" r="2.3"/><circle cx="795.0" cy="135.0" r="2.3"/><circle cx="829.0" cy="135.0" r="2.3"/><circle cx="812.0" cy="215.0" r="2.3"/><circle cx="865.0" cy="199.0" r="2.3"/><circle cx="904.0" cy="201.0" r="2.3"/><circle cx="867.0" cy="135.0" r="2.3"/><circle cx="901.0" cy="135.0" r="2.3"/><circle cx="884.0" cy="215.0" r="2.3"/><circle cx="937.0" cy="199.0" r="2.3"/><circle cx="976.0" cy="201.0" r="2.3"/><circle cx="939.0" cy="135.0" r="2.3"/><circle cx="973.0" cy="135.0" r="2.3"/><circle cx="956.0" cy="215.0" r="2.3"/><circle cx="1009.0" cy="199.0" r="2.3"/><circle cx="1048.0" cy="201.0" r="2.3"/><circle cx="1011.0" cy="135.0" r="2.3"/><circle cx="1045.0" cy="135.0" r="2.3"/><circle cx="1028.0" cy="215.0" r="2.3"/><circle cx="1081.0" cy="199.0" r="2.3"/><circle cx="1120.0" cy="201.0" r="2.3"/><circle cx="1083.0" cy="135.0" r="2.3"/><circle cx="1117.0" cy="135.0" r="2.3"/><circle cx="1100.0" cy="215.0" r="2.3"/><circle cx="629.0" cy="262.0" r="2.3"/><circle cx="668.0" cy="264.0" r="2.3"/><circle cx="631.0" cy="198.0" r="2.3"/><circle cx="665.0" cy="198.0" r="2.3"/><circle cx="648.0" cy="278.0" r="2.3"/><circle cx="701.0" cy="262.0" r="2.3"/><circle cx="740.0" cy="264.0" r="2.3"/><circle cx="703.0" cy="198.0" r="2.3"/><circle cx="737.0" cy="198.0" r="2.3"/><circle cx="720.0" cy="278.0" r="2.3"/><circle cx="773.0" cy="262.0" r="2.3"/><circle cx="812.0" cy="264.0" r="2.3"/><circle cx="775.0" cy="198.0" r="2.3"/><circle cx="809.0" cy="198.0" r="2.3"/><circle cx="792.0" cy="278.0" r="2.3"/><circle cx="845.0" cy="262.0" r="2.3"/><circle cx="884.0" cy="264.0" r="2.3"/><circle cx="847.0" cy="198.0" r="2.3"/><circle cx="881.0" cy="198.0" r="2.3"/><circle cx="864.0" cy="278.0" r="2.3"/><circle cx="917.0" cy="262.0" r="2.3"/><circle cx="956.0" cy="264.0" r="2.3"/><circle cx="919.0" cy="198.0" r="2.3"/><circle cx="953.0" cy="198.0" r="2.3"/><circle cx="936.0" cy="278.0" r="2.3"/><circle cx="989.0" cy="262.0" r="2.3"/><circle cx="1028.0" cy="264.0" r="2.3"/><circle cx="991.0" cy="198.0" r="2.3"/><circle cx="1025.0" cy="198.0" r="2.3"/><circle cx="1008.0" cy="278.0" r="2.3"/><circle cx="1061.0" cy="262.0" r="2.3"/><circle cx="1100.0" cy="264.0" r="2.3"/><circle cx="1063.0" cy="198.0" r="2.3"/><circle cx="1097.0" cy="198.0" r="2.3"/><circle cx="1080.0" cy="278.0" r="2.3"/><circle cx="649.0" cy="325.0" r="2.3"/><circle cx="688.0" cy="327.0" r="2.3"/><circle cx="651.0" cy="261.0" r="2.3"/><circle cx="685.0" cy="261.0" r="2.3"/><circle cx="668.0" cy="341.0" r="2.3"/><circle cx="721.0" cy="325.0" r="2.3"/><circle cx="760.0" cy="327.0" r="2.3"/><circle cx="723.0" cy="261.0" r="2.3"/><circle cx="757.0" cy="261.0" r="2.3"/><circle cx="740.0" cy="341.0" r="2.3"/><circle cx="793.0" cy="325.0" r="2.3"/><circle cx="832.0" cy="327.0" r="2.3"/><circle cx="795.0" cy="261.0" r="2.3"/><circle cx="829.0" cy="261.0" r="2.3"/><circle cx="812.0" cy="341.0" r="2.3"/><circle cx="865.0" cy="325.0" r="2.3"/><circle cx="904.0" cy="327.0" r="2.3"/><circle cx="867.0" cy="261.0" r="2.3"/><circle cx="901.0" cy="261.0" r="2.3"/><circle cx="884.0" cy="341.0" r="2.3"/><circle cx="937.0" cy="325.0" r="2.3"/><circle cx="976.0" cy="327.0" r="2.3"/><circle cx="939.0" cy="261.0" r="2.3"/><circle cx="973.0" cy="261.0" r="2.3"/><circle cx="956.0" cy="341.0" r="2.3"/><circle cx="1009.0" cy="325.0" r="2.3"/><circle cx="1048.0" cy="327.0" r="2.3"/><circle cx="1011.0" cy="261.0" r="2.3"/><circle cx="1045.0" cy="261.0" r="2.3"/><circle cx="1028.0" cy="341.0" r="2.3"/><circle cx="1081.0" cy="325.0" r="2.3"/><circle cx="1120.0" cy="327.0" r="2.3"/><circle cx="1083.0" cy="261.0" r="2.3"/><circle cx="1117.0" cy="261.0" r="2.3"/><circle cx="1100.0" cy="341.0" r="2.3"/><circle cx="629.0" cy="388.0" r="2.3"/><circle cx="668.0" cy="390.0" r="2.3"/><circle cx="631.0" cy="324.0" r="2.3"/><circle cx="665.0" cy="324.0" r="2.3"/><circle cx="648.0" cy="404.0" r="2.3"/><circle cx="701.0" cy="388.0" r="2.3"/><circle cx="740.0" cy="390.0" r="2.3"/><circle cx="703.0" cy="324.0" r="2.3"/><circle cx="737.0" cy="324.0" r="2.3"/><circle cx="720.0" cy="404.0" r="2.3"/><circle cx="773.0" cy="388.0" r="2.3"/><circle cx="812.0" cy="390.0" r="2.3"/><circle cx="775.0" cy="324.0" r="2.3"/><circle cx="809.0" cy="324.0" r="2.3"/><circle cx="792.0" cy="404.0" r="2.3"/><circle cx="845.0" cy="388.0" r="2.3"/><circle cx="884.0" cy="390.0" r="2.3"/><circle cx="847.0" cy="324.0" r="2.3"/><circle cx="881.0" cy="324.0" r="2.3"/><circle cx="864.0" cy="404.0" r="2.3"/><circle cx="917.0" cy="388.0" r="2.3"/><circle cx="956.0" cy="390.0" r="2.3"/><circle cx="919.0" cy="324.0" r="2.3"/><circle cx="953.0" cy="324.0" r="2.3"/><circle cx="936.0" cy="404.0" r="2.3"/><circle cx="989.0" cy="388.0" r="2.3"/><circle cx="1028.0" cy="390.0" r="2.3"/><circle cx="991.0" cy="324.0" r="2.3"/><circle cx="1025.0" cy="324.0" r="2.3"/><circle cx="1008.0" cy="404.0" r="2.3"/><circle cx="1061.0" cy="388.0" r="2.3"/><circle cx="1100.0" cy="390.0" r="2.3"/><circle cx="1063.0" cy="324.0" r="2.3"/><circle cx="1097.0" cy="324.0" r="2.3"/><circle cx="1080.0" cy="404.0" r="2.3"/><circle cx="649.0" cy="451.0" r="2.3"/><circle cx="688.0" cy="453.0" r="2.3"/><circle cx="651.0" cy="387.0" r="2.3"/><circle cx="685.0" cy="387.0" r="2.3"/><circle cx="668.0" cy="467.0" r="2.3"/><circle cx="721.0" cy="451.0" r="2.3"/><circle cx="760.0" cy="453.0" r="2.3"/><circle cx="723.0" cy="387.0" r="2.3"/><circle cx="757.0" cy="387.0" r="2.3"/><circle cx="740.0" cy="467.0" r="2.3"/><circle cx="793.0" cy="451.0" r="2.3"/><circle cx="832.0" cy="453.0" r="2.3"/><circle cx="795.0" cy="387.0" r="2.3"/><circle cx="829.0" cy="387.0" r="2.3"/><circle cx="812.0" cy="467.0" r="2.3"/><circle cx="865.0" cy="451.0" r="2.3"/><circle cx="904.0" cy="453.0" r="2.3"/><circle cx="867.0" cy="387.0" r="2.3"/><circle cx="901.0" cy="387.0" r="2.3"/><circle cx="884.0" cy="467.0" r="2.3"/><circle cx="937.0" cy="451.0" r="2.3"/><circle cx="976.0" cy="453.0" r="2.3"/><circle cx="939.0" cy="387.0" r="2.3"/><circle cx="973.0" cy="387.0" r="2.3"/><circle cx="956.0" cy="467.0" r="2.3"/><circle cx="1009.0" cy="451.0" r="2.3"/><circle cx="1048.0" cy="453.0" r="2.3"/><circle cx="1011.0" cy="387.0" r="2.3"/><circle cx="1045.0" cy="387.0" r="2.3"/><circle cx="1028.0" cy="467.0" r="2.3"/><circle cx="1081.0" cy="451.0" r="2.3"/><circle cx="1120.0" cy="453.0" r="2.3"/><circle cx="1083.0" cy="387.0" r="2.3"/><circle cx="1117.0" cy="387.0" r="2.3"/><circle cx="1100.0" cy="467.0" r="2.3"/><circle cx="629.0" cy="514.0" r="2.3"/><circle cx="668.0" cy="516.0" r="2.3"/><circle cx="631.0" cy="450.0" r="2.3"/><circle cx="665.0" cy="450.0" r="2.3"/><circle cx="648.0" cy="530.0" r="2.3"/><circle cx="701.0" cy="514.0" r="2.3"/><circle cx="740.0" cy="516.0" r="2.3"/><circle cx="703.0" cy="450.0" r="2.3"/><circle cx="737.0" cy="450.0" r="2.3"/><circle cx="720.0" cy="530.0" r="2.3"/><circle cx="773.0" cy="514.0" r="2.3"/><circle cx="812.0" cy="516.0" r="2.3"/><circle cx="775.0" cy="450.0" r="2.3"/><circle cx="809.0" cy="450.0" r="2.3"/><circle cx="792.0" cy="530.0" r="2.3"/><circle cx="845.0" cy="514.0" r="2.3"/><circle cx="884.0" cy="516.0" r="2.3"/><circle cx="847.0" cy="450.0" r="2.3"/><circle cx="881.0" cy="450.0" r="2.3"/><circle cx="864.0" cy="530.0" r="2.3"/><circle cx="917.0" cy="514.0" r="2.3"/><circle cx="956.0" cy="516.0" r="2.3"/><circle cx="919.0" cy="450.0" r="2.3"/><circle cx="953.0" cy="450.0" r="2.3"/><circle cx="936.0" cy="530.0" r="2.3"/><circle cx="989.0" cy="514.0" r="2.3"/><circle cx="1028.0" cy="516.0" r="2.3"/><circle cx="991.0" cy="450.0" r="2.3"/><circle cx="1025.0" cy="450.0" r="2.3"/><circle cx="1008.0" cy="530.0" r="2.3"/><circle cx="1061.0" cy="514.0" r="2.3"/><circle cx="1100.0" cy="516.0" r="2.3"/><circle cx="1063.0" cy="450.0" r="2.3"/><circle cx="1097.0" cy="450.0" r="2.3"/><circle cx="1080.0" cy="530.0" r="2.3"/><circle cx="649.0" cy="577.0" r="2.3"/><circle cx="688.0" cy="579.0" r="2.3"/><circle cx="651.0" cy="513.0" r="2.3"/><circle cx="685.0" cy="513.0" r="2.3"/><circle cx="668.0" cy="593.0" r="2.3"/><circle cx="721.0" cy="577.0" r="2.3"/><circle cx="760.0" cy="579.0" r="2.3"/><circle cx="723.0" cy="513.0" r="2.3"/><circle cx="757.0" cy="513.0" r="2.3"/><circle cx="740.0" cy="593.0" r="2.3"/><circle cx="793.0" cy="577.0" r="2.3"/><circle cx="832.0" cy="579.0" r="2.3"/><circle cx="795.0" cy="513.0" r="2.3"/><circle cx="829.0" cy="513.0" r="2.3"/><circle cx="812.0" cy="593.0" r="2.3"/><circle cx="865.0" cy="577.0" r="2.3"/><circle cx="904.0" cy="579.0" r="2.3"/><circle cx="867.0" cy="513.0" r="2.3"/><circle cx="901.0" cy="513.0" r="2.3"/><circle cx="884.0" cy="593.0" r="2.3"/><circle cx="937.0" cy="577.0" r="2.3"/><circle cx="976.0" cy="579.0" r="2.3"/><circle cx="939.0" cy="513.0" r="2.3"/><circle cx="973.0" cy="513.0" r="2.3"/><circle cx="956.0" cy="593.0" r="2.3"/><circle cx="1009.0" cy="577.0" r="2.3"/><circle cx="1048.0" cy="579.0" r="2.3"/><circle cx="1011.0" cy="513.0" r="2.3"/><circle cx="1045.0" cy="513.0" r="2.3"/><circle cx="1028.0" cy="593.0" r="2.3"/><circle cx="1081.0" cy="577.0" r="2.3"/><circle cx="1120.0" cy="579.0" r="2.3"/><circle cx="1083.0" cy="513.0" r="2.3"/><circle cx="1117.0" cy="513.0" r="2.3"/><circle cx="1100.0" cy="593.0" r="2.3"/><circle cx="629.0" cy="640.0" r="2.3"/><circle cx="668.0" cy="642.0" r="2.3"/><circle cx="631.0" cy="576.0" r="2.3"/><circle cx="665.0" cy="576.0" r="2.3"/><circle cx="648.0" cy="656.0" r="2.3"/><circle cx="701.0" cy="640.0" r="2.3"/><circle cx="740.0" cy="642.0" r="2.3"/><circle cx="703.0" cy="576.0" r="2.3"/><circle cx="737.0" cy="576.0" r="2.3"/><circle cx="720.0" cy="656.0" r="2.3"/><circle cx="773.0" cy="640.0" r="2.3"/><circle cx="812.0" cy="642.0" r="2.3"/><circle cx="775.0" cy="576.0" r="2.3"/><circle cx="809.0" cy="576.0" r="2.3"/><circle cx="792.0" cy="656.0" r="2.3"/><circle cx="845.0" cy="640.0" r="2.3"/><circle cx="884.0" cy="642.0" r="2.3"/><circle cx="847.0" cy="576.0" r="2.3"/><circle cx="881.0" cy="576.0" r="2.3"/><circle cx="864.0" cy="656.0" r="2.3"/><circle cx="917.0" cy="640.0" r="2.3"/><circle cx="956.0" cy="642.0" r="2.3"/><circle cx="919.0" cy="576.0" r="2.3"/><circle cx="953.0" cy="576.0" r="2.3"/><circle cx="936.0" cy="656.0" r="2.3"/><circle cx="989.0" cy="640.0" r="2.3"/><circle cx="1028.0" cy="642.0" r="2.3"/><circle cx="991.0" cy="576.0" r="2.3"/><circle cx="1025.0" cy="576.0" r="2.3"/><circle cx="1008.0" cy="656.0" r="2.3"/><circle cx="1061.0" cy="640.0" r="2.3"/><circle cx="1100.0" cy="642.0" r="2.3"/><circle cx="1063.0" cy="576.0" r="2.3"/><circle cx="1097.0" cy="576.0" r="2.3"/><circle cx="1080.0" cy="656.0" r="2.3"/></g>
<path d="M612.0 -51.0L612.0 -5.0M612.0 -31.0L593.0 -21.0M593.0 -21.0L593.0 5.0M612.0 -31.0L632.0 -19.0M632.0 -19.0L632.0 7.0M612.0 -51.0L595.0 -60.0M612.0 -51.0L629.0 -60.0M595.0 -60.0L595.0 -85.0M629.0 -60.0L629.0 -85.0M684.0 -51.0L684.0 -5.0M684.0 -31.0L665.0 -21.0M665.0 -21.0L665.0 5.0M684.0 -31.0L704.0 -19.0M704.0 -19.0L704.0 7.0M684.0 -51.0L667.0 -60.0M684.0 -51.0L701.0 -60.0M667.0 -60.0L667.0 -85.0M701.0 -60.0L701.0 -85.0M756.0 -51.0L756.0 -5.0M756.0 -31.0L737.0 -21.0M737.0 -21.0L737.0 5.0M756.0 -31.0L776.0 -19.0M776.0 -19.0L776.0 7.0M756.0 -51.0L739.0 -60.0M756.0 -51.0L773.0 -60.0M739.0 -60.0L739.0 -85.0M773.0 -60.0L773.0 -85.0M828.0 -51.0L828.0 -5.0M828.0 -31.0L809.0 -21.0M809.0 -21.0L809.0 5.0M828.0 -31.0L848.0 -19.0M848.0 -19.0L848.0 7.0M828.0 -51.0L811.0 -60.0M828.0 -51.0L845.0 -60.0M811.0 -60.0L811.0 -85.0M845.0 -60.0L845.0 -85.0M900.0 -51.0L900.0 -5.0M900.0 -31.0L881.0 -21.0M881.0 -21.0L881.0 5.0M900.0 -31.0L920.0 -19.0M920.0 -19.0L920.0 7.0M900.0 -51.0L883.0 -60.0M900.0 -51.0L917.0 -60.0M883.0 -60.0L883.0 -85.0M917.0 -60.0L917.0 -85.0M972.0 -51.0L972.0 -5.0M972.0 -31.0L953.0 -21.0M953.0 -21.0L953.0 5.0M972.0 -31.0L992.0 -19.0M992.0 -19.0L992.0 7.0M972.0 -51.0L955.0 -60.0M972.0 -51.0L989.0 -60.0M955.0 -60.0L955.0 -85.0M989.0 -60.0L989.0 -85.0M1044.0 -51.0L1044.0 -5.0M1044.0 -31.0L1025.0 -21.0M1025.0 -21.0L1025.0 5.0M1044.0 -31.0L1064.0 -19.0M1064.0 -19.0L1064.0 7.0M1044.0 -51.0L1027.0 -60.0M1044.0 -51.0L1061.0 -60.0M1027.0 -60.0L1027.0 -85.0M1061.0 -60.0L1061.0 -85.0M1116.0 -51.0L1116.0 -5.0M1116.0 -31.0L1097.0 -21.0M1097.0 -21.0L1097.0 5.0M1116.0 -31.0L1136.0 -19.0M1136.0 -19.0L1136.0 7.0M1116.0 -51.0L1099.0 -60.0M1116.0 -51.0L1133.0 -60.0M1099.0 -60.0L1099.0 -85.0M1133.0 -60.0L1133.0 -85.0M632.0 12.0L632.0 58.0M632.0 32.0L613.0 42.0M613.0 42.0L613.0 68.0M632.0 32.0L652.0 44.0M652.0 44.0L652.0 70.0M632.0 12.0L615.0 3.0M632.0 12.0L649.0 3.0M615.0 3.0L615.0 -22.0M649.0 3.0L649.0 -22.0M704.0 12.0L704.0 58.0M704.0 32.0L685.0 42.0M685.0 42.0L685.0 68.0M704.0 32.0L724.0 44.0M724.0 44.0L724.0 70.0M704.0 12.0L687.0 3.0M704.0 12.0L721.0 3.0M687.0 3.0L687.0 -22.0M721.0 3.0L721.0 -22.0M776.0 12.0L776.0 58.0M776.0 32.0L757.0 42.0M757.0 42.0L757.0 68.0M776.0 32.0L796.0 44.0M796.0 44.0L796.0 70.0M776.0 12.0L759.0 3.0M776.0 12.0L793.0 3.0M759.0 3.0L759.0 -22.0M793.0 3.0L793.0 -22.0M848.0 12.0L848.0 58.0M848.0 32.0L829.0 42.0M829.0 42.0L829.0 68.0M848.0 32.0L868.0 44.0M868.0 44.0L868.0 70.0M848.0 12.0L831.0 3.0M848.0 12.0L865.0 3.0M831.0 3.0L831.0 -22.0M865.0 3.0L865.0 -22.0M920.0 12.0L920.0 58.0M920.0 32.0L901.0 42.0M901.0 42.0L901.0 68.0M920.0 32.0L940.0 44.0M940.0 44.0L940.0 70.0M920.0 12.0L903.0 3.0M920.0 12.0L937.0 3.0M903.0 3.0L903.0 -22.0M937.0 3.0L937.0 -22.0M992.0 12.0L992.0 58.0M992.0 32.0L973.0 42.0M973.0 42.0L973.0 68.0M992.0 32.0L1012.0 44.0M1012.0 44.0L1012.0 70.0M992.0 12.0L975.0 3.0M992.0 12.0L1009.0 3.0M975.0 3.0L975.0 -22.0M1009.0 3.0L1009.0 -22.0M1064.0 12.0L1064.0 58.0M1064.0 32.0L1045.0 42.0M1045.0 42.0L1045.0 68.0M1064.0 32.0L1084.0 44.0M1084.0 44.0L1084.0 70.0M1064.0 12.0L1047.0 3.0M1064.0 12.0L1081.0 3.0M1047.0 3.0L1047.0 -22.0M1081.0 3.0L1081.0 -22.0M612.0 75.0L612.0 121.0M612.0 95.0L593.0 105.0M593.0 105.0L593.0 131.0M612.0 95.0L632.0 107.0M632.0 107.0L632.0 133.0M612.0 75.0L595.0 66.0M612.0 75.0L629.0 66.0M595.0 66.0L595.0 41.0M629.0 66.0L629.0 41.0M684.0 75.0L684.0 121.0M684.0 95.0L665.0 105.0M665.0 105.0L665.0 131.0M684.0 95.0L704.0 107.0M704.0 107.0L704.0 133.0M684.0 75.0L667.0 66.0M684.0 75.0L701.0 66.0M667.0 66.0L667.0 41.0M701.0 66.0L701.0 41.0M756.0 75.0L756.0 121.0M756.0 95.0L737.0 105.0M737.0 105.0L737.0 131.0M756.0 95.0L776.0 107.0M776.0 107.0L776.0 133.0M756.0 75.0L739.0 66.0M756.0 75.0L773.0 66.0M739.0 66.0L739.0 41.0M773.0 66.0L773.0 41.0M828.0 75.0L828.0 121.0M828.0 95.0L809.0 105.0M809.0 105.0L809.0 131.0M828.0 95.0L848.0 107.0M848.0 107.0L848.0 133.0M828.0 75.0L811.0 66.0M828.0 75.0L845.0 66.0M811.0 66.0L811.0 41.0M845.0 66.0L845.0 41.0M900.0 75.0L900.0 121.0M900.0 95.0L881.0 105.0M881.0 105.0L881.0 131.0M900.0 95.0L920.0 107.0M920.0 107.0L920.0 133.0M900.0 75.0L883.0 66.0M900.0 75.0L917.0 66.0M883.0 66.0L883.0 41.0M917.0 66.0L917.0 41.0M972.0 75.0L972.0 121.0M972.0 95.0L953.0 105.0M953.0 105.0L953.0 131.0M972.0 95.0L992.0 107.0M992.0 107.0L992.0 133.0M972.0 75.0L955.0 66.0M972.0 75.0L989.0 66.0M955.0 66.0L955.0 41.0M989.0 66.0L989.0 41.0M1044.0 75.0L1044.0 121.0M1044.0 95.0L1025.0 105.0M1025.0 105.0L1025.0 131.0M1044.0 95.0L1064.0 107.0M1064.0 107.0L1064.0 133.0M1044.0 75.0L1027.0 66.0M1044.0 75.0L1061.0 66.0M1027.0 66.0L1027.0 41.0M1061.0 66.0L1061.0 41.0M1116.0 75.0L1116.0 121.0M1116.0 95.0L1097.0 105.0M1097.0 105.0L1097.0 131.0M1116.0 95.0L1136.0 107.0M1136.0 107.0L1136.0 133.0M1116.0 75.0L1099.0 66.0M1116.0 75.0L1133.0 66.0M1099.0 66.0L1099.0 41.0M1133.0 66.0L1133.0 41.0M632.0 138.0L632.0 184.0M632.0 158.0L613.0 168.0M613.0 168.0L613.0 194.0M632.0 158.0L652.0 170.0M652.0 170.0L652.0 196.0M632.0 138.0L615.0 129.0M632.0 138.0L649.0 129.0M615.0 129.0L615.0 104.0M649.0 129.0L649.0 104.0M704.0 138.0L704.0 184.0M704.0 158.0L685.0 168.0M685.0 168.0L685.0 194.0M704.0 158.0L724.0 170.0M724.0 170.0L724.0 196.0M704.0 138.0L687.0 129.0M704.0 138.0L721.0 129.0M687.0 129.0L687.0 104.0M721.0 129.0L721.0 104.0M776.0 138.0L776.0 184.0M776.0 158.0L757.0 168.0M757.0 168.0L757.0 194.0M776.0 158.0L796.0 170.0M796.0 170.0L796.0 196.0M776.0 138.0L759.0 129.0M776.0 138.0L793.0 129.0M759.0 129.0L759.0 104.0M793.0 129.0L793.0 104.0M848.0 138.0L848.0 184.0M848.0 158.0L829.0 168.0M829.0 168.0L829.0 194.0M848.0 158.0L868.0 170.0M868.0 170.0L868.0 196.0M848.0 138.0L831.0 129.0M848.0 138.0L865.0 129.0M831.0 129.0L831.0 104.0M865.0 129.0L865.0 104.0M920.0 138.0L920.0 184.0M920.0 158.0L901.0 168.0M901.0 168.0L901.0 194.0M920.0 158.0L940.0 170.0M940.0 170.0L940.0 196.0M920.0 138.0L903.0 129.0M920.0 138.0L937.0 129.0M903.0 129.0L903.0 104.0M937.0 129.0L937.0 104.0M992.0 138.0L992.0 184.0M992.0 158.0L973.0 168.0M973.0 168.0L973.0 194.0M992.0 158.0L1012.0 170.0M1012.0 170.0L1012.0 196.0M992.0 138.0L975.0 129.0M992.0 138.0L1009.0 129.0M975.0 129.0L975.0 104.0M1009.0 129.0L1009.0 104.0M1064.0 138.0L1064.0 184.0M1064.0 158.0L1045.0 168.0M1045.0 168.0L1045.0 194.0M1064.0 158.0L1084.0 170.0M1084.0 170.0L1084.0 196.0M1064.0 138.0L1047.0 129.0M1064.0 138.0L1081.0 129.0M1047.0 129.0L1047.0 104.0M1081.0 129.0L1081.0 104.0M612.0 201.0L612.0 247.0M612.0 221.0L593.0 231.0M593.0 231.0L593.0 257.0M612.0 221.0L632.0 233.0M632.0 233.0L632.0 259.0M612.0 201.0L595.0 192.0M612.0 201.0L629.0 192.0M595.0 192.0L595.0 167.0M629.0 192.0L629.0 167.0M684.0 201.0L684.0 247.0M684.0 221.0L665.0 231.0M665.0 231.0L665.0 257.0M684.0 221.0L704.0 233.0M704.0 233.0L704.0 259.0M684.0 201.0L667.0 192.0M684.0 201.0L701.0 192.0M667.0 192.0L667.0 167.0M701.0 192.0L701.0 167.0M756.0 201.0L756.0 247.0M756.0 221.0L737.0 231.0M737.0 231.0L737.0 257.0M756.0 221.0L776.0 233.0M776.0 233.0L776.0 259.0M756.0 201.0L739.0 192.0M756.0 201.0L773.0 192.0M739.0 192.0L739.0 167.0M773.0 192.0L773.0 167.0M828.0 201.0L828.0 247.0M828.0 221.0L809.0 231.0M809.0 231.0L809.0 257.0M828.0 221.0L848.0 233.0M848.0 233.0L848.0 259.0M828.0 201.0L811.0 192.0M828.0 201.0L845.0 192.0M811.0 192.0L811.0 167.0M845.0 192.0L845.0 167.0M900.0 201.0L900.0 247.0M900.0 221.0L881.0 231.0M881.0 231.0L881.0 257.0M900.0 221.0L920.0 233.0M920.0 233.0L920.0 259.0M900.0 201.0L883.0 192.0M900.0 201.0L917.0 192.0M883.0 192.0L883.0 167.0M917.0 192.0L917.0 167.0M972.0 201.0L972.0 247.0M972.0 221.0L953.0 231.0M953.0 231.0L953.0 257.0M972.0 221.0L992.0 233.0M992.0 233.0L992.0 259.0M972.0 201.0L955.0 192.0M972.0 201.0L989.0 192.0M955.0 192.0L955.0 167.0M989.0 192.0L989.0 167.0M1044.0 201.0L1044.0 247.0M1044.0 221.0L1025.0 231.0M1025.0 231.0L1025.0 257.0M1044.0 221.0L1064.0 233.0M1064.0 233.0L1064.0 259.0M1044.0 201.0L1027.0 192.0M1044.0 201.0L1061.0 192.0M1027.0 192.0L1027.0 167.0M1061.0 192.0L1061.0 167.0M1116.0 201.0L1116.0 247.0M1116.0 221.0L1097.0 231.0M1097.0 231.0L1097.0 257.0M1116.0 221.0L1136.0 233.0M1136.0 233.0L1136.0 259.0M1116.0 201.0L1099.0 192.0M1116.0 201.0L1133.0 192.0M1099.0 192.0L1099.0 167.0M1133.0 192.0L1133.0 167.0M632.0 264.0L632.0 310.0M632.0 284.0L613.0 294.0M613.0 294.0L613.0 320.0M632.0 284.0L652.0 296.0M652.0 296.0L652.0 322.0M632.0 264.0L615.0 255.0M632.0 264.0L649.0 255.0M615.0 255.0L615.0 230.0M649.0 255.0L649.0 230.0M704.0 264.0L704.0 310.0M704.0 284.0L685.0 294.0M685.0 294.0L685.0 320.0M704.0 284.0L724.0 296.0M724.0 296.0L724.0 322.0M704.0 264.0L687.0 255.0M704.0 264.0L721.0 255.0M687.0 255.0L687.0 230.0M721.0 255.0L721.0 230.0M776.0 264.0L776.0 310.0M776.0 284.0L757.0 294.0M757.0 294.0L757.0 320.0M776.0 284.0L796.0 296.0M796.0 296.0L796.0 322.0M776.0 264.0L759.0 255.0M776.0 264.0L793.0 255.0M759.0 255.0L759.0 230.0M793.0 255.0L793.0 230.0M848.0 264.0L848.0 310.0M848.0 284.0L829.0 294.0M829.0 294.0L829.0 320.0M848.0 284.0L868.0 296.0M868.0 296.0L868.0 322.0M848.0 264.0L831.0 255.0M848.0 264.0L865.0 255.0M831.0 255.0L831.0 230.0M865.0 255.0L865.0 230.0M920.0 264.0L920.0 310.0M920.0 284.0L901.0 294.0M901.0 294.0L901.0 320.0M920.0 284.0L940.0 296.0M940.0 296.0L940.0 322.0M920.0 264.0L903.0 255.0M920.0 264.0L937.0 255.0M903.0 255.0L903.0 230.0M937.0 255.0L937.0 230.0M992.0 264.0L992.0 310.0M992.0 284.0L973.0 294.0M973.0 294.0L973.0 320.0M992.0 284.0L1012.0 296.0M1012.0 296.0L1012.0 322.0M992.0 264.0L975.0 255.0M992.0 264.0L1009.0 255.0M975.0 255.0L975.0 230.0M1009.0 255.0L1009.0 230.0M1064.0 264.0L1064.0 310.0M1064.0 284.0L1045.0 294.0M1045.0 294.0L1045.0 320.0M1064.0 284.0L1084.0 296.0M1084.0 296.0L1084.0 322.0M1064.0 264.0L1047.0 255.0M1064.0 264.0L1081.0 255.0M1047.0 255.0L1047.0 230.0M1081.0 255.0L1081.0 230.0M612.0 327.0L612.0 373.0M612.0 347.0L593.0 357.0M593.0 357.0L593.0 383.0M612.0 347.0L632.0 359.0M632.0 359.0L632.0 385.0M612.0 327.0L595.0 318.0M612.0 327.0L629.0 318.0M595.0 318.0L595.0 293.0M629.0 318.0L629.0 293.0M684.0 327.0L684.0 373.0M684.0 347.0L665.0 357.0M665.0 357.0L665.0 383.0M684.0 347.0L704.0 359.0M704.0 359.0L704.0 385.0M684.0 327.0L667.0 318.0M684.0 327.0L701.0 318.0M667.0 318.0L667.0 293.0M701.0 318.0L701.0 293.0M756.0 327.0L756.0 373.0M756.0 347.0L737.0 357.0M737.0 357.0L737.0 383.0M756.0 347.0L776.0 359.0M776.0 359.0L776.0 385.0M756.0 327.0L739.0 318.0M756.0 327.0L773.0 318.0M739.0 318.0L739.0 293.0M773.0 318.0L773.0 293.0M828.0 327.0L828.0 373.0M828.0 347.0L809.0 357.0M809.0 357.0L809.0 383.0M828.0 347.0L848.0 359.0M848.0 359.0L848.0 385.0M828.0 327.0L811.0 318.0M828.0 327.0L845.0 318.0M811.0 318.0L811.0 293.0M845.0 318.0L845.0 293.0M900.0 327.0L900.0 373.0M900.0 347.0L881.0 357.0M881.0 357.0L881.0 383.0M900.0 347.0L920.0 359.0M920.0 359.0L920.0 385.0M900.0 327.0L883.0 318.0M900.0 327.0L917.0 318.0M883.0 318.0L883.0 293.0M917.0 318.0L917.0 293.0M972.0 327.0L972.0 373.0M972.0 347.0L953.0 357.0M953.0 357.0L953.0 383.0M972.0 347.0L992.0 359.0M992.0 359.0L992.0 385.0M972.0 327.0L955.0 318.0M972.0 327.0L989.0 318.0M955.0 318.0L955.0 293.0M989.0 318.0L989.0 293.0M1044.0 327.0L1044.0 373.0M1044.0 347.0L1025.0 357.0M1025.0 357.0L1025.0 383.0M1044.0 347.0L1064.0 359.0M1064.0 359.0L1064.0 385.0M1044.0 327.0L1027.0 318.0M1044.0 327.0L1061.0 318.0M1027.0 318.0L1027.0 293.0M1061.0 318.0L1061.0 293.0M1116.0 327.0L1116.0 373.0M1116.0 347.0L1097.0 357.0M1097.0 357.0L1097.0 383.0M1116.0 347.0L1136.0 359.0M1136.0 359.0L1136.0 385.0M1116.0 327.0L1099.0 318.0M1116.0 327.0L1133.0 318.0M1099.0 318.0L1099.0 293.0M1133.0 318.0L1133.0 293.0M632.0 390.0L632.0 436.0M632.0 410.0L613.0 420.0M613.0 420.0L613.0 446.0M632.0 410.0L652.0 422.0M652.0 422.0L652.0 448.0M632.0 390.0L615.0 381.0M632.0 390.0L649.0 381.0M615.0 381.0L615.0 356.0M649.0 381.0L649.0 356.0M704.0 390.0L704.0 436.0M704.0 410.0L685.0 420.0M685.0 420.0L685.0 446.0M704.0 410.0L724.0 422.0M724.0 422.0L724.0 448.0M704.0 390.0L687.0 381.0M704.0 390.0L721.0 381.0M687.0 381.0L687.0 356.0M721.0 381.0L721.0 356.0M776.0 390.0L776.0 436.0M776.0 410.0L757.0 420.0M757.0 420.0L757.0 446.0M776.0 410.0L796.0 422.0M796.0 422.0L796.0 448.0M776.0 390.0L759.0 381.0M776.0 390.0L793.0 381.0M759.0 381.0L759.0 356.0M793.0 381.0L793.0 356.0M848.0 390.0L848.0 436.0M848.0 410.0L829.0 420.0M829.0 420.0L829.0 446.0M848.0 410.0L868.0 422.0M868.0 422.0L868.0 448.0M848.0 390.0L831.0 381.0M848.0 390.0L865.0 381.0M831.0 381.0L831.0 356.0M865.0 381.0L865.0 356.0M920.0 390.0L920.0 436.0M920.0 410.0L901.0 420.0M901.0 420.0L901.0 446.0M920.0 410.0L940.0 422.0M940.0 422.0L940.0 448.0M920.0 390.0L903.0 381.0M920.0 390.0L937.0 381.0M903.0 381.0L903.0 356.0M937.0 381.0L937.0 356.0M992.0 390.0L992.0 436.0M992.0 410.0L973.0 420.0M973.0 420.0L973.0 446.0M992.0 410.0L1012.0 422.0M1012.0 422.0L1012.0 448.0M992.0 390.0L975.0 381.0M992.0 390.0L1009.0 381.0M975.0 381.0L975.0 356.0M1009.0 381.0L1009.0 356.0M1064.0 390.0L1064.0 436.0M1064.0 410.0L1045.0 420.0M1045.0 420.0L1045.0 446.0M1064.0 410.0L1084.0 422.0M1084.0 422.0L1084.0 448.0M1064.0 390.0L1047.0 381.0M1064.0 390.0L1081.0 381.0M1047.0 381.0L1047.0 356.0M1081.0 381.0L1081.0 356.0M612.0 453.0L612.0 499.0M612.0 473.0L593.0 483.0M593.0 483.0L593.0 509.0M612.0 473.0L632.0 485.0M632.0 485.0L632.0 511.0M612.0 453.0L595.0 444.0M612.0 453.0L629.0 444.0M595.0 444.0L595.0 419.0M629.0 444.0L629.0 419.0M684.0 453.0L684.0 499.0M684.0 473.0L665.0 483.0M665.0 483.0L665.0 509.0M684.0 473.0L704.0 485.0M704.0 485.0L704.0 511.0M684.0 453.0L667.0 444.0M684.0 453.0L701.0 444.0M667.0 444.0L667.0 419.0M701.0 444.0L701.0 419.0M756.0 453.0L756.0 499.0M756.0 473.0L737.0 483.0M737.0 483.0L737.0 509.0M756.0 473.0L776.0 485.0M776.0 485.0L776.0 511.0M756.0 453.0L739.0 444.0M756.0 453.0L773.0 444.0M739.0 444.0L739.0 419.0M773.0 444.0L773.0 419.0M828.0 453.0L828.0 499.0M828.0 473.0L809.0 483.0M809.0 483.0L809.0 509.0M828.0 473.0L848.0 485.0M848.0 485.0L848.0 511.0M828.0 453.0L811.0 444.0M828.0 453.0L845.0 444.0M811.0 444.0L811.0 419.0M845.0 444.0L845.0 419.0M900.0 453.0L900.0 499.0M900.0 473.0L881.0 483.0M881.0 483.0L881.0 509.0M900.0 473.0L920.0 485.0M920.0 485.0L920.0 511.0M900.0 453.0L883.0 444.0M900.0 453.0L917.0 444.0M883.0 444.0L883.0 419.0M917.0 444.0L917.0 419.0M972.0 453.0L972.0 499.0M972.0 473.0L953.0 483.0M953.0 483.0L953.0 509.0M972.0 473.0L992.0 485.0M992.0 485.0L992.0 511.0M972.0 453.0L955.0 444.0M972.0 453.0L989.0 444.0M955.0 444.0L955.0 419.0M989.0 444.0L989.0 419.0M1044.0 453.0L1044.0 499.0M1044.0 473.0L1025.0 483.0M1025.0 483.0L1025.0 509.0M1044.0 473.0L1064.0 485.0M1064.0 485.0L1064.0 511.0M1044.0 453.0L1027.0 444.0M1044.0 453.0L1061.0 444.0M1027.0 444.0L1027.0 419.0M1061.0 444.0L1061.0 419.0M1116.0 453.0L1116.0 499.0M1116.0 473.0L1097.0 483.0M1097.0 483.0L1097.0 509.0M1116.0 473.0L1136.0 485.0M1136.0 485.0L1136.0 511.0M1116.0 453.0L1099.0 444.0M1116.0 453.0L1133.0 444.0M1099.0 444.0L1099.0 419.0M1133.0 444.0L1133.0 419.0M632.0 516.0L632.0 562.0M632.0 536.0L613.0 546.0M613.0 546.0L613.0 572.0M632.0 536.0L652.0 548.0M652.0 548.0L652.0 574.0M632.0 516.0L615.0 507.0M632.0 516.0L649.0 507.0M615.0 507.0L615.0 482.0M649.0 507.0L649.0 482.0M704.0 516.0L704.0 562.0M704.0 536.0L685.0 546.0M685.0 546.0L685.0 572.0M704.0 536.0L724.0 548.0M724.0 548.0L724.0 574.0M704.0 516.0L687.0 507.0M704.0 516.0L721.0 507.0M687.0 507.0L687.0 482.0M721.0 507.0L721.0 482.0M776.0 516.0L776.0 562.0M776.0 536.0L757.0 546.0M757.0 546.0L757.0 572.0M776.0 536.0L796.0 548.0M796.0 548.0L796.0 574.0M776.0 516.0L759.0 507.0M776.0 516.0L793.0 507.0M759.0 507.0L759.0 482.0M793.0 507.0L793.0 482.0M848.0 516.0L848.0 562.0M848.0 536.0L829.0 546.0M829.0 546.0L829.0 572.0M848.0 536.0L868.0 548.0M868.0 548.0L868.0 574.0M848.0 516.0L831.0 507.0M848.0 516.0L865.0 507.0M831.0 507.0L831.0 482.0M865.0 507.0L865.0 482.0M920.0 516.0L920.0 562.0M920.0 536.0L901.0 546.0M901.0 546.0L901.0 572.0M920.0 536.0L940.0 548.0M940.0 548.0L940.0 574.0M920.0 516.0L903.0 507.0M920.0 516.0L937.0 507.0M903.0 507.0L903.0 482.0M937.0 507.0L937.0 482.0M992.0 516.0L992.0 562.0M992.0 536.0L973.0 546.0M973.0 546.0L973.0 572.0M992.0 536.0L1012.0 548.0M1012.0 548.0L1012.0 574.0M992.0 516.0L975.0 507.0M992.0 516.0L1009.0 507.0M975.0 507.0L975.0 482.0M1009.0 507.0L1009.0 482.0M1064.0 516.0L1064.0 562.0M1064.0 536.0L1045.0 546.0M1045.0 546.0L1045.0 572.0M1064.0 536.0L1084.0 548.0M1084.0 548.0L1084.0 574.0M1064.0 516.0L1047.0 507.0M1064.0 516.0L1081.0 507.0M1047.0 507.0L1047.0 482.0M1081.0 507.0L1081.0 482.0M612.0 579.0L612.0 625.0M612.0 599.0L593.0 609.0M593.0 609.0L593.0 635.0M612.0 599.0L632.0 611.0M632.0 611.0L632.0 637.0M612.0 579.0L595.0 570.0M612.0 579.0L629.0 570.0M595.0 570.0L595.0 545.0M629.0 570.0L629.0 545.0M684.0 579.0L684.0 625.0M684.0 599.0L665.0 609.0M665.0 609.0L665.0 635.0M684.0 599.0L704.0 611.0M704.0 611.0L704.0 637.0M684.0 579.0L667.0 570.0M684.0 579.0L701.0 570.0M667.0 570.0L667.0 545.0M701.0 570.0L701.0 545.0M756.0 579.0L756.0 625.0M756.0 599.0L737.0 609.0M737.0 609.0L737.0 635.0M756.0 599.0L776.0 611.0M776.0 611.0L776.0 637.0M756.0 579.0L739.0 570.0M756.0 579.0L773.0 570.0M739.0 570.0L739.0 545.0M773.0 570.0L773.0 545.0M828.0 579.0L828.0 625.0M828.0 599.0L809.0 609.0M809.0 609.0L809.0 635.0M828.0 599.0L848.0 611.0M848.0 611.0L848.0 637.0M828.0 579.0L811.0 570.0M828.0 579.0L845.0 570.0M811.0 570.0L811.0 545.0M845.0 570.0L845.0 545.0M900.0 579.0L900.0 625.0M900.0 599.0L881.0 609.0M881.0 609.0L881.0 635.0M900.0 599.0L920.0 611.0M920.0 611.0L920.0 637.0M900.0 579.0L883.0 570.0M900.0 579.0L917.0 570.0M883.0 570.0L883.0 545.0M917.0 570.0L917.0 545.0M972.0 579.0L972.0 625.0M972.0 599.0L953.0 609.0M953.0 609.0L953.0 635.0M972.0 599.0L992.0 611.0M992.0 611.0L992.0 637.0M972.0 579.0L955.0 570.0M972.0 579.0L989.0 570.0M955.0 570.0L955.0 545.0M989.0 570.0L989.0 545.0M1044.0 579.0L1044.0 625.0M1044.0 599.0L1025.0 609.0M1025.0 609.0L1025.0 635.0M1044.0 599.0L1064.0 611.0M1064.0 611.0L1064.0 637.0M1044.0 579.0L1027.0 570.0M1044.0 579.0L1061.0 570.0M1027.0 570.0L1027.0 545.0M1061.0 570.0L1061.0 545.0M1116.0 579.0L1116.0 625.0M1116.0 599.0L1097.0 609.0M1097.0 609.0L1097.0 635.0M1116.0 599.0L1136.0 611.0M1136.0 611.0L1136.0 637.0M1116.0 579.0L1099.0 570.0M1116.0 579.0L1133.0 570.0M1099.0 570.0L1099.0 545.0M1133.0 570.0L1133.0 545.0" stroke="#8e8e8e" stroke-width="1.8" fill="none" opacity="0.56" stroke-linecap="round"/>
<g fill="#4444a4" opacity="0.64"><circle cx="593.0" cy="5.0" r="3.3"/><circle cx="632.0" cy="7.0" r="3.3"/><circle cx="612.0" cy="-51.0" r="3.3"/><circle cx="665.0" cy="5.0" r="3.3"/><circle cx="704.0" cy="7.0" r="3.3"/><circle cx="684.0" cy="-51.0" r="3.3"/><circle cx="737.0" cy="5.0" r="3.3"/><circle cx="776.0" cy="7.0" r="3.3"/><circle cx="756.0" cy="-51.0" r="3.3"/><circle cx="809.0" cy="5.0" r="3.3"/><circle cx="848.0" cy="7.0" r="3.3"/><circle cx="828.0" cy="-51.0" r="3.3"/><circle cx="881.0" cy="5.0" r="3.3"/><circle cx="920.0" cy="7.0" r="3.3"/><circle cx="900.0" cy="-51.0" r="3.3"/><circle cx="953.0" cy="5.0" r="3.3"/><circle cx="992.0" cy="7.0" r="3.3"/><circle cx="972.0" cy="-51.0" r="3.3"/><circle cx="1025.0" cy="5.0" r="3.3"/><circle cx="1064.0" cy="7.0" r="3.3"/><circle cx="1044.0" cy="-51.0" r="3.3"/><circle cx="1097.0" cy="5.0" r="3.3"/><circle cx="1136.0" cy="7.0" r="3.3"/><circle cx="1116.0" cy="-51.0" r="3.3"/><circle cx="613.0" cy="68.0" r="3.3"/><circle cx="652.0" cy="70.0" r="3.3"/><circle cx="632.0" cy="12.0" r="3.3"/><circle cx="685.0" cy="68.0" r="3.3"/><circle cx="724.0" cy="70.0" r="3.3"/><circle cx="704.0" cy="12.0" r="3.3"/><circle cx="757.0" cy="68.0" r="3.3"/><circle cx="796.0" cy="70.0" r="3.3"/><circle cx="776.0" cy="12.0" r="3.3"/><circle cx="829.0" cy="68.0" r="3.3"/><circle cx="868.0" cy="70.0" r="3.3"/><circle cx="848.0" cy="12.0" r="3.3"/><circle cx="901.0" cy="68.0" r="3.3"/><circle cx="940.0" cy="70.0" r="3.3"/><circle cx="920.0" cy="12.0" r="3.3"/><circle cx="973.0" cy="68.0" r="3.3"/><circle cx="1012.0" cy="70.0" r="3.3"/><circle cx="992.0" cy="12.0" r="3.3"/><circle cx="1045.0" cy="68.0" r="3.3"/><circle cx="1084.0" cy="70.0" r="3.3"/><circle cx="1064.0" cy="12.0" r="3.3"/><circle cx="593.0" cy="131.0" r="3.3"/><circle cx="632.0" cy="133.0" r="3.3"/><circle cx="612.0" cy="75.0" r="3.3"/><circle cx="665.0" cy="131.0" r="3.3"/><circle cx="704.0" cy="133.0" r="3.3"/><circle cx="684.0" cy="75.0" r="3.3"/><circle cx="737.0" cy="131.0" r="3.3"/><circle cx="776.0" cy="133.0" r="3.3"/><circle cx="756.0" cy="75.0" r="3.3"/><circle cx="809.0" cy="131.0" r="3.3"/><circle cx="848.0" cy="133.0" r="3.3"/><circle cx="828.0" cy="75.0" r="3.3"/><circle cx="881.0" cy="131.0" r="3.3"/><circle cx="920.0" cy="133.0" r="3.3"/><circle cx="900.0" cy="75.0" r="3.3"/><circle cx="953.0" cy="131.0" r="3.3"/><circle cx="992.0" cy="133.0" r="3.3"/><circle cx="972.0" cy="75.0" r="3.3"/><circle cx="1025.0" cy="131.0" r="3.3"/><circle cx="1064.0" cy="133.0" r="3.3"/><circle cx="1044.0" cy="75.0" r="3.3"/><circle cx="1097.0" cy="131.0" r="3.3"/><circle cx="1136.0" cy="133.0" r="3.3"/><circle cx="1116.0" cy="75.0" r="3.3"/><circle cx="613.0" cy="194.0" r="3.3"/><circle cx="652.0" cy="196.0" r="3.3"/><circle cx="632.0" cy="138.0" r="3.3"/><circle cx="685.0" cy="194.0" r="3.3"/><circle cx="724.0" cy="196.0" r="3.3"/><circle cx="704.0" cy="138.0" r="3.3"/><circle cx="757.0" cy="194.0" r="3.3"/><circle cx="796.0" cy="196.0" r="3.3"/><circle cx="776.0" cy="138.0" r="3.3"/><circle cx="829.0" cy="194.0" r="3.3"/><circle cx="868.0" cy="196.0" r="3.3"/><circle cx="848.0" cy="138.0" r="3.3"/><circle cx="901.0" cy="194.0" r="3.3"/><circle cx="940.0" cy="196.0" r="3.3"/><circle cx="920.0" cy="138.0" r="3.3"/><circle cx="973.0" cy="194.0" r="3.3"/><circle cx="1012.0" cy="196.0" r="3.3"/><circle cx="992.0" cy="138.0" r="3.3"/><circle cx="1045.0" cy="194.0" r="3.3"/><circle cx="1084.0" cy="196.0" r="3.3"/><circle cx="1064.0" cy="138.0" r="3.3"/><circle cx="593.0" cy="257.0" r="3.3"/><circle cx="632.0" cy="259.0" r="3.3"/><circle cx="612.0" cy="201.0" r="3.3"/><circle cx="665.0" cy="257.0" r="3.3"/><circle cx="704.0" cy="259.0" r="3.3"/><circle cx="684.0" cy="201.0" r="3.3"/><circle cx="737.0" cy="257.0" r="3.3"/><circle cx="776.0" cy="259.0" r="3.3"/><circle cx="756.0" cy="201.0" r="3.3"/><circle cx="809.0" cy="257.0" r="3.3"/><circle cx="848.0" cy="259.0" r="3.3"/><circle cx="828.0" cy="201.0" r="3.3"/><circle cx="881.0" cy="257.0" r="3.3"/><circle cx="920.0" cy="259.0" r="3.3"/><circle cx="900.0" cy="201.0" r="3.3"/><circle cx="953.0" cy="257.0" r="3.3"/><circle cx="992.0" cy="259.0" r="3.3"/><circle cx="972.0" cy="201.0" r="3.3"/><circle cx="1025.0" cy="257.0" r="3.3"/><circle cx="1064.0" cy="259.0" r="3.3"/><circle cx="1044.0" cy="201.0" r="3.3"/><circle cx="1097.0" cy="257.0" r="3.3"/><circle cx="1136.0" cy="259.0" r="3.3"/><circle cx="1116.0" cy="201.0" r="3.3"/><circle cx="613.0" cy="320.0" r="3.3"/><circle cx="652.0" cy="322.0" r="3.3"/><circle cx="632.0" cy="264.0" r="3.3"/><circle cx="685.0" cy="320.0" r="3.3"/><circle cx="724.0" cy="322.0" r="3.3"/><circle cx="704.0" cy="264.0" r="3.3"/><circle cx="757.0" cy="320.0" r="3.3"/><circle cx="796.0" cy="322.0" r="3.3"/><circle cx="776.0" cy="264.0" r="3.3"/><circle cx="829.0" cy="320.0" r="3.3"/><circle cx="868.0" cy="322.0" r="3.3"/><circle cx="848.0" cy="264.0" r="3.3"/><circle cx="901.0" cy="320.0" r="3.3"/><circle cx="940.0" cy="322.0" r="3.3"/><circle cx="920.0" cy="264.0" r="3.3"/><circle cx="973.0" cy="320.0" r="3.3"/><circle cx="1012.0" cy="322.0" r="3.3"/><circle cx="992.0" cy="264.0" r="3.3"/><circle cx="1045.0" cy="320.0" r="3.3"/><circle cx="1084.0" cy="322.0" r="3.3"/><circle cx="1064.0" cy="264.0" r="3.3"/><circle cx="593.0" cy="383.0" r="3.3"/><circle cx="632.0" cy="385.0" r="3.3"/><circle cx="612.0" cy="327.0" r="3.3"/><circle cx="665.0" cy="383.0" r="3.3"/><circle cx="704.0" cy="385.0" r="3.3"/><circle cx="684.0" cy="327.0" r="3.3"/><circle cx="737.0" cy="383.0" r="3.3"/><circle cx="776.0" cy="385.0" r="3.3"/><circle cx="756.0" cy="327.0" r="3.3"/><circle cx="809.0" cy="383.0" r="3.3"/><circle cx="848.0" cy="385.0" r="3.3"/><circle cx="828.0" cy="327.0" r="3.3"/><circle cx="881.0" cy="383.0" r="3.3"/><circle cx="920.0" cy="385.0" r="3.3"/><circle cx="900.0" cy="327.0" r="3.3"/><circle cx="953.0" cy="383.0" r="3.3"/><circle cx="992.0" cy="385.0" r="3.3"/><circle cx="972.0" cy="327.0" r="3.3"/><circle cx="1025.0" cy="383.0" r="3.3"/><circle cx="1064.0" cy="385.0" r="3.3"/><circle cx="1044.0" cy="327.0" r="3.3"/><circle cx="1097.0" cy="383.0" r="3.3"/><circle cx="1136.0" cy="385.0" r="3.3"/><circle cx="1116.0" cy="327.0" r="3.3"/><circle cx="613.0" cy="446.0" r="3.3"/><circle cx="652.0" cy="448.0" r="3.3"/><circle cx="632.0" cy="390.0" r="3.3"/><circle cx="685.0" cy="446.0" r="3.3"/><circle cx="724.0" cy="448.0" r="3.3"/><circle cx="704.0" cy="390.0" r="3.3"/><circle cx="757.0" cy="446.0" r="3.3"/><circle cx="796.0" cy="448.0" r="3.3"/><circle cx="776.0" cy="390.0" r="3.3"/><circle cx="829.0" cy="446.0" r="3.3"/><circle cx="868.0" cy="448.0" r="3.3"/><circle cx="848.0" cy="390.0" r="3.3"/><circle cx="901.0" cy="446.0" r="3.3"/><circle cx="940.0" cy="448.0" r="3.3"/><circle cx="920.0" cy="390.0" r="3.3"/><circle cx="973.0" cy="446.0" r="3.3"/><circle cx="1012.0" cy="448.0" r="3.3"/><circle cx="992.0" cy="390.0" r="3.3"/><circle cx="1045.0" cy="446.0" r="3.3"/><circle cx="1084.0" cy="448.0" r="3.3"/><circle cx="1064.0" cy="390.0" r="3.3"/><circle cx="593.0" cy="509.0" r="3.3"/><circle cx="632.0" cy="511.0" r="3.3"/><circle cx="612.0" cy="453.0" r="3.3"/><circle cx="665.0" cy="509.0" r="3.3"/><circle cx="704.0" cy="511.0" r="3.3"/><circle cx="684.0" cy="453.0" r="3.3"/><circle cx="737.0" cy="509.0" r="3.3"/><circle cx="776.0" cy="511.0" r="3.3"/><circle cx="756.0" cy="453.0" r="3.3"/><circle cx="809.0" cy="509.0" r="3.3"/><circle cx="848.0" cy="511.0" r="3.3"/><circle cx="828.0" cy="453.0" r="3.3"/><circle cx="881.0" cy="509.0" r="3.3"/><circle cx="920.0" cy="511.0" r="3.3"/><circle cx="900.0" cy="453.0" r="3.3"/><circle cx="953.0" cy="509.0" r="3.3"/><circle cx="992.0" cy="511.0" r="3.3"/><circle cx="972.0" cy="453.0" r="3.3"/><circle cx="1025.0" cy="509.0" r="3.3"/><circle cx="1064.0" cy="511.0" r="3.3"/><circle cx="1044.0" cy="453.0" r="3.3"/><circle cx="1097.0" cy="509.0" r="3.3"/><circle cx="1136.0" cy="511.0" r="3.3"/><circle cx="1116.0" cy="453.0" r="3.3"/><circle cx="613.0" cy="572.0" r="3.3"/><circle cx="652.0" cy="574.0" r="3.3"/><circle cx="632.0" cy="516.0" r="3.3"/><circle cx="685.0" cy="572.0" r="3.3"/><circle cx="724.0" cy="574.0" r="3.3"/><circle cx="704.0" cy="516.0" r="3.3"/><circle cx="757.0" cy="572.0" r="3.3"/><circle cx="796.0" cy="574.0" r="3.3"/><circle cx="776.0" cy="516.0" r="3.3"/><circle cx="829.0" cy="572.0" r="3.3"/><circle cx="868.0" cy="574.0" r="3.3"/><circle cx="848.0" cy="516.0" r="3.3"/><circle cx="901.0" cy="572.0" r="3.3"/><circle cx="940.0" cy="574.0" r="3.3"/><circle cx="920.0" cy="516.0" r="3.3"/><circle cx="973.0" cy="572.0" r="3.3"/><circle cx="1012.0" cy="574.0" r="3.3"/><circle cx="992.0" cy="516.0" r="3.3"/><circle cx="1045.0" cy="572.0" r="3.3"/><circle cx="1084.0" cy="574.0" r="3.3"/><circle cx="1064.0" cy="516.0" r="3.3"/><circle cx="593.0" cy="635.0" r="3.3"/><circle cx="632.0" cy="637.0" r="3.3"/><circle cx="612.0" cy="579.0" r="3.3"/><circle cx="665.0" cy="635.0" r="3.3"/><circle cx="704.0" cy="637.0" r="3.3"/><circle cx="684.0" cy="579.0" r="3.3"/><circle cx="737.0" cy="635.0" r="3.3"/><circle cx="776.0" cy="637.0" r="3.3"/><circle cx="756.0" cy="579.0" r="3.3"/><circle cx="809.0" cy="635.0" r="3.3"/><circle cx="848.0" cy="637.0" r="3.3"/><circle cx="828.0" cy="579.0" r="3.3"/><circle cx="881.0" cy="635.0" r="3.3"/><circle cx="920.0" cy="637.0" r="3.3"/><circle cx="900.0" cy="579.0" r="3.3"/><circle cx="953.0" cy="635.0" r="3.3"/><circle cx="992.0" cy="637.0" r="3.3"/><circle cx="972.0" cy="579.0" r="3.3"/><circle cx="1025.0" cy="635.0" r="3.3"/><circle cx="1064.0" cy="637.0" r="3.3"/><circle cx="1044.0" cy="579.0" r="3.3"/><circle cx="1097.0" cy="635.0" r="3.3"/><circle cx="1136.0" cy="637.0" r="3.3"/><circle cx="1116.0" cy="579.0" r="3.3"/></g>
<g fill="#7c3a64" opacity="0.64"><circle cx="612.0" cy="-31.0" r="3.2"/><circle cx="684.0" cy="-31.0" r="3.2"/><circle cx="756.0" cy="-31.0" r="3.2"/><circle cx="828.0" cy="-31.0" r="3.2"/><circle cx="900.0" cy="-31.0" r="3.2"/><circle cx="972.0" cy="-31.0" r="3.2"/><circle cx="1044.0" cy="-31.0" r="3.2"/><circle cx="1116.0" cy="-31.0" r="3.2"/><circle cx="632.0" cy="32.0" r="3.2"/><circle cx="704.0" cy="32.0" r="3.2"/><circle cx="776.0" cy="32.0" r="3.2"/><circle cx="848.0" cy="32.0" r="3.2"/><circle cx="920.0" cy="32.0" r="3.2"/><circle cx="992.0" cy="32.0" r="3.2"/><circle cx="1064.0" cy="32.0" r="3.2"/><circle cx="612.0" cy="95.0" r="3.2"/><circle cx="684.0" cy="95.0" r="3.2"/><circle cx="756.0" cy="95.0" r="3.2"/><circle cx="828.0" cy="95.0" r="3.2"/><circle cx="900.0" cy="95.0" r="3.2"/><circle cx="972.0" cy="95.0" r="3.2"/><circle cx="1044.0" cy="95.0" r="3.2"/><circle cx="1116.0" cy="95.0" r="3.2"/><circle cx="632.0" cy="158.0" r="3.2"/><circle cx="704.0" cy="158.0" r="3.2"/><circle cx="776.0" cy="158.0" r="3.2"/><circle cx="848.0" cy="158.0" r="3.2"/><circle cx="920.0" cy="158.0" r="3.2"/><circle cx="992.0" cy="158.0" r="3.2"/><circle cx="1064.0" cy="158.0" r="3.2"/><circle cx="612.0" cy="221.0" r="3.2"/><circle cx="684.0" cy="221.0" r="3.2"/><circle cx="756.0" cy="221.0" r="3.2"/><circle cx="828.0" cy="221.0" r="3.2"/><circle cx="900.0" cy="221.0" r="3.2"/><circle cx="972.0" cy="221.0" r="3.2"/><circle cx="1044.0" cy="221.0" r="3.2"/><circle cx="1116.0" cy="221.0" r="3.2"/><circle cx="632.0" cy="284.0" r="3.2"/><circle cx="704.0" cy="284.0" r="3.2"/><circle cx="776.0" cy="284.0" r="3.2"/><circle cx="848.0" cy="284.0" r="3.2"/><circle cx="920.0" cy="284.0" r="3.2"/><circle cx="992.0" cy="284.0" r="3.2"/><circle cx="1064.0" cy="284.0" r="3.2"/><circle cx="612.0" cy="347.0" r="3.2"/><circle cx="684.0" cy="347.0" r="3.2"/><circle cx="756.0" cy="347.0" r="3.2"/><circle cx="828.0" cy="347.0" r="3.2"/><circle cx="900.0" cy="347.0" r="3.2"/><circle cx="972.0" cy="347.0" r="3.2"/><circle cx="1044.0" cy="347.0" r="3.2"/><circle cx="1116.0" cy="347.0" r="3.2"/><circle cx="632.0" cy="410.0" r="3.2"/><circle cx="704.0" cy="410.0" r="3.2"/><circle cx="776.0" cy="410.0" r="3.2"/><circle cx="848.0" cy="410.0" r="3.2"/><circle cx="920.0" cy="410.0" r="3.2"/><circle cx="992.0" cy="410.0" r="3.2"/><circle cx="1064.0" cy="410.0" r="3.2"/><circle cx="612.0" cy="473.0" r="3.2"/><circle cx="684.0" cy="473.0" r="3.2"/><circle cx="756.0" cy="473.0" r="3.2"/><circle cx="828.0" cy="473.0" r="3.2"/><circle cx="900.0" cy="473.0" r="3.2"/><circle cx="972.0" cy="473.0" r="3.2"/><circle cx="1044.0" cy="473.0" r="3.2"/><circle cx="1116.0" cy="473.0" r="3.2"/><circle cx="632.0" cy="536.0" r="3.2"/><circle cx="704.0" cy="536.0" r="3.2"/><circle cx="776.0" cy="536.0" r="3.2"/><circle cx="848.0" cy="536.0" r="3.2"/><circle cx="920.0" cy="536.0" r="3.2"/><circle cx="992.0" cy="536.0" r="3.2"/><circle cx="1064.0" cy="536.0" r="3.2"/><circle cx="612.0" cy="599.0" r="3.2"/><circle cx="684.0" cy="599.0" r="3.2"/><circle cx="756.0" cy="599.0" r="3.2"/><circle cx="828.0" cy="599.0" r="3.2"/><circle cx="900.0" cy="599.0" r="3.2"/><circle cx="972.0" cy="599.0" r="3.2"/><circle cx="1044.0" cy="599.0" r="3.2"/><circle cx="1116.0" cy="599.0" r="3.2"/></g>
<g fill="#b0b0b0" opacity="0.52"><circle cx="593.0" cy="-21.0" r="2.3"/><circle cx="632.0" cy="-19.0" r="2.3"/><circle cx="595.0" cy="-85.0" r="2.3"/><circle cx="629.0" cy="-85.0" r="2.3"/><circle cx="612.0" cy="-5.0" r="2.3"/><circle cx="665.0" cy="-21.0" r="2.3"/><circle cx="704.0" cy="-19.0" r="2.3"/><circle cx="667.0" cy="-85.0" r="2.3"/><circle cx="701.0" cy="-85.0" r="2.3"/><circle cx="684.0" cy="-5.0" r="2.3"/><circle cx="737.0" cy="-21.0" r="2.3"/><circle cx="776.0" cy="-19.0" r="2.3"/><circle cx="739.0" cy="-85.0" r="2.3"/><circle cx="773.0" cy="-85.0" r="2.3"/><circle cx="756.0" cy="-5.0" r="2.3"/><circle cx="809.0" cy="-21.0" r="2.3"/><circle cx="848.0" cy="-19.0" r="2.3"/><circle cx="811.0" cy="-85.0" r="2.3"/><circle cx="845.0" cy="-85.0" r="2.3"/><circle cx="828.0" cy="-5.0" r="2.3"/><circle cx="881.0" cy="-21.0" r="2.3"/><circle cx="920.0" cy="-19.0" r="2.3"/><circle cx="883.0" cy="-85.0" r="2.3"/><circle cx="917.0" cy="-85.0" r="2.3"/><circle cx="900.0" cy="-5.0" r="2.3"/><circle cx="953.0" cy="-21.0" r="2.3"/><circle cx="992.0" cy="-19.0" r="2.3"/><circle cx="955.0" cy="-85.0" r="2.3"/><circle cx="989.0" cy="-85.0" r="2.3"/><circle cx="972.0" cy="-5.0" r="2.3"/><circle cx="1025.0" cy="-21.0" r="2.3"/><circle cx="1064.0" cy="-19.0" r="2.3"/><circle cx="1027.0" cy="-85.0" r="2.3"/><circle cx="1061.0" cy="-85.0" r="2.3"/><circle cx="1044.0" cy="-5.0" r="2.3"/><circle cx="1097.0" cy="-21.0" r="2.3"/><circle cx="1136.0" cy="-19.0" r="2.3"/><circle cx="1099.0" cy="-85.0" r="2.3"/><circle cx="1133.0" cy="-85.0" r="2.3"/><circle cx="1116.0" cy="-5.0" r="2.3"/><circle cx="613.0" cy="42.0" r="2.3"/><circle cx="652.0" cy="44.0" r="2.3"/><circle cx="615.0" cy="-22.0" r="2.3"/><circle cx="649.0" cy="-22.0" r="2.3"/><circle cx="632.0" cy="58.0" r="2.3"/><circle cx="685.0" cy="42.0" r="2.3"/><circle cx="724.0" cy="44.0" r="2.3"/><circle cx="687.0" cy="-22.0" r="2.3"/><circle cx="721.0" cy="-22.0" r="2.3"/><circle cx="704.0" cy="58.0" r="2.3"/><circle cx="757.0" cy="42.0" r="2.3"/><circle cx="796.0" cy="44.0" r="2.3"/><circle cx="759.0" cy="-22.0" r="2.3"/><circle cx="793.0" cy="-22.0" r="2.3"/><circle cx="776.0" cy="58.0" r="2.3"/><circle cx="829.0" cy="42.0" r="2.3"/><circle cx="868.0" cy="44.0" r="2.3"/><circle cx="831.0" cy="-22.0" r="2.3"/><circle cx="865.0" cy="-22.0" r="2.3"/><circle cx="848.0" cy="58.0" r="2.3"/><circle cx="901.0" cy="42.0" r="2.3"/><circle cx="940.0" cy="44.0" r="2.3"/><circle cx="903.0" cy="-22.0" r="2.3"/><circle cx="937.0" cy="-22.0" r="2.3"/><circle cx="920.0" cy="58.0" r="2.3"/><circle cx="973.0" cy="42.0" r="2.3"/><circle cx="1012.0" cy="44.0" r="2.3"/><circle cx="975.0" cy="-22.0" r="2.3"/><circle cx="1009.0" cy="-22.0" r="2.3"/><circle cx="992.0" cy="58.0" r="2.3"/><circle cx="1045.0" cy="42.0" r="2.3"/><circle cx="1084.0" cy="44.0" r="2.3"/><circle cx="1047.0" cy="-22.0" r="2.3"/><circle cx="1081.0" cy="-22.0" r="2.3"/><circle cx="1064.0" cy="58.0" r="2.3"/><circle cx="593.0" cy="105.0" r="2.3"/><circle cx="632.0" cy="107.0" r="2.3"/><circle cx="595.0" cy="41.0" r="2.3"/><circle cx="629.0" cy="41.0" r="2.3"/><circle cx="612.0" cy="121.0" r="2.3"/><circle cx="665.0" cy="105.0" r="2.3"/><circle cx="704.0" cy="107.0" r="2.3"/><circle cx="667.0" cy="41.0" r="2.3"/><circle cx="701.0" cy="41.0" r="2.3"/><circle cx="684.0" cy="121.0" r="2.3"/><circle cx="737.0" cy="105.0" r="2.3"/><circle cx="776.0" cy="107.0" r="2.3"/><circle cx="739.0" cy="41.0" r="2.3"/><circle cx="773.0" cy="41.0" r="2.3"/><circle cx="756.0" cy="121.0" r="2.3"/><circle cx="809.0" cy="105.0" r="2.3"/><circle cx="848.0" cy="107.0" r="2.3"/><circle cx="811.0" cy="41.0" r="2.3"/><circle cx="845.0" cy="41.0" r="2.3"/><circle cx="828.0" cy="121.0" r="2.3"/><circle cx="881.0" cy="105.0" r="2.3"/><circle cx="920.0" cy="107.0" r="2.3"/><circle cx="883.0" cy="41.0" r="2.3"/><circle cx="917.0" cy="41.0" r="2.3"/><circle cx="900.0" cy="121.0" r="2.3"/><circle cx="953.0" cy="105.0" r="2.3"/><circle cx="992.0" cy="107.0" r="2.3"/><circle cx="955.0" cy="41.0" r="2.3"/><circle cx="989.0" cy="41.0" r="2.3"/><circle cx="972.0" cy="121.0" r="2.3"/><circle cx="1025.0" cy="105.0" r="2.3"/><circle cx="1064.0" cy="107.0" r="2.3"/><circle cx="1027.0" cy="41.0" r="2.3"/><circle cx="1061.0" cy="41.0" r="2.3"/><circle cx="1044.0" cy="121.0" r="2.3"/><circle cx="1097.0" cy="105.0" r="2.3"/><circle cx="1136.0" cy="107.0" r="2.3"/><circle cx="1099.0" cy="41.0" r="2.3"/><circle cx="1133.0" cy="41.0" r="2.3"/><circle cx="1116.0" cy="121.0" r="2.3"/><circle cx="613.0" cy="168.0" r="2.3"/><circle cx="652.0" cy="170.0" r="2.3"/><circle cx="615.0" cy="104.0" r="2.3"/><circle cx="649.0" cy="104.0" r="2.3"/><circle cx="632.0" cy="184.0" r="2.3"/><circle cx="685.0" cy="168.0" r="2.3"/><circle cx="724.0" cy="170.0" r="2.3"/><circle cx="687.0" cy="104.0" r="2.3"/><circle cx="721.0" cy="104.0" r="2.3"/><circle cx="704.0" cy="184.0" r="2.3"/><circle cx="757.0" cy="168.0" r="2.3"/><circle cx="796.0" cy="170.0" r="2.3"/><circle cx="759.0" cy="104.0" r="2.3"/><circle cx="793.0" cy="104.0" r="2.3"/><circle cx="776.0" cy="184.0" r="2.3"/><circle cx="829.0" cy="168.0" r="2.3"/><circle cx="868.0" cy="170.0" r="2.3"/><circle cx="831.0" cy="104.0" r="2.3"/><circle cx="865.0" cy="104.0" r="2.3"/><circle cx="848.0" cy="184.0" r="2.3"/><circle cx="901.0" cy="168.0" r="2.3"/><circle cx="940.0" cy="170.0" r="2.3"/><circle cx="903.0" cy="104.0" r="2.3"/><circle cx="937.0" cy="104.0" r="2.3"/><circle cx="920.0" cy="184.0" r="2.3"/><circle cx="973.0" cy="168.0" r="2.3"/><circle cx="1012.0" cy="170.0" r="2.3"/><circle cx="975.0" cy="104.0" r="2.3"/><circle cx="1009.0" cy="104.0" r="2.3"/><circle cx="992.0" cy="184.0" r="2.3"/><circle cx="1045.0" cy="168.0" r="2.3"/><circle cx="1084.0" cy="170.0" r="2.3"/><circle cx="1047.0" cy="104.0" r="2.3"/><circle cx="1081.0" cy="104.0" r="2.3"/><circle cx="1064.0" cy="184.0" r="2.3"/><circle cx="593.0" cy="231.0" r="2.3"/><circle cx="632.0" cy="233.0" r="2.3"/><circle cx="595.0" cy="167.0" r="2.3"/><circle cx="629.0" cy="167.0" r="2.3"/><circle cx="612.0" cy="247.0" r="2.3"/><circle cx="665.0" cy="231.0" r="2.3"/><circle cx="704.0" cy="233.0" r="2.3"/><circle cx="667.0" cy="167.0" r="2.3"/><circle cx="701.0" cy="167.0" r="2.3"/><circle cx="684.0" cy="247.0" r="2.3"/><circle cx="737.0" cy="231.0" r="2.3"/><circle cx="776.0" cy="233.0" r="2.3"/><circle cx="739.0" cy="167.0" r="2.3"/><circle cx="773.0" cy="167.0" r="2.3"/><circle cx="756.0" cy="247.0" r="2.3"/><circle cx="809.0" cy="231.0" r="2.3"/><circle cx="848.0" cy="233.0" r="2.3"/><circle cx="811.0" cy="167.0" r="2.3"/><circle cx="845.0" cy="167.0" r="2.3"/><circle cx="828.0" cy="247.0" r="2.3"/><circle cx="881.0" cy="231.0" r="2.3"/><circle cx="920.0" cy="233.0" r="2.3"/><circle cx="883.0" cy="167.0" r="2.3"/><circle cx="917.0" cy="167.0" r="2.3"/><circle cx="900.0" cy="247.0" r="2.3"/><circle cx="953.0" cy="231.0" r="2.3"/><circle cx="992.0" cy="233.0" r="2.3"/><circle cx="955.0" cy="167.0" r="2.3"/><circle cx="989.0" cy="167.0" r="2.3"/><circle cx="972.0" cy="247.0" r="2.3"/><circle cx="1025.0" cy="231.0" r="2.3"/><circle cx="1064.0" cy="233.0" r="2.3"/><circle cx="1027.0" cy="167.0" r="2.3"/><circle cx="1061.0" cy="167.0" r="2.3"/><circle cx="1044.0" cy="247.0" r="2.3"/><circle cx="1097.0" cy="231.0" r="2.3"/><circle cx="1136.0" cy="233.0" r="2.3"/><circle cx="1099.0" cy="167.0" r="2.3"/><circle cx="1133.0" cy="167.0" r="2.3"/><circle cx="1116.0" cy="247.0" r="2.3"/><circle cx="613.0" cy="294.0" r="2.3"/><circle cx="652.0" cy="296.0" r="2.3"/><circle cx="615.0" cy="230.0" r="2.3"/><circle cx="649.0" cy="230.0" r="2.3"/><circle cx="632.0" cy="310.0" r="2.3"/><circle cx="685.0" cy="294.0" r="2.3"/><circle cx="724.0" cy="296.0" r="2.3"/><circle cx="687.0" cy="230.0" r="2.3"/><circle cx="721.0" cy="230.0" r="2.3"/><circle cx="704.0" cy="310.0" r="2.3"/><circle cx="757.0" cy="294.0" r="2.3"/><circle cx="796.0" cy="296.0" r="2.3"/><circle cx="759.0" cy="230.0" r="2.3"/><circle cx="793.0" cy="230.0" r="2.3"/><circle cx="776.0" cy="310.0" r="2.3"/><circle cx="829.0" cy="294.0" r="2.3"/><circle cx="868.0" cy="296.0" r="2.3"/><circle cx="831.0" cy="230.0" r="2.3"/><circle cx="865.0" cy="230.0" r="2.3"/><circle cx="848.0" cy="310.0" r="2.3"/><circle cx="901.0" cy="294.0" r="2.3"/><circle cx="940.0" cy="296.0" r="2.3"/><circle cx="903.0" cy="230.0" r="2.3"/><circle cx="937.0" cy="230.0" r="2.3"/><circle cx="920.0" cy="310.0" r="2.3"/><circle cx="973.0" cy="294.0" r="2.3"/><circle cx="1012.0" cy="296.0" r="2.3"/><circle cx="975.0" cy="230.0" r="2.3"/><circle cx="1009.0" cy="230.0" r="2.3"/><circle cx="992.0" cy="310.0" r="2.3"/><circle cx="1045.0" cy="294.0" r="2.3"/><circle cx="1084.0" cy="296.0" r="2.3"/><circle cx="1047.0" cy="230.0" r="2.3"/><circle cx="1081.0" cy="230.0" r="2.3"/><circle cx="1064.0" cy="310.0" r="2.3"/><circle cx="593.0" cy="357.0" r="2.3"/><circle cx="632.0" cy="359.0" r="2.3"/><circle cx="595.0" cy="293.0" r="2.3"/><circle cx="629.0" cy="293.0" r="2.3"/><circle cx="612.0" cy="373.0" r="2.3"/><circle cx="665.0" cy="357.0" r="2.3"/><circle cx="704.0" cy="359.0" r="2.3"/><circle cx="667.0" cy="293.0" r="2.3"/><circle cx="701.0" cy="293.0" r="2.3"/><circle cx="684.0" cy="373.0" r="2.3"/><circle cx="737.0" cy="357.0" r="2.3"/><circle cx="776.0" cy="359.0" r="2.3"/><circle cx="739.0" cy="293.0" r="2.3"/><circle cx="773.0" cy="293.0" r="2.3"/><circle cx="756.0" cy="373.0" r="2.3"/><circle cx="809.0" cy="357.0" r="2.3"/><circle cx="848.0" cy="359.0" r="2.3"/><circle cx="811.0" cy="293.0" r="2.3"/><circle cx="845.0" cy="293.0" r="2.3"/><circle cx="828.0" cy="373.0" r="2.3"/><circle cx="881.0" cy="357.0" r="2.3"/><circle cx="920.0" cy="359.0" r="2.3"/><circle cx="883.0" cy="293.0" r="2.3"/><circle cx="917.0" cy="293.0" r="2.3"/><circle cx="900.0" cy="373.0" r="2.3"/><circle cx="953.0" cy="357.0" r="2.3"/><circle cx="992.0" cy="359.0" r="2.3"/><circle cx="955.0" cy="293.0" r="2.3"/><circle cx="989.0" cy="293.0" r="2.3"/><circle cx="972.0" cy="373.0" r="2.3"/><circle cx="1025.0" cy="357.0" r="2.3"/><circle cx="1064.0" cy="359.0" r="2.3"/><circle cx="1027.0" cy="293.0" r="2.3"/><circle cx="1061.0" cy="293.0" r="2.3"/><circle cx="1044.0" cy="373.0" r="2.3"/><circle cx="1097.0" cy="357.0" r="2.3"/><circle cx="1136.0" cy="359.0" r="2.3"/><circle cx="1099.0" cy="293.0" r="2.3"/><circle cx="1133.0" cy="293.0" r="2.3"/><circle cx="1116.0" cy="373.0" r="2.3"/><circle cx="613.0" cy="420.0" r="2.3"/><circle cx="652.0" cy="422.0" r="2.3"/><circle cx="615.0" cy="356.0" r="2.3"/><circle cx="649.0" cy="356.0" r="2.3"/><circle cx="632.0" cy="436.0" r="2.3"/><circle cx="685.0" cy="420.0" r="2.3"/><circle cx="724.0" cy="422.0" r="2.3"/><circle cx="687.0" cy="356.0" r="2.3"/><circle cx="721.0" cy="356.0" r="2.3"/><circle cx="704.0" cy="436.0" r="2.3"/><circle cx="757.0" cy="420.0" r="2.3"/><circle cx="796.0" cy="422.0" r="2.3"/><circle cx="759.0" cy="356.0" r="2.3"/><circle cx="793.0" cy="356.0" r="2.3"/><circle cx="776.0" cy="436.0" r="2.3"/><circle cx="829.0" cy="420.0" r="2.3"/><circle cx="868.0" cy="422.0" r="2.3"/><circle cx="831.0" cy="356.0" r="2.3"/><circle cx="865.0" cy="356.0" r="2.3"/><circle cx="848.0" cy="436.0" r="2.3"/><circle cx="901.0" cy="420.0" r="2.3"/><circle cx="940.0" cy="422.0" r="2.3"/><circle cx="903.0" cy="356.0" r="2.3"/><circle cx="937.0" cy="356.0" r="2.3"/><circle cx="920.0" cy="436.0" r="2.3"/><circle cx="973.0" cy="420.0" r="2.3"/><circle cx="1012.0" cy="422.0" r="2.3"/><circle cx="975.0" cy="356.0" r="2.3"/><circle cx="1009.0" cy="356.0" r="2.3"/><circle cx="992.0" cy="436.0" r="2.3"/><circle cx="1045.0" cy="420.0" r="2.3"/><circle cx="1084.0" cy="422.0" r="2.3"/><circle cx="1047.0" cy="356.0" r="2.3"/><circle cx="1081.0" cy="356.0" r="2.3"/><circle cx="1064.0" cy="436.0" r="2.3"/><circle cx="593.0" cy="483.0" r="2.3"/><circle cx="632.0" cy="485.0" r="2.3"/><circle cx="595.0" cy="419.0" r="2.3"/><circle cx="629.0" cy="419.0" r="2.3"/><circle cx="612.0" cy="499.0" r="2.3"/><circle cx="665.0" cy="483.0" r="2.3"/><circle cx="704.0" cy="485.0" r="2.3"/><circle cx="667.0" cy="419.0" r="2.3"/><circle cx="701.0" cy="419.0" r="2.3"/><circle cx="684.0" cy="499.0" r="2.3"/><circle cx="737.0" cy="483.0" r="2.3"/><circle cx="776.0" cy="485.0" r="2.3"/><circle cx="739.0" cy="419.0" r="2.3"/><circle cx="773.0" cy="419.0" r="2.3"/><circle cx="756.0" cy="499.0" r="2.3"/><circle cx="809.0" cy="483.0" r="2.3"/><circle cx="848.0" cy="485.0" r="2.3"/><circle cx="811.0" cy="419.0" r="2.3"/><circle cx="845.0" cy="419.0" r="2.3"/><circle cx="828.0" cy="499.0" r="2.3"/><circle cx="881.0" cy="483.0" r="2.3"/><circle cx="920.0" cy="485.0" r="2.3"/><circle cx="883.0" cy="419.0" r="2.3"/><circle cx="917.0" cy="419.0" r="2.3"/><circle cx="900.0" cy="499.0" r="2.3"/><circle cx="953.0" cy="483.0" r="2.3"/><circle cx="992.0" cy="485.0" r="2.3"/><circle cx="955.0" cy="419.0" r="2.3"/><circle cx="989.0" cy="419.0" r="2.3"/><circle cx="972.0" cy="499.0" r="2.3"/><circle cx="1025.0" cy="483.0" r="2.3"/><circle cx="1064.0" cy="485.0" r="2.3"/><circle cx="1027.0" cy="419.0" r="2.3"/><circle cx="1061.0" cy="419.0" r="2.3"/><circle cx="1044.0" cy="499.0" r="2.3"/><circle cx="1097.0" cy="483.0" r="2.3"/><circle cx="1136.0" cy="485.0" r="2.3"/><circle cx="1099.0" cy="419.0" r="2.3"/><circle cx="1133.0" cy="419.0" r="2.3"/><circle cx="1116.0" cy="499.0" r="2.3"/><circle cx="613.0" cy="546.0" r="2.3"/><circle cx="652.0" cy="548.0" r="2.3"/><circle cx="615.0" cy="482.0" r="2.3"/><circle cx="649.0" cy="482.0" r="2.3"/><circle cx="632.0" cy="562.0" r="2.3"/><circle cx="685.0" cy="546.0" r="2.3"/><circle cx="724.0" cy="548.0" r="2.3"/><circle cx="687.0" cy="482.0" r="2.3"/><circle cx="721.0" cy="482.0" r="2.3"/><circle cx="704.0" cy="562.0" r="2.3"/><circle cx="757.0" cy="546.0" r="2.3"/><circle cx="796.0" cy="548.0" r="2.3"/><circle cx="759.0" cy="482.0" r="2.3"/><circle cx="793.0" cy="482.0" r="2.3"/><circle cx="776.0" cy="562.0" r="2.3"/><circle cx="829.0" cy="546.0" r="2.3"/><circle cx="868.0" cy="548.0" r="2.3"/><circle cx="831.0" cy="482.0" r="2.3"/><circle cx="865.0" cy="482.0" r="2.3"/><circle cx="848.0" cy="562.0" r="2.3"/><circle cx="901.0" cy="546.0" r="2.3"/><circle cx="940.0" cy="548.0" r="2.3"/><circle cx="903.0" cy="482.0" r="2.3"/><circle cx="937.0" cy="482.0" r="2.3"/><circle cx="920.0" cy="562.0" r="2.3"/><circle cx="973.0" cy="546.0" r="2.3"/><circle cx="1012.0" cy="548.0" r="2.3"/><circle cx="975.0" cy="482.0" r="2.3"/><circle cx="1009.0" cy="482.0" r="2.3"/><circle cx="992.0" cy="562.0" r="2.3"/><circle cx="1045.0" cy="546.0" r="2.3"/><circle cx="1084.0" cy="548.0" r="2.3"/><circle cx="1047.0" cy="482.0" r="2.3"/><circle cx="1081.0" cy="482.0" r="2.3"/><circle cx="1064.0" cy="562.0" r="2.3"/><circle cx="593.0" cy="609.0" r="2.3"/><circle cx="632.0" cy="611.0" r="2.3"/><circle cx="595.0" cy="545.0" r="2.3"/><circle cx="629.0" cy="545.0" r="2.3"/><circle cx="612.0" cy="625.0" r="2.3"/><circle cx="665.0" cy="609.0" r="2.3"/><circle cx="704.0" cy="611.0" r="2.3"/><circle cx="667.0" cy="545.0" r="2.3"/><circle cx="701.0" cy="545.0" r="2.3"/><circle cx="684.0" cy="625.0" r="2.3"/><circle cx="737.0" cy="609.0" r="2.3"/><circle cx="776.0" cy="611.0" r="2.3"/><circle cx="739.0" cy="545.0" r="2.3"/><circle cx="773.0" cy="545.0" r="2.3"/><circle cx="756.0" cy="625.0" r="2.3"/><circle cx="809.0" cy="609.0" r="2.3"/><circle cx="848.0" cy="611.0" r="2.3"/><circle cx="811.0" cy="545.0" r="2.3"/><circle cx="845.0" cy="545.0" r="2.3"/><circle cx="828.0" cy="625.0" r="2.3"/><circle cx="881.0" cy="609.0" r="2.3"/><circle cx="920.0" cy="611.0" r="2.3"/><circle cx="883.0" cy="545.0" r="2.3"/><circle cx="917.0" cy="545.0" r="2.3"/><circle cx="900.0" cy="625.0" r="2.3"/><circle cx="953.0" cy="609.0" r="2.3"/><circle cx="992.0" cy="611.0" r="2.3"/><circle cx="955.0" cy="545.0" r="2.3"/><circle cx="989.0" cy="545.0" r="2.3"/><circle cx="972.0" cy="625.0" r="2.3"/><circle cx="1025.0" cy="609.0" r="2.3"/><circle cx="1064.0" cy="611.0" r="2.3"/><circle cx="1027.0" cy="545.0" r="2.3"/><circle cx="1061.0" cy="545.0" r="2.3"/><circle cx="1044.0" cy="625.0" r="2.3"/><circle cx="1097.0" cy="609.0" r="2.3"/><circle cx="1136.0" cy="611.0" r="2.3"/><circle cx="1099.0" cy="545.0" r="2.3"/><circle cx="1133.0" cy="545.0" r="2.3"/><circle cx="1116.0" cy="625.0" r="2.3"/></g>
</g>
<defs><radialGradient id="navy" cx="0.5" cy="0.5" r="0.5"><stop offset="0" stop-color="#0c1230" stop-opacity="0.92"/><stop offset="0.65" stop-color="#0c1230" stop-opacity="0.75"/><stop offset="1" stop-color="#0c1230" stop-opacity="0"/></radialGradient></defs>
<ellipse cx="864" cy="330" rx="140" ry="170" fill="url(#navy)"/>
<rect x="806" y="20" width="122" height="125" fill="url(#beam)"/>
<rect x="812" y="500" width="110" height="90" fill="url(#beam)"/>
<ellipse cx="864" cy="318" rx="120" ry="26" fill="url(#oglow)"/>
<g mask="url(#lmask)">
<path d="M848.4 205.0L848.3 209.0L848.3 213.0L848.2 217.0L848.0 221.0L847.9 225.0L847.7 229.0L847.4 233.0L847.0 237.0L846.6 241.0L846.1 245.0L845.5 249.0L844.8 253.0L844.0 257.0L843.0 261.0L842.0 265.0L840.8 269.0L839.6 273.0L838.2 277.0L836.9 281.0L835.5 285.0L834.1 289.0L832.8 293.0L831.7 297.0L830.6 301.0L829.7 305.0L829.0 309.0L828.6 313.0L828.4 317.0L828.5 321.0L828.8 325.0L829.3 329.0L830.1 333.0L831.1 337.0L832.2 341.0L833.5 345.0L834.8 349.0L836.2 353.0L837.6 357.0L838.9 361.0L840.2 365.0L841.4 369.0L842.5 373.0L843.5 377.0L844.4 381.0L845.2 385.0L845.8 389.0L846.4 393.0L846.8 397.0L847.2 401.0L847.5 405.0L847.8 409.0L848.0 413.0L848.1 417.0L848.2 421.0L848.3 425.0L848.4 429.0L848.4 433.0L848.4 437.0L848.5 441.0L848.5 445.0L848.5 449.0L848.5 453.0L848.5 457.0L848.5 461.0L848.5 465.0L848.5 469.0L848.5 473.0L848.5 477.0M879.6 205.0L879.7 209.0L879.7 213.0L879.8 217.0L880.0 221.0L880.1 225.0L880.3 229.0L880.6 233.0L881.0 237.0L881.4 241.0L881.9 245.0L882.5 249.0L883.2 253.0L884.0 257.0L885.0 261.0L886.0 265.0L887.2 269.0L888.4 273.0L889.8 277.0L891.1 281.0L892.5 285.0L893.9 289.0L895.2 293.0L896.3 297.0L897.4 301.0L898.3 305.0L899.0 309.0L899.4 313.0L899.6 317.0L899.5 321.0L899.2 325.0L898.7 329.0L897.9 333.0L896.9 337.0L895.8 341.0L894.5 345.0L893.2 349.0L891.8 353.0L890.4 357.0L889.1 361.0L887.8 365.0L886.6 369.0L885.5 373.0L884.5 377.0L883.6 381.0L882.8 385.0L882.2 389.0L881.6 393.0L881.2 397.0L880.8 401.0L880.5 405.0L880.2 409.0L880.0 413.0L879.9 417.0L879.8 421.0L879.7 425.0L879.6 429.0L879.6 433.0L879.6 437.0L879.5 441.0L879.5 445.0L879.5 449.0L879.5 453.0L879.5 457.0L879.5 461.0L879.5 465.0L879.5 469.0L879.5 473.0L879.5 477.0M835.9 205.0L835.9 209.0L835.8 213.0L835.8 217.0L835.7 221.0L835.6 225.0L835.4 229.0L835.2 233.0L835.0 237.0L834.7 241.0L834.3 245.0L833.9 249.0L833.4 253.0L832.8 257.0L832.2 261.0L831.4 265.0L830.6 269.0L829.8 273.0L828.9 277.0L827.9 281.0L826.9 285.0L826.0 289.0L825.1 293.0L824.3 297.0L823.5 301.0L822.9 305.0L822.4 309.0L822.1 313.0L822.0 317.0L822.1 321.0L822.3 325.0L822.7 329.0L823.2 333.0L823.9 337.0L824.7 341.0L825.5 345.0L826.5 349.0L827.4 353.0L828.4 357.0L829.3 361.0L830.2 365.0L831.1 369.0L831.8 373.0L832.5 377.0L833.1 381.0L833.7 385.0L834.1 389.0L834.5 393.0L834.8 397.0L835.1 401.0L835.3 405.0L835.5 409.0L835.6 413.0L835.7 417.0L835.8 421.0L835.9 425.0L835.9 429.0L835.9 433.0L836.0 437.0L836.0 441.0L836.0 445.0L836.0 449.0L836.0 453.0L836.0 457.0L836.0 461.0L836.0 465.0L836.0 469.0L836.0 473.0L836.0 477.0M892.1 205.0L892.1 209.0L892.2 213.0L892.2 217.0L892.3 221.0L892.4 225.0L892.6 229.0L892.8 233.0L893.0 237.0L893.3 241.0L893.7 245.0L894.1 249.0L894.6 253.0L895.2 257.0L895.8 261.0L896.6 265.0L897.4 269.0L898.2 273.0L899.1 277.0L900.1 281.0L901.1 285.0L902.0 289.0L902.9 293.0L903.7 297.0L904.5 301.0L905.1 305.0L905.6 309.0L905.9 313.0L906.0 317.0L905.9 321.0L905.7 325.0L905.3 329.0L904.8 333.0L904.1 337.0L903.3 341.0L902.5 345.0L901.5 349.0L900.6 353.0L899.6 357.0L898.7 361.0L897.8 365.0L896.9 369.0L896.2 373.0L895.5 377.0L894.9 381.0L894.3 385.0L893.9 389.0L893.5 393.0L893.2 397.0L892.9 401.0L892.7 405.0L892.5 409.0L892.4 413.0L892.3 417.0L892.2 421.0L892.1 425.0L892.1 429.0L892.1 433.0L892.0 437.0L892.0 441.0L892.0 445.0L892.0 449.0L892.0 453.0L892.0 457.0L892.0 461.0L892.0 465.0L892.0 469.0L892.0 473.0L892.0 477.0M823.9 205.0L823.9 209.0L823.9 213.0L823.8 217.0L823.7 221.0L823.6 225.0L823.5 229.0L823.3 233.0L823.1 237.0L822.9 241.0L822.6 245.0L822.2 249.0L821.8 253.0L821.3 257.0L820.7 261.0L820.1 265.0L819.4 269.0L818.7 273.0L817.9 277.0L817.1 281.0L816.2 285.0L815.4 289.0L814.7 293.0L813.9 297.0L813.3 301.0L812.8 305.0L812.4 309.0L812.1 313.0L812.0 317.0L812.0 321.0L812.2 325.0L812.6 329.0L813.0 333.0L813.6 337.0L814.3 341.0L815.0 345.0L815.8 349.0L816.6 353.0L817.5 357.0L818.3 361.0L819.0 365.0L819.8 369.0L820.4 373.0L821.0 377.0L821.5 381.0L822.0 385.0L822.4 389.0L822.7 393.0L823.0 397.0L823.2 401.0L823.4 405.0L823.6 409.0L823.7 413.0L823.8 417.0L823.8 421.0L823.9 425.0L823.9 429.0L823.9 433.0L824.0 437.0L824.0 441.0L824.0 445.0L824.0 449.0L824.0 453.0L824.0 457.0L824.0 461.0L824.0 465.0L824.0 469.0L824.0 473.0L824.0 477.0M904.1 205.0L904.1 209.0L904.1 213.0L904.2 217.0L904.3 221.0L904.4 225.0L904.5 229.0L904.7 233.0L904.9 237.0L905.1 241.0L905.4 245.0L905.8 249.0L906.2 253.0L906.7 257.0L907.3 261.0L907.9 265.0L908.6 269.0L909.3 273.0L910.1 277.0L910.9 281.0L911.8 285.0L912.6 289.0L913.3 293.0L914.1 297.0L914.7 301.0L915.2 305.0L915.6 309.0L915.9 313.0L916.0 317.0L916.0 321.0L915.8 325.0L915.4 329.0L915.0 333.0L914.4 337.0L913.7 341.0L913.0 345.0L912.2 349.0L911.4 353.0L910.5 357.0L909.7 361.0L909.0 365.0L908.2 369.0L907.6 373.0L907.0 377.0L906.5 381.0L906.0 385.0L905.6 389.0L905.3 393.0L905.0 397.0L904.8 401.0L904.6 405.0L904.4 409.0L904.3 413.0L904.2 417.0L904.2 421.0L904.1 425.0L904.1 429.0L904.1 433.0L904.0 437.0L904.0 441.0L904.0 445.0L904.0 449.0L904.0 453.0L904.0 457.0L904.0 461.0L904.0 465.0L904.0 469.0L904.0 473.0L904.0 477.0M811.0 205.0L810.9 209.0L810.9 213.0L810.9 217.0L810.8 221.0L810.7 225.0L810.7 229.0L810.6 233.0L810.4 237.0L810.3 241.0L810.1 245.0L809.8 249.0L809.5 253.0L809.2 257.0L808.8 261.0L808.4 265.0L807.9 269.0L807.4 273.0L806.9 277.0L806.4 281.0L805.8 285.0L805.3 289.0L804.8 293.0L804.3 297.0L803.9 301.0L803.5 305.0L803.3 309.0L803.1 313.0L803.0 317.0L803.0 321.0L803.2 325.0L803.4 329.0L803.7 333.0L804.1 337.0L804.5 341.0L805.0 345.0L805.6 349.0L806.1 353.0L806.6 357.0L807.2 361.0L807.7 365.0L808.2 369.0L808.6 373.0L809.0 377.0L809.4 381.0L809.7 385.0L809.9 389.0L810.2 393.0L810.3 397.0L810.5 401.0L810.6 405.0L810.7 409.0L810.8 413.0L810.8 417.0L810.9 421.0L810.9 425.0L810.9 429.0L811.0 433.0L811.0 437.0L811.0 441.0L811.0 445.0L811.0 449.0L811.0 453.0L811.0 457.0L811.0 461.0L811.0 465.0L811.0 469.0L811.0 473.0L811.0 477.0M917.0 205.0L917.1 209.0L917.1 213.0L917.1 217.0L917.2 221.0L917.3 225.0L917.3 229.0L917.4 233.0L917.6 237.0L917.7 241.0L917.9 245.0L918.2 249.0L918.5 253.0L918.8 257.0L919.2 261.0L919.6 265.0L920.1 269.0L920.6 273.0L921.1 277.0L921.6 281.0L922.2 285.0L922.7 289.0L923.2 293.0L923.7 297.0L924.1 301.0L924.5 305.0L924.7 309.0L924.9 313.0L925.0 317.0L925.0 321.0L924.8 325.0L924.6 329.0L924.3 333.0L923.9 337.0L923.5 341.0L923.0 345.0L922.4 349.0L921.9 353.0L921.4 357.0L920.8 361.0L920.3 365.0L919.8 369.0L919.4 373.0L919.0 377.0L918.6 381.0L918.3 385.0L918.1 389.0L917.8 393.0L917.7 397.0L917.5 401.0L917.4 405.0L917.3 409.0L917.2 413.0L917.2 417.0L917.1 421.0L917.1 425.0L917.1 429.0L917.0 433.0L917.0 437.0L917.0 441.0L917.0 445.0L917.0 449.0L917.0 453.0L917.0 457.0L917.0 461.0L917.0 465.0L917.0 469.0L917.0 473.0L917.0 477.0M800.0 205.0L799.9 209.0L799.9 213.0L799.9 217.0L799.8 221.0L799.8 225.0L799.7 229.0L799.6 233.0L799.5 237.0L799.4 241.0L799.2 245.0L799.0 249.0L798.8 253.0L798.5 257.0L798.2 261.0L797.9 265.0L797.5 269.0L797.1 273.0L796.7 277.0L796.2 281.0L795.8 285.0L795.4 289.0L794.9 293.0L794.6 297.0L794.2 301.0L793.9 305.0L793.7 309.0L793.6 313.0L793.5 317.0L793.5 321.0L793.6 325.0L793.8 329.0L794.1 333.0L794.4 337.0L794.7 341.0L795.1 345.0L795.6 349.0L796.0 353.0L796.5 357.0L796.9 361.0L797.3 365.0L797.7 369.0L798.1 373.0L798.4 377.0L798.7 381.0L798.9 385.0L799.1 389.0L799.3 393.0L799.5 397.0L799.6 401.0L799.7 405.0L799.8 409.0L799.8 413.0L799.9 417.0L799.9 421.0L799.9 425.0L800.0 429.0L800.0 433.0L800.0 437.0L800.0 441.0L800.0 445.0L800.0 449.0L800.0 453.0L800.0 457.0L800.0 461.0L800.0 465.0L800.0 469.0L800.0 473.0L800.0 477.0M928.0 205.0L928.1 209.0L928.1 213.0L928.1 217.0L928.2 221.0L928.2 225.0L928.3 229.0L928.4 233.0L928.5 237.0L928.6 241.0L928.8 245.0L929.0 249.0L929.2 253.0L929.5 257.0L929.8 261.0L930.1 265.0L930.5 269.0L930.9 273.0L931.3 277.0L931.8 281.0L932.2 285.0L932.6 289.0L933.1 293.0L933.4 297.0L933.8 301.0L934.1 305.0L934.3 309.0L934.4 313.0L934.5 317.0L934.5 321.0L934.4 325.0L934.2 329.0L933.9 333.0L933.6 337.0L933.3 341.0L932.9 345.0L932.4 349.0L932.0 353.0L931.5 357.0L931.1 361.0L930.7 365.0L930.3 369.0L929.9 373.0L929.6 377.0L929.3 381.0L929.1 385.0L928.9 389.0L928.7 393.0L928.5 397.0L928.4 401.0L928.3 405.0L928.2 409.0L928.2 413.0L928.1 417.0L928.1 421.0L928.1 425.0L928.0 429.0L928.0 433.0L928.0 437.0L928.0 441.0L928.0 445.0L928.0 449.0L928.0 453.0L928.0 457.0L928.0 461.0L928.0 465.0L928.0 469.0L928.0 473.0L928.0 477.0M787.0 205.0L787.0 209.0L787.0 213.0L786.9 217.0L786.9 221.0L786.9 225.0L786.9 229.0L786.8 233.0L786.8 237.0L786.7 241.0L786.6 245.0L786.6 249.0L786.4 253.0L786.3 257.0L786.2 261.0L786.0 265.0L785.9 269.0L785.7 273.0L785.5 277.0L785.3 281.0L785.1 285.0L784.9 289.0L784.7 293.0L784.5 297.0L784.3 301.0L784.2 305.0L784.1 309.0L784.0 313.0L784.0 317.0L784.0 321.0L784.1 325.0L784.1 329.0L784.3 333.0L784.4 337.0L784.6 341.0L784.8 345.0L785.0 349.0L785.2 353.0L785.4 357.0L785.6 361.0L785.8 365.0L785.9 369.0L786.1 373.0L786.3 377.0L786.4 381.0L786.5 385.0L786.6 389.0L786.7 393.0L786.8 397.0L786.8 401.0L786.9 405.0L786.9 409.0L786.9 413.0L786.9 417.0L787.0 421.0L787.0 425.0L787.0 429.0L787.0 433.0L787.0 437.0L787.0 441.0L787.0 445.0L787.0 449.0L787.0 453.0L787.0 457.0L787.0 461.0L787.0 465.0L787.0 469.0L787.0 473.0L787.0 477.0M941.0 205.0L941.0 209.0L941.0 213.0L941.1 217.0L941.1 221.0L941.1 225.0L941.1 229.0L941.2 233.0L941.2 237.0L941.3 241.0L941.4 245.0L941.4 249.0L941.6 253.0L941.7 257.0L941.8 261.0L942.0 265.0L942.1 269.0L942.3 273.0L942.5 277.0L942.7 281.0L942.9 285.0L943.1 289.0L943.3 293.0L943.5 297.0L943.7 301.0L943.8 305.0L943.9 309.0L944.0 313.0L944.0 317.0L944.0 321.0L943.9 325.0L943.9 329.0L943.7 333.0L943.6 337.0L943.4 341.0L943.2 345.0L943.0 349.0L942.8 353.0L942.6 357.0L942.4 361.0L942.2 365.0L942.1 369.0L941.9 373.0L941.7 377.0L941.6 381.0L941.5 385.0L941.4 389.0L941.3 393.0L941.2 397.0L941.2 401.0L941.1 405.0L941.1 409.0L941.1 413.0L941.1 417.0L941.0 421.0L941.0 425.0L941.0 429.0L941.0 433.0L941.0 437.0L941.0 441.0L941.0 445.0L941.0 449.0L941.0 453.0L941.0 457.0L941.0 461.0L941.0 465.0L941.0 469.0L941.0 473.0L941.0 477.0M772.0 205.0L772.0 209.0L772.0 213.0L772.0 217.0L772.0 221.0L772.0 225.0L772.0 229.0L772.0 233.0L772.0 237.0L772.0 241.0L772.0 245.0L772.0 249.0L772.0 253.0L772.0 257.0L772.0 261.0L772.0 265.0L772.0 269.0L772.0 273.0L772.0 277.0L772.0 281.0L772.0 285.0L772.0 289.0L772.0 293.0L772.0 297.0L772.0 301.0L772.0 305.0L772.0 309.0L772.0 313.0L772.0 317.0L772.0 321.0L772.0 325.0L772.0 329.0L772.0 333.0L772.0 337.0L772.0 341.0L772.0 345.0L772.0 349.0L772.0 353.0L772.0 357.0L772.0 361.0L772.0 365.0L772.0 369.0L772.0 373.0L772.0 377.0L772.0 381.0L772.0 385.0L772.0 389.0L772.0 393.0L772.0 397.0L772.0 401.0L772.0 405.0L772.0 409.0L772.0 413.0L772.0 417.0L772.0 421.0L772.0 425.0L772.0 429.0L772.0 433.0L772.0 437.0L772.0 441.0L772.0 445.0L772.0 449.0L772.0 453.0L772.0 457.0L772.0 461.0L772.0 465.0L772.0 469.0L772.0 473.0L772.0 477.0M956.0 205.0L956.0 209.0L956.0 213.0L956.0 217.0L956.0 221.0L956.0 225.0L956.0 229.0L956.0 233.0L956.0 237.0L956.0 241.0L956.0 245.0L956.0 249.0L956.0 253.0L956.0 257.0L956.0 261.0L956.0 265.0L956.0 269.0L956.0 273.0L956.0 277.0L956.0 281.0L956.0 285.0L956.0 289.0L956.0 293.0L956.0 297.0L956.0 301.0L956.0 305.0L956.0 309.0L956.0 313.0L956.0 317.0L956.0 321.0L956.0 325.0L956.0 329.0L956.0 333.0L956.0 337.0L956.0 341.0L956.0 345.0L956.0 349.0L956.0 353.0L956.0 357.0L956.0 361.0L956.0 365.0L956.0 369.0L956.0 373.0L956.0 377.0L956.0 381.0L956.0 385.0L956.0 389.0L956.0 393.0L956.0 397.0L956.0 401.0L956.0 405.0L956.0 409.0L956.0 413.0L956.0 417.0L956.0 421.0L956.0 425.0L956.0 429.0L956.0 433.0L956.0 437.0L956.0 441.0L956.0 445.0L956.0 449.0L956.0 453.0L956.0 457.0L956.0 461.0L956.0 465.0L956.0 469.0L956.0 473.0L956.0 477.0" stroke="#ff7a20" stroke-width="7" fill="none" opacity="0.55" filter="url(#blur2)"/>
<path d="M848.4 205.0L848.3 209.0L848.3 213.0L848.2 217.0L848.0 221.0L847.9 225.0L847.7 229.0L847.4 233.0L847.0 237.0L846.6 241.0L846.1 245.0L845.5 249.0L844.8 253.0L844.0 257.0L843.0 261.0L842.0 265.0L840.8 269.0L839.6 273.0L838.2 277.0L836.9 281.0L835.5 285.0L834.1 289.0L832.8 293.0L831.7 297.0L830.6 301.0L829.7 305.0L829.0 309.0L828.6 313.0L828.4 317.0L828.5 321.0L828.8 325.0L829.3 329.0L830.1 333.0L831.1 337.0L832.2 341.0L833.5 345.0L834.8 349.0L836.2 353.0L837.6 357.0L838.9 361.0L840.2 365.0L841.4 369.0L842.5 373.0L843.5 377.0L844.4 381.0L845.2 385.0L845.8 389.0L846.4 393.0L846.8 397.0L847.2 401.0L847.5 405.0L847.8 409.0L848.0 413.0L848.1 417.0L848.2 421.0L848.3 425.0L848.4 429.0L848.4 433.0L848.4 437.0L848.5 441.0L848.5 445.0L848.5 449.0L848.5 453.0L848.5 457.0L848.5 461.0L848.5 465.0L848.5 469.0L848.5 473.0L848.5 477.0M879.6 205.0L879.7 209.0L879.7 213.0L879.8 217.0L880.0 221.0L880.1 225.0L880.3 229.0L880.6 233.0L881.0 237.0L881.4 241.0L881.9 245.0L882.5 249.0L883.2 253.0L884.0 257.0L885.0 261.0L886.0 265.0L887.2 269.0L888.4 273.0L889.8 277.0L891.1 281.0L892.5 285.0L893.9 289.0L895.2 293.0L896.3 297.0L897.4 301.0L898.3 305.0L899.0 309.0L899.4 313.0L899.6 317.0L899.5 321.0L899.2 325.0L898.7 329.0L897.9 333.0L896.9 337.0L895.8 341.0L894.5 345.0L893.2 349.0L891.8 353.0L890.4 357.0L889.1 361.0L887.8 365.0L886.6 369.0L885.5 373.0L884.5 377.0L883.6 381.0L882.8 385.0L882.2 389.0L881.6 393.0L881.2 397.0L880.8 401.0L880.5 405.0L880.2 409.0L880.0 413.0L879.9 417.0L879.8 421.0L879.7 425.0L879.6 429.0L879.6 433.0L879.6 437.0L879.5 441.0L879.5 445.0L879.5 449.0L879.5 453.0L879.5 457.0L879.5 461.0L879.5 465.0L879.5 469.0L879.5 473.0L879.5 477.0M835.9 205.0L835.9 209.0L835.8 213.0L835.8 217.0L835.7 221.0L835.6 225.0L835.4 229.0L835.2 233.0L835.0 237.0L834.7 241.0L834.3 245.0L833.9 249.0L833.4 253.0L832.8 257.0L832.2 261.0L831.4 265.0L830.6 269.0L829.8 273.0L828.9 277.0L827.9 281.0L826.9 285.0L826.0 289.0L825.1 293.0L824.3 297.0L823.5 301.0L822.9 305.0L822.4 309.0L822.1 313.0L822.0 317.0L822.1 321.0L822.3 325.0L822.7 329.0L823.2 333.0L823.9 337.0L824.7 341.0L825.5 345.0L826.5 349.0L827.4 353.0L828.4 357.0L829.3 361.0L830.2 365.0L831.1 369.0L831.8 373.0L832.5 377.0L833.1 381.0L833.7 385.0L834.1 389.0L834.5 393.0L834.8 397.0L835.1 401.0L835.3 405.0L835.5 409.0L835.6 413.0L835.7 417.0L835.8 421.0L835.9 425.0L835.9 429.0L835.9 433.0L836.0 437.0L836.0 441.0L836.0 445.0L836.0 449.0L836.0 453.0L836.0 457.0L836.0 461.0L836.0 465.0L836.0 469.0L836.0 473.0L836.0 477.0M892.1 205.0L892.1 209.0L892.2 213.0L892.2 217.0L892.3 221.0L892.4 225.0L892.6 229.0L892.8 233.0L893.0 237.0L893.3 241.0L893.7 245.0L894.1 249.0L894.6 253.0L895.2 257.0L895.8 261.0L896.6 265.0L897.4 269.0L898.2 273.0L899.1 277.0L900.1 281.0L901.1 285.0L902.0 289.0L902.9 293.0L903.7 297.0L904.5 301.0L905.1 305.0L905.6 309.0L905.9 313.0L906.0 317.0L905.9 321.0L905.7 325.0L905.3 329.0L904.8 333.0L904.1 337.0L903.3 341.0L902.5 345.0L901.5 349.0L900.6 353.0L899.6 357.0L898.7 361.0L897.8 365.0L896.9 369.0L896.2 373.0L895.5 377.0L894.9 381.0L894.3 385.0L893.9 389.0L893.5 393.0L893.2 397.0L892.9 401.0L892.7 405.0L892.5 409.0L892.4 413.0L892.3 417.0L892.2 421.0L892.1 425.0L892.1 429.0L892.1 433.0L892.0 437.0L892.0 441.0L892.0 445.0L892.0 449.0L892.0 453.0L892.0 457.0L892.0 461.0L892.0 465.0L892.0 469.0L892.0 473.0L892.0 477.0M823.9 205.0L823.9 209.0L823.9 213.0L823.8 217.0L823.7 221.0L823.6 225.0L823.5 229.0L823.3 233.0L823.1 237.0L822.9 241.0L822.6 245.0L822.2 249.0L821.8 253.0L821.3 257.0L820.7 261.0L820.1 265.0L819.4 269.0L818.7 273.0L817.9 277.0L817.1 281.0L816.2 285.0L815.4 289.0L814.7 293.0L813.9 297.0L813.3 301.0L812.8 305.0L812.4 309.0L812.1 313.0L812.0 317.0L812.0 321.0L812.2 325.0L812.6 329.0L813.0 333.0L813.6 337.0L814.3 341.0L815.0 345.0L815.8 349.0L816.6 353.0L817.5 357.0L818.3 361.0L819.0 365.0L819.8 369.0L820.4 373.0L821.0 377.0L821.5 381.0L822.0 385.0L822.4 389.0L822.7 393.0L823.0 397.0L823.2 401.0L823.4 405.0L823.6 409.0L823.7 413.0L823.8 417.0L823.8 421.0L823.9 425.0L823.9 429.0L823.9 433.0L824.0 437.0L824.0 441.0L824.0 445.0L824.0 449.0L824.0 453.0L824.0 457.0L824.0 461.0L824.0 465.0L824.0 469.0L824.0 473.0L824.0 477.0M904.1 205.0L904.1 209.0L904.1 213.0L904.2 217.0L904.3 221.0L904.4 225.0L904.5 229.0L904.7 233.0L904.9 237.0L905.1 241.0L905.4 245.0L905.8 249.0L906.2 253.0L906.7 257.0L907.3 261.0L907.9 265.0L908.6 269.0L909.3 273.0L910.1 277.0L910.9 281.0L911.8 285.0L912.6 289.0L913.3 293.0L914.1 297.0L914.7 301.0L915.2 305.0L915.6 309.0L915.9 313.0L916.0 317.0L916.0 321.0L915.8 325.0L915.4 329.0L915.0 333.0L914.4 337.0L913.7 341.0L913.0 345.0L912.2 349.0L911.4 353.0L910.5 357.0L909.7 361.0L909.0 365.0L908.2 369.0L907.6 373.0L907.0 377.0L906.5 381.0L906.0 385.0L905.6 389.0L905.3 393.0L905.0 397.0L904.8 401.0L904.6 405.0L904.4 409.0L904.3 413.0L904.2 417.0L904.2 421.0L904.1 425.0L904.1 429.0L904.1 433.0L904.0 437.0L904.0 441.0L904.0 445.0L904.0 449.0L904.0 453.0L904.0 457.0L904.0 461.0L904.0 465.0L904.0 469.0L904.0 473.0L904.0 477.0M811.0 205.0L810.9 209.0L810.9 213.0L810.9 217.0L810.8 221.0L810.7 225.0L810.7 229.0L810.6 233.0L810.4 237.0L810.3 241.0L810.1 245.0L809.8 249.0L809.5 253.0L809.2 257.0L808.8 261.0L808.4 265.0L807.9 269.0L807.4 273.0L806.9 277.0L806.4 281.0L805.8 285.0L805.3 289.0L804.8 293.0L804.3 297.0L803.9 301.0L803.5 305.0L803.3 309.0L803.1 313.0L803.0 317.0L803.0 321.0L803.2 325.0L803.4 329.0L803.7 333.0L804.1 337.0L804.5 341.0L805.0 345.0L805.6 349.0L806.1 353.0L806.6 357.0L807.2 361.0L807.7 365.0L808.2 369.0L808.6 373.0L809.0 377.0L809.4 381.0L809.7 385.0L809.9 389.0L810.2 393.0L810.3 397.0L810.5 401.0L810.6 405.0L810.7 409.0L810.8 413.0L810.8 417.0L810.9 421.0L810.9 425.0L810.9 429.0L811.0 433.0L811.0 437.0L811.0 441.0L811.0 445.0L811.0 449.0L811.0 453.0L811.0 457.0L811.0 461.0L811.0 465.0L811.0 469.0L811.0 473.0L811.0 477.0M917.0 205.0L917.1 209.0L917.1 213.0L917.1 217.0L917.2 221.0L917.3 225.0L917.3 229.0L917.4 233.0L917.6 237.0L917.7 241.0L917.9 245.0L918.2 249.0L918.5 253.0L918.8 257.0L919.2 261.0L919.6 265.0L920.1 269.0L920.6 273.0L921.1 277.0L921.6 281.0L922.2 285.0L922.7 289.0L923.2 293.0L923.7 297.0L924.1 301.0L924.5 305.0L924.7 309.0L924.9 313.0L925.0 317.0L925.0 321.0L924.8 325.0L924.6 329.0L924.3 333.0L923.9 337.0L923.5 341.0L923.0 345.0L922.4 349.0L921.9 353.0L921.4 357.0L920.8 361.0L920.3 365.0L919.8 369.0L919.4 373.0L919.0 377.0L918.6 381.0L918.3 385.0L918.1 389.0L917.8 393.0L917.7 397.0L917.5 401.0L917.4 405.0L917.3 409.0L917.2 413.0L917.2 417.0L917.1 421.0L917.1 425.0L917.1 429.0L917.0 433.0L917.0 437.0L917.0 441.0L917.0 445.0L917.0 449.0L917.0 453.0L917.0 457.0L917.0 461.0L917.0 465.0L917.0 469.0L917.0 473.0L917.0 477.0M800.0 205.0L799.9 209.0L799.9 213.0L799.9 217.0L799.8 221.0L799.8 225.0L799.7 229.0L799.6 233.0L799.5 237.0L799.4 241.0L799.2 245.0L799.0 249.0L798.8 253.0L798.5 257.0L798.2 261.0L797.9 265.0L797.5 269.0L797.1 273.0L796.7 277.0L796.2 281.0L795.8 285.0L795.4 289.0L794.9 293.0L794.6 297.0L794.2 301.0L793.9 305.0L793.7 309.0L793.6 313.0L793.5 317.0L793.5 321.0L793.6 325.0L793.8 329.0L794.1 333.0L794.4 337.0L794.7 341.0L795.1 345.0L795.6 349.0L796.0 353.0L796.5 357.0L796.9 361.0L797.3 365.0L797.7 369.0L798.1 373.0L798.4 377.0L798.7 381.0L798.9 385.0L799.1 389.0L799.3 393.0L799.5 397.0L799.6 401.0L799.7 405.0L799.8 409.0L799.8 413.0L799.9 417.0L799.9 421.0L799.9 425.0L800.0 429.0L800.0 433.0L800.0 437.0L800.0 441.0L800.0 445.0L800.0 449.0L800.0 453.0L800.0 457.0L800.0 461.0L800.0 465.0L800.0 469.0L800.0 473.0L800.0 477.0M928.0 205.0L928.1 209.0L928.1 213.0L928.1 217.0L928.2 221.0L928.2 225.0L928.3 229.0L928.4 233.0L928.5 237.0L928.6 241.0L928.8 245.0L929.0 249.0L929.2 253.0L929.5 257.0L929.8 261.0L930.1 265.0L930.5 269.0L930.9 273.0L931.3 277.0L931.8 281.0L932.2 285.0L932.6 289.0L933.1 293.0L933.4 297.0L933.8 301.0L934.1 305.0L934.3 309.0L934.4 313.0L934.5 317.0L934.5 321.0L934.4 325.0L934.2 329.0L933.9 333.0L933.6 337.0L933.3 341.0L932.9 345.0L932.4 349.0L932.0 353.0L931.5 357.0L931.1 361.0L930.7 365.0L930.3 369.0L929.9 373.0L929.6 377.0L929.3 381.0L929.1 385.0L928.9 389.0L928.7 393.0L928.5 397.0L928.4 401.0L928.3 405.0L928.2 409.0L928.2 413.0L928.1 417.0L928.1 421.0L928.1 425.0L928.0 429.0L928.0 433.0L928.0 437.0L928.0 441.0L928.0 445.0L928.0 449.0L928.0 453.0L928.0 457.0L928.0 461.0L928.0 465.0L928.0 469.0L928.0 473.0L928.0 477.0M787.0 205.0L787.0 209.0L787.0 213.0L786.9 217.0L786.9 221.0L786.9 225.0L786.9 229.0L786.8 233.0L786.8 237.0L786.7 241.0L786.6 245.0L786.6 249.0L786.4 253.0L786.3 257.0L786.2 261.0L786.0 265.0L785.9 269.0L785.7 273.0L785.5 277.0L785.3 281.0L785.1 285.0L784.9 289.0L784.7 293.0L784.5 297.0L784.3 301.0L784.2 305.0L784.1 309.0L784.0 313.0L784.0 317.0L784.0 321.0L784.1 325.0L784.1 329.0L784.3 333.0L784.4 337.0L784.6 341.0L784.8 345.0L785.0 349.0L785.2 353.0L785.4 357.0L785.6 361.0L785.8 365.0L785.9 369.0L786.1 373.0L786.3 377.0L786.4 381.0L786.5 385.0L786.6 389.0L786.7 393.0L786.8 397.0L786.8 401.0L786.9 405.0L786.9 409.0L786.9 413.0L786.9 417.0L787.0 421.0L787.0 425.0L787.0 429.0L787.0 433.0L787.0 437.0L787.0 441.0L787.0 445.0L787.0 449.0L787.0 453.0L787.0 457.0L787.0 461.0L787.0 465.0L787.0 469.0L787.0 473.0L787.0 477.0M941.0 205.0L941.0 209.0L941.0 213.0L941.1 217.0L941.1 221.0L941.1 225.0L941.1 229.0L941.2 233.0L941.2 237.0L941.3 241.0L941.4 245.0L941.4 249.0L941.6 253.0L941.7 257.0L941.8 261.0L942.0 265.0L942.1 269.0L942.3 273.0L942.5 277.0L942.7 281.0L942.9 285.0L943.1 289.0L943.3 293.0L943.5 297.0L943.7 301.0L943.8 305.0L943.9 309.0L944.0 313.0L944.0 317.0L944.0 321.0L943.9 325.0L943.9 329.0L943.7 333.0L943.6 337.0L943.4 341.0L943.2 345.0L943.0 349.0L942.8 353.0L942.6 357.0L942.4 361.0L942.2 365.0L942.1 369.0L941.9 373.0L941.7 377.0L941.6 381.0L941.5 385.0L941.4 389.0L941.3 393.0L941.2 397.0L941.2 401.0L941.1 405.0L941.1 409.0L941.1 413.0L941.1 417.0L941.0 421.0L941.0 425.0L941.0 429.0L941.0 433.0L941.0 437.0L941.0 441.0L941.0 445.0L941.0 449.0L941.0 453.0L941.0 457.0L941.0 461.0L941.0 465.0L941.0 469.0L941.0 473.0L941.0 477.0M772.0 205.0L772.0 209.0L772.0 213.0L772.0 217.0L772.0 221.0L772.0 225.0L772.0 229.0L772.0 233.0L772.0 237.0L772.0 241.0L772.0 245.0L772.0 249.0L772.0 253.0L772.0 257.0L772.0 261.0L772.0 265.0L772.0 269.0L772.0 273.0L772.0 277.0L772.0 281.0L772.0 285.0L772.0 289.0L772.0 293.0L772.0 297.0L772.0 301.0L772.0 305.0L772.0 309.0L772.0 313.0L772.0 317.0L772.0 321.0L772.0 325.0L772.0 329.0L772.0 333.0L772.0 337.0L772.0 341.0L772.0 345.0L772.0 349.0L772.0 353.0L772.0 357.0L772.0 361.0L772.0 365.0L772.0 369.0L772.0 373.0L772.0 377.0L772.0 381.0L772.0 385.0L772.0 389.0L772.0 393.0L772.0 397.0L772.0 401.0L772.0 405.0L772.0 409.0L772.0 413.0L772.0 417.0L772.0 421.0L772.0 425.0L772.0 429.0L772.0 433.0L772.0 437.0L772.0 441.0L772.0 445.0L772.0 449.0L772.0 453.0L772.0 457.0L772.0 461.0L772.0 465.0L772.0 469.0L772.0 473.0L772.0 477.0M956.0 205.0L956.0 209.0L956.0 213.0L956.0 217.0L956.0 221.0L956.0 225.0L956.0 229.0L956.0 233.0L956.0 237.0L956.0 241.0L956.0 245.0L956.0 249.0L956.0 253.0L956.0 257.0L956.0 261.0L956.0 265.0L956.0 269.0L956.0 273.0L956.0 277.0L956.0 281.0L956.0 285.0L956.0 289.0L956.0 293.0L956.0 297.0L956.0 301.0L956.0 305.0L956.0 309.0L956.0 313.0L956.0 317.0L956.0 321.0L956.0 325.0L956.0 329.0L956.0 333.0L956.0 337.0L956.0 341.0L956.0 345.0L956.0 349.0L956.0 353.0L956.0 357.0L956.0 361.0L956.0 365.0L956.0 369.0L956.0 373.0L956.0 377.0L956.0 381.0L956.0 385.0L956.0 389.0L956.0 393.0L956.0 397.0L956.0 401.0L956.0 405.0L956.0 409.0L956.0 413.0L956.0 417.0L956.0 421.0L956.0 425.0L956.0 429.0L956.0 433.0L956.0 437.0L956.0 441.0L956.0 445.0L956.0 449.0L956.0 453.0L956.0 457.0L956.0 461.0L956.0 465.0L956.0 469.0L956.0 473.0L956.0 477.0" stroke="#f8b070" stroke-width="2.2" fill="none"/>
</g>
<circle cx="864" cy="319" r="33.5" fill="url(#sph)"/>
<ellipse cx="864" cy="292" rx="28" ry="7" fill="#a06a38" opacity="0.55" filter="url(#blur2)"/>
<polygon points="840.5,302 846,288 844.5,296 846.5,296" fill="#60d0c8"/>
<polygon points="860.5,302 866,288 864.5,296 866.5,296" fill="#60d0c8"/>
<polygon points="879.5,302 885,288 883.5,296 885.5,296" fill="#60d0c8"/>
<ellipse cx="864" cy="318" rx="15" ry="3" fill="#b8b098"/>
<ellipse cx="864" cy="318" rx="9" ry="1.2" fill="#5a5040"/>
<polygon points="790,137 938,137 990,165 728,164" fill="url(#crownG)"/>
<polygon points="728,164 790,137 800,137 760,165" fill="#2c2a2a"/>
<polygon points="745,158 790,140 800,150 770,162" fill="#6a6664" opacity="0.6"/>
<polygon points="938,137 990,165 962,166 922,137" fill="#2e2a2c"/>
<polygon points="940,142 975,160 960,163 930,148" fill="#8a8488" opacity="0.6"/>
<polygon points="812,137 872,137 850,152" fill="#c4a890" opacity="0.9"/>
<polygon points="798,165 868,146 936,165" fill="#eceef0" opacity="0.85"/>
<polygon points="872,137 908,137 938,162 884,150" fill="#bcaab8" opacity="0.8"/>
<polygon points="728,164 990,165 987,170 732,170" fill="#2a2828"/>
<defs><linearGradient id="pavV" x1="0" y1="172" x2="0" y2="288" gradientUnits="userSpaceOnUse"><stop offset="0" stop-color="#6a6462" stop-opacity="0.97"/><stop offset="0.4" stop-color="#565050" stop-opacity="0.85"/><stop offset="1" stop-color="#4a4442" stop-opacity="0.35"/></linearGradient></defs>
<polygon points="732,170 987,170 895,284 842,288" fill="url(#pavV)"/>
<polygon points="752,176 900,174 972,178 955,192 775,195" fill="#d6d4d2" opacity="0.8"/>
<polygon points="808,196 862,192 882,216 825,218" fill="#2a2826" opacity="0.65"/>
<polygon points="882,196 945,192 928,216 890,216" fill="#383432" opacity="0.55"/>
<polygon points="775,205 808,198 825,218 790,222" fill="#8a8684" opacity="0.5"/>
<polygon points="855,223 904,223 878,258" fill="#dcb890" opacity="0.9"/>
<polygon points="904,223 948,205 918,262 896,272" fill="#c0a080" opacity="0.65"/>
<polyline points="728,165 842,288" stroke="#8a8482" stroke-width="1.3" fill="none" opacity="0.8"/>
<polyline points="990,165 895,284" stroke="#8a8482" stroke-width="1.3" fill="none" opacity="0.8"/>
<ellipse cx="861" cy="354" rx="38" ry="10" fill="#ffb020" opacity="0.55" filter="url(#blur4)"/>
<ellipse cx="861" cy="354" rx="34" ry="6.5" fill="url(#disk)"/>
<defs><linearGradient id="bodyG" x1="0" y1="395" x2="0" y2="450" gradientUnits="userSpaceOnUse"><stop offset="0" stop-color="#38322e" stop-opacity="0.6"/><stop offset="1" stop-color="#38322e" stop-opacity="0.94"/></linearGradient></defs>
<path d="M826,356 L893,356 L982,457 L982,472 Q978,488 950,500 Q860,530 770,500 Q742,488 739,472 Z" fill="#2a2522" opacity="0.5"/>
<polygon points="830,358 890,358 892,400 828,400" fill="#1a1612" opacity="0.5"/>
<path d="M790,398 L933,398 L982,457 L982,472 Q978,488 950,500 Q860,530 770,500 Q742,488 739,472 L739,460 Z" fill="url(#bodyG)"/>
<polyline points="785,398 938,398" stroke="#a09a94" stroke-width="1.2" opacity="0.3"/>
<polygon points="817,432 831,435 819,502 775,493" fill="#8e9094" opacity="0.9"/>
<polygon points="917,422 931,422 941,441 923,436" fill="#d8d0b0" opacity="0.9"/>
<polygon points="857,440 905,445 903,449 857,444" fill="#b8b8b8" opacity="0.7"/>
<polygon points="940,450 962,470 952,500 930,495" fill="#5a5452" opacity="0.6"/>
<polygon points="905,447 935,450 925,505 905,508" fill="#24201e" opacity="0.7"/>
<polygon points="912,478 928,482 922,505 908,506" fill="#9a9ca0" opacity="0.6"/>
<polygon points="930,425 955,440 945,452 925,440" fill="#6a6664" opacity="0.6"/>
<polygon points="760,450 800,420 810,430 770,470" fill="#4a4440" opacity="0.6"/>
<polyline points="826,356 739,460" stroke="#a8a4a0" stroke-width="1.3" fill="none" opacity="0.75"/>
<polyline points="893,356 982,457" stroke="#a8a4a0" stroke-width="1.3" fill="none" opacity="0.75"/>
<path d="M775,501 Q860,530 945,501" stroke="#d6d2ce" stroke-width="3" fill="none" opacity="0.85"/>
<path d="M739,462 L739,472 Q742,488 770,500" stroke="#8a8480" stroke-width="1.5" fill="none" opacity="0.7"/>
<path d="M982,459 L982,472 Q978,488 950,500" stroke="#8a8480" stroke-width="1.5" fill="none" opacity="0.7"/>
</g>
<text x="642" y="16.4" font-size="26" fill="#111" text-anchor="start" font-weight="bold" >e</text>
</g>
</svg></body></html>
